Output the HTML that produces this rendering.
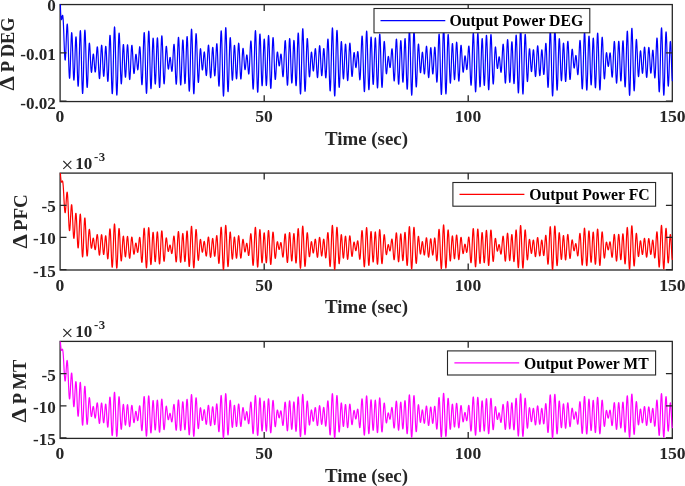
<!DOCTYPE html>
<html><head><meta charset="utf-8"><title>Output Power</title>
<style>
html,body{margin:0;padding:0;background:#fff;}
svg{display:block;}
text{font-family:"Liberation Serif","Times New Roman",serif;font-weight:bold;fill:#262626;}
.tk{font-size:17.1px;}
.lb{font-size:18.9px;}
.lg{font-size:15.75px;fill:#000;}
.ax{fill:none;stroke:#262626;stroke-width:1.3;}
</style></head><body>
<svg width="685" height="486" viewBox="0 0 685 486">
<rect x="0" y="0" width="685" height="486" fill="#ffffff"/>

<g>
<rect class="ax" x="60.1" y="4.55" width="612.2" height="97.00"/>
<path d="M60.40 4.55L60.52 9.71L60.64 12.82L60.77 15.01L60.89 16.68L61.01 17.95L61.13 18.85L61.26 19.42L61.38 19.67L61.50 19.63L61.62 19.34L61.75 18.85L61.87 18.23L61.99 17.52L62.11 16.82L62.24 16.17L62.36 15.67L62.48 15.36L62.60 15.31L62.73 15.58L62.85 16.20L62.97 17.20L63.09 18.61L63.22 20.41L63.34 22.60L63.46 25.15L63.58 28.02L63.71 31.14L63.83 34.45L63.95 37.88L64.07 41.34L64.20 44.74L64.32 47.98L64.44 50.99L64.56 53.68L64.69 55.97L64.81 57.80L64.93 59.10L65.05 59.84L65.18 60.01L65.30 59.58L65.42 58.58L65.54 57.04L65.66 55.00L65.79 52.52L65.91 49.70L66.03 46.61L66.15 43.35L66.28 40.05L66.40 36.80L66.52 33.72L66.64 30.91L66.77 28.48L66.89 26.51L67.01 25.09L67.13 24.27L67.26 24.10L67.38 24.61L67.50 25.79L67.62 27.64L67.75 30.11L67.87 33.15L67.99 36.68L68.11 40.62L68.24 44.85L68.36 49.26L68.48 53.74L68.60 58.16L68.73 62.40L68.85 66.33L68.97 69.84L69.09 72.85L69.22 75.25L69.34 76.99L69.46 78.03L69.58 78.32L69.71 77.87L69.83 76.71L69.95 74.86L70.07 72.39L70.20 69.38L70.32 65.93L70.44 62.15L70.56 58.15L70.68 54.07L70.81 50.04L70.93 46.18L71.05 42.61L71.17 39.45L71.30 36.81L71.42 34.76L71.54 33.37L71.66 32.69L71.79 32.74L71.91 33.52L72.03 35.01L72.15 37.16L72.28 39.91L72.40 43.17L72.52 46.84L72.64 50.81L72.77 54.95L72.89 59.14L73.01 63.24L73.13 67.13L73.26 70.68L73.38 73.79L73.50 76.36L73.62 78.31L73.75 79.58L73.87 80.13L73.99 79.95L74.11 79.05L74.24 77.46L74.36 75.23L74.48 72.44L74.60 69.19L74.73 65.57L74.85 61.71L74.97 57.75L75.09 53.80L75.22 50.01L75.34 46.50L75.46 43.38L75.58 40.78L75.70 38.77L75.83 37.43L75.95 36.81L76.07 36.94L76.19 37.82L76.32 39.42L76.44 41.72L76.56 44.63L76.68 48.07L76.81 51.94L76.93 56.12L77.05 60.48L77.17 64.87L77.30 69.17L77.42 73.23L77.54 76.92L77.66 80.13L77.79 82.73L77.91 84.66L78.03 85.84L78.15 86.22L78.28 85.78L78.40 84.54L78.52 82.51L78.64 79.76L78.77 76.36L78.89 72.42L79.01 68.04L79.13 63.37L79.26 58.53L79.38 53.68L79.50 48.97L79.62 44.54L79.75 40.53L79.87 37.06L79.99 34.26L80.11 32.20L80.24 30.96L80.36 30.59L80.48 31.10L80.60 32.48L80.73 34.70L80.85 37.71L80.97 41.42L81.09 45.72L81.21 50.50L81.34 55.62L81.46 60.92L81.58 66.26L81.70 71.48L81.83 76.43L81.95 80.96L82.07 84.95L82.19 88.26L82.32 90.82L82.44 92.54L82.56 93.38L82.68 93.30L82.81 92.32L82.93 90.45L83.05 87.76L83.17 84.33L83.30 80.25L83.42 75.65L83.54 70.65L83.66 65.40L83.79 60.06L83.91 54.77L84.03 49.69L84.15 44.96L84.28 40.71L84.40 37.07L84.52 34.12L84.64 31.96L84.77 30.62L84.89 30.15L85.01 30.55L85.13 31.80L85.26 33.85L85.38 36.64L85.50 40.07L85.62 44.04L85.75 48.42L85.87 53.10L85.99 57.93L86.11 62.76L86.23 67.47L86.36 71.91L86.48 75.98L86.60 79.54L86.72 82.52L86.85 84.84L86.97 86.45L87.09 87.32L87.21 87.43L87.34 86.80L87.46 85.47L87.58 83.50L87.70 80.96L87.83 77.93L87.95 74.53L88.07 70.87L88.19 67.05L88.32 63.20L88.44 59.44L88.56 55.87L88.68 52.60L88.81 49.72L88.93 47.30L89.05 45.40L89.17 44.06L89.30 43.31L89.42 43.15L89.54 43.55L89.66 44.49L89.79 45.92L89.91 47.77L90.03 49.97L90.15 52.42L90.28 55.04L90.40 57.74L90.52 60.41L90.64 62.98L90.77 65.36L90.89 67.46L91.01 69.24L91.13 70.64L91.25 71.62L91.38 72.18L91.50 72.29L91.62 71.99L91.74 71.29L91.87 70.23L91.99 68.88L92.11 67.29L92.23 65.53L92.36 63.68L92.48 61.82L92.60 60.02L92.72 58.36L92.85 56.90L92.97 55.69L93.09 54.79L93.21 54.22L93.34 54.02L93.46 54.18L93.58 54.70L93.70 55.55L93.83 56.71L93.95 58.13L94.07 59.74L94.19 61.49L94.32 63.31L94.44 65.11L94.56 66.84L94.68 68.41L94.81 69.77L94.93 70.85L95.05 71.61L95.17 72.00L95.30 72.01L95.42 71.62L95.54 70.83L95.66 69.68L95.79 68.18L95.91 66.38L96.03 64.34L96.15 62.12L96.27 59.81L96.40 57.47L96.52 55.18L96.64 53.04L96.76 51.11L96.89 49.46L97.01 48.16L97.13 47.26L97.25 46.79L97.38 46.78L97.50 47.25L97.62 48.18L97.74 49.55L97.87 51.33L97.99 53.46L98.11 55.88L98.23 58.53L98.36 61.31L98.48 64.14L98.60 66.94L98.72 69.60L98.85 72.05L98.97 74.21L99.09 76.00L99.21 77.37L99.34 78.27L99.46 78.66L99.58 78.54L99.70 77.90L99.83 76.76L99.95 75.15L100.07 73.13L100.19 70.75L100.32 68.09L100.44 65.24L100.56 62.28L100.68 59.31L100.81 56.43L100.93 53.71L101.05 51.26L101.17 49.15L101.29 47.45L101.42 46.21L101.54 45.47L101.66 45.25L101.78 45.56L101.91 46.38L102.03 47.70L102.15 49.45L102.27 51.59L102.40 54.04L102.52 56.72L102.64 59.54L102.76 62.39L102.89 65.20L103.01 67.85L103.13 70.27L103.25 72.37L103.38 74.07L103.50 75.33L103.62 76.09L103.74 76.34L103.87 76.06L103.99 75.26L104.11 73.98L104.23 72.24L104.36 70.13L104.48 67.70L104.60 65.04L104.72 62.24L104.85 59.41L104.97 56.64L105.09 54.04L105.21 51.69L105.34 49.68L105.46 48.09L105.58 46.98L105.70 46.40L105.83 46.37L105.95 46.90L106.07 47.99L106.19 49.60L106.31 51.69L106.44 54.19L106.56 57.03L106.68 60.11L106.80 63.33L106.93 66.57L107.05 69.74L107.17 72.72L107.29 75.40L107.42 77.69L107.54 79.50L107.66 80.75L107.78 81.39L107.91 81.39L108.03 80.72L108.15 79.40L108.27 77.45L108.40 74.92L108.52 71.88L108.64 68.41L108.76 64.62L108.89 60.61L109.01 56.52L109.13 52.47L109.25 48.59L109.38 45.00L109.50 41.83L109.62 39.18L109.74 37.15L109.87 35.82L109.99 35.24L110.11 35.44L110.23 36.44L110.36 38.22L110.48 40.74L110.60 43.95L110.72 47.75L110.85 52.04L110.97 56.72L111.09 61.63L111.21 66.64L111.34 71.61L111.46 76.38L111.58 80.80L111.70 84.76L111.82 88.11L111.95 90.75L112.07 92.60L112.19 93.60L112.31 93.69L112.44 92.87L112.56 91.16L112.68 88.58L112.80 85.21L112.93 81.14L113.05 76.48L113.17 71.35L113.29 65.90L113.42 60.28L113.54 54.66L113.66 49.19L113.78 44.04L113.91 39.34L114.03 35.25L114.15 31.87L114.27 29.31L114.40 27.64L114.52 26.92L114.64 27.16L114.76 28.36L114.89 30.48L115.01 33.48L115.13 37.26L115.25 41.71L115.38 46.70L115.50 52.11L115.62 57.76L115.74 63.50L115.87 69.16L115.99 74.59L116.11 79.63L116.23 84.13L116.36 87.98L116.48 91.07L116.60 93.32L116.72 94.65L116.84 95.06L116.97 94.52L117.09 93.07L117.21 90.76L117.33 87.65L117.46 83.85L117.58 79.47L117.70 74.65L117.82 69.52L117.95 64.25L118.07 58.99L118.19 53.88L118.31 49.08L118.44 44.72L118.56 40.92L118.68 37.78L118.80 35.39L118.93 33.80L119.05 33.05L119.17 33.14L119.29 34.06L119.42 35.77L119.54 38.20L119.66 41.26L119.78 44.85L119.91 48.85L120.03 53.14L120.15 57.58L120.27 62.02L120.40 66.35L120.52 70.41L120.64 74.11L120.76 77.32L120.89 79.97L121.01 81.98L121.13 83.30L121.25 83.90L121.38 83.79L121.50 82.98L121.62 81.52L121.74 79.46L121.86 76.89L121.99 73.89L122.11 70.58L122.23 67.07L122.35 63.47L122.48 59.91L122.60 56.51L122.72 53.37L122.84 50.59L122.97 48.25L123.09 46.44L123.21 45.19L123.33 44.54L123.46 44.50L123.58 45.06L123.70 46.20L123.82 47.86L123.95 49.98L124.07 52.48L124.19 55.27L124.31 58.25L124.44 61.31L124.56 64.36L124.68 67.27L124.80 69.96L124.93 72.32L125.05 74.29L125.17 75.79L125.29 76.78L125.42 77.23L125.54 77.12L125.66 76.45L125.78 75.25L125.91 73.57L126.03 71.46L126.15 69.00L126.27 66.27L126.40 63.36L126.52 60.37L126.64 57.40L126.76 54.56L126.88 51.93L127.01 49.62L127.13 47.69L127.25 46.21L127.37 45.23L127.50 44.79L127.62 44.90L127.74 45.56L127.86 46.74L127.99 48.42L128.11 50.54L128.23 53.03L128.35 55.80L128.48 58.78L128.60 61.87L128.72 64.96L128.84 67.97L128.97 70.79L129.09 73.33L129.21 75.51L129.33 77.27L129.46 78.56L129.58 79.32L129.70 79.55L129.82 79.23L129.95 78.37L130.07 77.02L130.19 75.20L130.31 72.98L130.44 70.44L130.56 67.65L130.68 64.70L130.80 61.69L130.93 58.71L131.05 55.84L131.17 53.19L131.29 50.82L131.42 48.82L131.54 47.23L131.66 46.10L131.78 45.45L131.90 45.31L132.03 45.66L132.15 46.48L132.27 47.75L132.39 49.41L132.52 51.40L132.64 53.65L132.76 56.08L132.88 58.62L133.01 61.17L133.13 63.65L133.25 65.99L133.37 68.10L133.50 69.94L133.62 71.43L133.74 72.55L133.86 73.27L133.99 73.57L134.11 73.45L134.23 72.94L134.35 72.06L134.48 70.85L134.60 69.38L134.72 67.69L134.84 65.87L134.97 63.97L135.09 62.09L135.21 60.28L135.33 58.61L135.46 57.15L135.58 55.95L135.70 55.05L135.82 54.49L135.95 54.27L136.07 54.40L136.19 54.88L136.31 55.67L136.44 56.74L136.56 58.04L136.68 59.52L136.80 61.11L136.93 62.74L137.05 64.35L137.17 65.85L137.29 67.19L137.41 68.30L137.54 69.13L137.66 69.63L137.78 69.78L137.90 69.54L138.03 68.93L138.15 67.95L138.27 66.63L138.39 65.00L138.52 63.12L138.64 61.05L138.76 58.86L138.88 56.64L139.01 54.46L139.13 52.40L139.25 50.56L139.37 49.01L139.50 47.81L139.62 47.03L139.74 46.71L139.86 46.89L139.99 47.58L140.11 48.77L140.23 50.46L140.35 52.60L140.48 55.15L140.60 58.03L140.72 61.16L140.84 64.45L140.97 67.81L141.09 71.12L141.21 74.28L141.33 77.18L141.46 79.73L141.58 81.83L141.70 83.41L141.82 84.38L141.95 84.72L142.07 84.38L142.19 83.37L142.31 81.68L142.43 79.35L142.56 76.44L142.68 73.01L142.80 69.16L142.92 64.99L143.05 60.62L143.17 56.17L143.29 51.77L143.41 47.55L143.54 43.65L143.66 40.17L143.78 37.23L143.90 34.93L144.03 33.35L144.15 32.53L144.27 32.52L144.39 33.34L144.52 34.96L144.64 37.36L144.76 40.47L144.88 44.22L145.01 48.50L145.13 53.19L145.25 58.18L145.37 63.30L145.50 68.42L145.62 73.40L145.74 78.08L145.86 82.33L145.99 86.03L146.11 89.06L146.23 91.34L146.35 92.79L146.48 93.38L146.60 93.07L146.72 91.88L146.84 89.84L146.97 87.00L147.09 83.45L147.21 79.29L147.33 74.63L147.45 69.61L147.58 64.38L147.70 59.09L147.82 53.89L147.94 48.93L148.07 44.35L148.19 40.29L148.31 36.87L148.43 34.18L148.56 32.29L148.68 31.26L148.80 31.11L148.92 31.85L149.05 33.44L149.17 35.84L149.29 38.96L149.41 42.71L149.54 46.98L149.66 51.63L149.78 56.52L149.90 61.51L150.03 66.44L150.15 71.16L150.27 75.55L150.39 79.46L150.52 82.78L150.64 85.42L150.76 87.31L150.88 88.39L151.01 88.64L151.13 88.06L151.25 86.68L151.37 84.55L151.50 81.75L151.62 78.35L151.74 74.49L151.86 70.28L151.99 65.86L152.11 61.36L152.23 56.94L152.35 52.73L152.47 48.86L152.60 45.45L152.72 42.60L152.84 40.41L152.96 38.93L153.09 38.20L153.21 38.25L153.33 39.06L153.45 40.61L153.58 42.83L153.70 45.65L153.82 48.98L153.94 52.70L154.07 56.70L154.19 60.83L154.31 64.97L154.43 68.98L154.56 72.73L154.68 76.09L154.80 78.97L154.92 81.26L155.05 82.89L155.17 83.82L155.29 84.01L155.41 83.45L155.54 82.16L155.66 80.19L155.78 77.60L155.90 74.47L156.03 70.90L156.15 67.01L156.27 62.92L156.39 58.77L156.52 54.68L156.64 50.79L156.76 47.23L156.88 44.10L157.01 41.52L157.13 39.56L157.25 38.30L157.37 37.76L157.49 37.98L157.62 38.95L157.74 40.64L157.86 43.00L157.98 45.97L158.11 49.44L158.23 53.32L158.35 57.49L158.47 61.81L158.60 66.17L158.72 70.41L158.84 74.42L158.96 78.06L159.09 81.23L159.21 83.83L159.33 85.78L159.45 87.02L159.58 87.51L159.70 87.24L159.82 86.20L159.94 84.44L160.07 82.01L160.19 78.97L160.31 75.42L160.43 71.47L160.56 67.24L160.68 62.84L160.80 58.42L160.92 54.09L161.05 49.99L161.17 46.24L161.29 42.95L161.41 40.20L161.54 38.08L161.66 36.65L161.78 35.93L161.90 35.95L162.03 36.70L162.15 38.15L162.27 40.24L162.39 42.92L162.51 46.10L162.64 49.67L162.76 53.54L162.88 57.58L163.00 61.67L163.13 65.70L163.25 69.54L163.37 73.10L163.49 76.26L163.62 78.95L163.74 81.10L163.86 82.65L163.98 83.58L164.11 83.87L164.23 83.52L164.35 82.56L164.47 81.04L164.60 79.02L164.72 76.56L164.84 73.75L164.96 70.70L165.09 67.48L165.21 64.22L165.33 60.99L165.45 57.91L165.58 55.06L165.70 52.52L165.82 50.36L165.94 48.62L166.07 47.35L166.19 46.56L166.31 46.26L166.43 46.44L166.56 47.08L166.68 48.12L166.80 49.52L166.92 51.22L167.05 53.15L167.17 55.22L167.29 57.36L167.41 59.49L167.53 61.54L167.66 63.44L167.78 65.13L167.90 66.56L168.02 67.69L168.15 68.48L168.27 68.94L168.39 69.06L168.51 68.85L168.64 68.34L168.76 67.56L168.88 66.57L169.00 65.42L169.13 64.16L169.25 62.86L169.37 61.59L169.49 60.40L169.62 59.35L169.74 58.49L169.86 57.86L169.98 57.49L170.11 57.41L170.23 57.62L170.35 58.11L170.47 58.88L170.60 59.88L170.72 61.08L170.84 62.43L170.96 63.87L171.09 65.34L171.21 66.78L171.33 68.12L171.45 69.30L171.58 70.25L171.70 70.92L171.82 71.28L171.94 71.29L172.07 70.93L172.19 70.18L172.31 69.07L172.43 67.61L172.56 65.83L172.68 63.79L172.80 61.54L172.92 59.15L173.04 56.70L173.17 54.27L173.29 51.94L173.41 49.79L173.53 47.91L173.66 46.37L173.78 45.22L173.90 44.54L174.02 44.34L174.15 44.66L174.27 45.52L174.39 46.88L174.51 48.74L174.64 51.05L174.76 53.75L174.88 56.77L175.00 60.03L175.13 63.43L175.25 66.87L175.37 70.26L175.49 73.47L175.62 76.43L175.74 79.02L175.86 81.16L175.98 82.78L176.11 83.83L176.23 84.25L176.35 84.03L176.47 83.16L176.60 81.65L176.72 79.55L176.84 76.91L176.96 73.79L177.09 70.28L177.21 66.49L177.33 62.51L177.45 58.48L177.58 54.51L177.70 50.71L177.82 47.20L177.94 44.09L178.06 41.47L178.19 39.43L178.31 38.02L178.43 37.30L178.55 37.28L178.68 37.98L178.80 39.37L178.92 41.41L179.04 44.05L179.17 47.20L179.29 50.77L179.41 54.66L179.53 58.75L179.66 62.91L179.78 67.02L179.90 70.95L180.02 74.58L180.15 77.81L180.27 80.53L180.39 82.66L180.51 84.14L180.64 84.92L180.76 84.99L180.88 84.33L181.00 82.97L181.13 80.97L181.25 78.37L181.37 75.27L181.49 71.76L181.62 67.96L181.74 63.98L181.86 59.96L181.98 56.02L182.11 52.28L182.23 48.87L182.35 45.90L182.47 43.45L182.60 41.61L182.72 40.43L182.84 39.96L182.96 40.20L183.08 41.15L183.21 42.77L183.33 45.02L183.45 47.82L183.57 51.08L183.70 54.69L183.82 58.53L183.94 62.49L184.06 66.42L184.19 70.20L184.31 73.71L184.43 76.82L184.55 79.44L184.68 81.47L184.80 82.85L184.92 83.52L185.04 83.46L185.17 82.66L185.29 81.15L185.41 78.96L185.53 76.17L185.66 72.87L185.78 69.14L185.90 65.12L186.02 60.93L186.15 56.70L186.27 52.57L186.39 48.68L186.51 45.16L186.64 42.11L186.76 39.65L186.88 37.86L187.00 36.81L187.13 36.54L187.25 37.07L187.37 38.39L187.49 40.46L187.62 43.25L187.74 46.65L187.86 50.59L187.98 54.93L188.10 59.56L188.23 64.32L188.35 69.08L188.47 73.69L188.59 78.00L188.72 81.88L188.84 85.21L188.96 87.88L189.08 89.79L189.21 90.89L189.33 91.13L189.45 90.49L189.57 88.99L189.70 86.66L189.82 83.57L189.94 79.79L190.06 75.44L190.19 70.64L190.31 65.53L190.43 60.25L190.55 54.97L190.68 49.83L190.80 44.99L190.92 40.59L191.04 36.76L191.17 33.62L191.29 31.26L191.41 29.75L191.53 29.14L191.66 29.45L191.78 30.68L191.90 32.78L192.02 35.70L192.15 39.36L192.27 43.65L192.39 48.45L192.51 53.62L192.64 59.01L192.76 64.47L192.88 69.84L193.00 74.97L193.12 79.71L193.25 83.93L193.37 87.51L193.49 90.36L193.61 92.39L193.74 93.55L193.86 93.82L193.98 93.19L194.10 91.69L194.23 89.38L194.35 86.31L194.47 82.60L194.59 78.34L194.72 73.67L194.84 68.73L194.96 63.66L195.08 58.60L195.21 53.70L195.33 49.10L195.45 44.93L195.57 41.29L195.70 38.29L195.82 35.99L195.94 34.45L196.06 33.71L196.19 33.76L196.31 34.59L196.43 36.17L196.55 38.42L196.68 41.27L196.80 44.63L196.92 48.37L197.04 52.40L197.17 56.57L197.29 60.76L197.41 64.86L197.53 68.73L197.66 72.27L197.78 75.39L197.90 78.01L198.02 80.05L198.15 81.48L198.27 82.28L198.39 82.43L198.51 81.95L198.63 80.89L198.76 79.29L198.88 77.22L199.00 74.76L199.12 72.01L199.25 69.05L199.37 66.01L199.49 62.97L199.61 60.03L199.74 57.29L199.86 54.83L199.98 52.72L200.10 51.02L200.23 49.77L200.35 49.00L200.47 48.70L200.59 48.88L200.72 49.52L200.84 50.55L200.96 51.95L201.08 53.64L201.21 55.54L201.33 57.59L201.45 59.69L201.57 61.76L201.70 63.74L201.82 65.53L201.94 67.08L202.06 68.33L202.19 69.25L202.31 69.79L202.43 69.94L202.55 69.71L202.68 69.11L202.80 68.17L202.92 66.93L203.04 65.44L203.17 63.76L203.29 61.97L203.41 60.14L203.53 58.34L203.65 56.65L203.78 55.13L203.90 53.85L204.02 52.86L204.14 52.21L204.27 51.93L204.39 52.04L204.51 52.54L204.63 53.42L204.76 54.66L204.88 56.21L205.00 58.03L205.12 60.05L205.25 62.21L205.37 64.43L205.49 66.63L205.61 68.74L205.74 70.67L205.86 72.36L205.98 73.74L206.10 74.76L206.23 75.36L206.35 75.54L206.47 75.26L206.59 74.52L206.72 73.36L206.84 71.78L206.96 69.85L207.08 67.61L207.21 65.14L207.33 62.51L207.45 59.80L207.57 57.10L207.70 54.51L207.82 52.09L207.94 49.94L208.06 48.12L208.19 46.69L208.31 45.71L208.43 45.21L208.55 45.22L208.67 45.72L208.80 46.72L208.92 48.18L209.04 50.05L209.16 52.29L209.29 54.82L209.41 57.57L209.53 60.44L209.65 63.34L209.78 66.18L209.90 68.88L210.02 71.35L210.14 73.50L210.27 75.27L210.39 76.60L210.51 77.46L210.63 77.80L210.76 77.64L210.88 76.96L211.00 75.80L211.12 74.19L211.25 72.20L211.37 69.88L211.49 67.32L211.61 64.60L211.74 61.81L211.86 59.05L211.98 56.40L212.10 53.97L212.23 51.82L212.35 50.03L212.47 48.67L212.59 47.77L212.72 47.36L212.84 47.46L212.96 48.06L213.08 49.15L213.21 50.67L213.33 52.59L213.45 54.82L213.57 57.30L213.69 59.93L213.82 62.62L213.94 65.28L214.06 67.80L214.18 70.11L214.31 72.11L214.43 73.73L214.55 74.91L214.67 75.60L214.80 75.77L214.92 75.41L215.04 74.52L215.16 73.13L215.29 71.29L215.41 69.04L215.53 66.46L215.65 63.65L215.78 60.68L215.90 57.67L216.02 54.73L216.14 51.94L216.27 49.43L216.39 47.28L216.51 45.57L216.63 44.37L216.76 43.74L216.88 43.71L217.00 44.31L217.12 45.51L217.25 47.31L217.37 49.66L217.49 52.48L217.61 55.71L217.74 59.23L217.86 62.96L217.98 66.77L218.10 70.53L218.23 74.13L218.35 77.44L218.47 80.36L218.59 82.77L218.71 84.60L218.84 85.76L218.96 86.21L219.08 85.91L219.20 84.86L219.33 83.07L219.45 80.57L219.57 77.44L219.69 73.75L219.82 69.60L219.94 65.11L220.06 60.42L220.18 55.64L220.31 50.94L220.43 46.44L220.55 42.30L220.67 38.63L220.80 35.56L220.92 33.19L221.04 31.60L221.16 30.84L221.29 30.96L221.41 31.97L221.53 33.84L221.65 36.53L221.78 39.98L221.90 44.10L222.02 48.77L222.14 53.86L222.27 59.24L222.39 64.74L222.51 70.22L222.63 75.51L222.76 80.46L222.88 84.93L223.00 88.78L223.12 91.90L223.25 94.19L223.37 95.59L223.49 96.05L223.61 95.55L223.73 94.10L223.86 91.74L223.98 88.53L224.10 84.57L224.22 79.96L224.35 74.84L224.47 69.35L224.59 63.64L224.71 57.88L224.84 52.23L224.96 46.86L225.08 41.91L225.20 37.53L225.33 33.83L225.45 30.92L225.57 28.89L225.69 27.78L225.82 27.62L225.94 28.41L226.06 30.12L226.18 32.70L226.31 36.07L226.43 40.13L226.55 44.74L226.67 49.78L226.80 55.10L226.92 60.54L227.04 65.95L227.16 71.16L227.29 76.03L227.41 80.43L227.53 84.22L227.65 87.32L227.78 89.63L227.90 91.11L228.02 91.71L228.14 91.44L228.27 90.31L228.39 88.38L228.51 85.71L228.63 82.39L228.76 78.54L228.88 74.27L229.00 69.72L229.12 65.03L229.24 60.35L229.37 55.81L229.49 51.55L229.61 47.70L229.73 44.35L229.86 41.61L229.98 39.55L230.10 38.21L230.22 37.62L230.35 37.79L230.47 38.69L230.59 40.29L230.71 42.51L230.84 45.27L230.96 48.48L231.08 52.02L231.20 55.77L231.33 59.61L231.45 63.42L231.57 67.07L231.69 70.45L231.82 73.44L231.94 75.98L232.06 77.96L232.18 79.36L232.31 80.12L232.43 80.23L232.55 79.71L232.67 78.58L232.80 76.88L232.92 74.70L233.04 72.10L233.16 69.18L233.29 66.05L233.41 62.81L233.53 59.58L233.65 56.47L233.78 53.57L233.90 51.00L234.02 48.83L234.14 47.14L234.26 45.97L234.39 45.38L234.51 45.36L234.63 45.92L234.75 47.04L234.88 48.67L235.00 50.77L235.12 53.24L235.24 56.02L235.37 59.00L235.49 62.08L235.61 65.17L235.73 68.14L235.86 70.91L235.98 73.37L236.10 75.46L236.22 77.09L236.35 78.21L236.47 78.78L236.59 78.78L236.71 78.22L236.84 77.11L236.96 75.48L237.08 73.39L237.20 70.90L237.33 68.09L237.45 65.06L237.57 61.90L237.69 58.71L237.82 55.60L237.94 52.66L238.06 49.99L238.18 47.67L238.31 45.78L238.43 44.37L238.55 43.50L238.67 43.18L238.80 43.42L238.92 44.22L239.04 45.55L239.16 47.37L239.28 49.61L239.41 52.21L239.53 55.08L239.65 58.14L239.77 61.28L239.90 64.41L240.02 67.44L240.14 70.26L240.26 72.80L240.39 74.98L240.51 76.74L240.63 78.03L240.75 78.81L240.88 79.07L241.00 78.80L241.12 78.03L241.24 76.79L241.37 75.11L241.49 73.07L241.61 70.73L241.73 68.17L241.86 65.48L241.98 62.74L242.10 60.05L242.22 57.48L242.35 55.11L242.47 53.02L242.59 51.26L242.71 49.89L242.84 48.93L242.96 48.41L243.08 48.33L243.20 48.68L243.33 49.44L243.45 50.56L243.57 52.00L243.69 53.69L243.82 55.58L243.94 57.58L244.06 59.62L244.18 61.62L244.30 63.53L244.43 65.25L244.55 66.75L244.67 67.97L244.79 68.87L244.92 69.42L245.04 69.63L245.16 69.47L245.28 68.99L245.41 68.19L245.53 67.13L245.65 65.85L245.77 64.41L245.90 62.87L246.02 61.31L246.14 59.80L246.26 58.39L246.39 57.15L246.51 56.15L246.63 55.42L246.75 55.00L246.88 54.93L247.00 55.20L247.12 55.82L247.24 56.76L247.37 58.01L247.49 59.51L247.61 61.22L247.73 63.06L247.86 64.97L247.98 66.88L248.10 68.70L248.22 70.36L248.35 71.79L248.47 72.91L248.59 73.68L248.71 74.05L248.84 73.98L248.96 73.45L249.08 72.47L249.20 71.04L249.32 69.19L249.45 66.98L249.57 64.46L249.69 61.70L249.81 58.78L249.94 55.80L250.06 52.86L250.18 50.05L250.30 47.47L250.43 45.21L250.55 43.36L250.67 41.99L250.79 41.17L250.92 40.94L251.04 41.32L251.16 42.33L251.28 43.96L251.41 46.18L251.53 48.93L251.65 52.16L251.77 55.76L251.90 59.66L252.02 63.73L252.14 67.86L252.26 71.93L252.39 75.81L252.51 79.39L252.63 82.55L252.75 85.19L252.88 87.21L253.00 88.55L253.12 89.16L253.24 88.99L253.37 88.04L253.49 86.33L253.61 83.89L253.73 80.78L253.86 77.07L253.98 72.88L254.10 68.31L254.22 63.48L254.34 58.54L254.47 53.63L254.59 48.89L254.71 44.45L254.83 40.46L254.96 37.02L255.08 34.24L255.20 32.21L255.32 30.99L255.45 30.63L255.57 31.13L255.69 32.49L255.81 34.68L255.94 37.63L256.06 41.27L256.18 45.48L256.30 50.16L256.43 55.17L256.55 60.36L256.67 65.59L256.79 70.70L256.92 75.55L257.04 79.99L257.16 83.89L257.28 87.16L257.41 89.68L257.53 91.39L257.65 92.24L257.77 92.21L257.90 91.31L258.02 89.55L258.14 87.01L258.26 83.75L258.39 79.87L258.51 75.50L258.63 70.77L258.75 65.81L258.88 60.78L259.00 55.83L259.12 51.09L259.24 46.73L259.37 42.85L259.49 39.57L259.61 37.00L259.73 35.19L259.85 34.19L259.98 34.04L260.10 34.72L260.22 36.21L260.34 38.46L260.47 41.38L260.59 44.88L260.71 48.86L260.83 53.17L260.96 57.69L261.08 62.27L261.20 66.77L261.32 71.04L261.45 74.97L261.57 78.42L261.69 81.29L261.81 83.50L261.94 84.98L262.06 85.69L262.18 85.62L262.30 84.78L262.43 83.19L262.55 80.91L262.67 78.03L262.79 74.64L262.92 70.85L263.04 66.79L263.16 62.58L263.28 58.38L263.41 54.31L263.53 50.50L263.65 47.08L263.77 44.16L263.90 41.83L264.02 40.17L264.14 39.23L264.26 39.03L264.39 39.59L264.51 40.88L264.63 42.87L264.75 45.48L264.87 48.64L265.00 52.24L265.12 56.16L265.24 60.28L265.36 64.47L265.49 68.59L265.61 72.50L265.73 76.08L265.85 79.22L265.98 81.81L266.10 83.77L266.22 85.03L266.34 85.54L266.47 85.29L266.59 84.29L266.71 82.56L266.83 80.15L266.96 77.13L267.08 73.60L267.20 69.67L267.32 65.45L267.45 61.08L267.57 56.68L267.69 52.41L267.81 48.38L267.94 44.73L268.06 41.56L268.18 38.98L268.30 37.07L268.43 35.89L268.55 35.47L268.67 35.83L268.79 36.97L268.92 38.84L269.04 41.40L269.16 44.56L269.28 48.25L269.41 52.33L269.53 56.70L269.65 61.22L269.77 65.76L269.89 70.19L270.02 74.37L270.14 78.18L270.26 81.51L270.38 84.26L270.51 86.36L270.63 87.74L270.75 88.38L270.87 88.25L271.00 87.36L271.12 85.75L271.24 83.46L271.36 80.58L271.49 77.18L271.61 73.37L271.73 69.26L271.85 64.99L271.98 60.66L272.10 56.42L272.22 52.38L272.34 48.65L272.47 45.34L272.59 42.54L272.71 40.32L272.83 38.74L272.96 37.83L273.08 37.60L273.20 38.05L273.32 39.16L273.45 40.87L273.57 43.12L273.69 45.84L273.81 48.93L273.94 52.30L274.06 55.84L274.18 59.44L274.30 62.99L274.43 66.40L274.55 69.55L274.67 72.38L274.79 74.79L274.91 76.74L275.04 78.18L275.16 79.09L275.28 79.45L275.40 79.28L275.53 78.59L275.65 77.44L275.77 75.88L275.89 73.97L276.02 71.78L276.14 69.41L276.26 66.93L276.38 64.43L276.51 62.00L276.63 59.70L276.75 57.61L276.87 55.80L277.00 54.30L277.12 53.16L277.24 52.40L277.36 52.02L277.49 52.01L277.61 52.36L277.73 53.04L277.85 53.99L277.98 55.17L278.10 56.51L278.22 57.96L278.34 59.44L278.47 60.89L278.59 62.24L278.71 63.45L278.83 64.45L278.96 65.22L279.08 65.71L279.20 65.91L279.32 65.83L279.45 65.45L279.57 64.82L279.69 63.95L279.81 62.88L279.93 61.68L280.06 60.39L280.18 59.08L280.30 57.80L280.42 56.63L280.55 55.62L280.67 54.82L280.79 54.29L280.91 54.06L281.04 54.15L281.16 54.58L281.28 55.35L281.40 56.45L281.53 57.85L281.65 59.51L281.77 61.39L281.89 63.42L282.02 65.53L282.14 67.66L282.26 69.72L282.38 71.64L282.51 73.34L282.63 74.76L282.75 75.82L282.87 76.49L283.00 76.72L283.12 76.48L283.24 75.76L283.36 74.57L283.49 72.92L283.61 70.86L283.73 68.43L283.85 65.70L283.98 62.74L284.10 59.64L284.22 56.50L284.34 53.40L284.47 50.45L284.59 47.75L284.71 45.37L284.83 43.40L284.95 41.92L285.08 40.98L285.20 40.62L285.32 40.86L285.44 41.71L285.57 43.16L285.69 45.17L285.81 47.70L285.93 50.67L286.06 54.00L286.18 57.61L286.30 61.38L286.42 65.21L286.55 68.99L286.67 72.59L286.79 75.91L286.91 78.85L287.04 81.32L287.16 83.23L287.28 84.53L287.40 85.18L287.53 85.14L287.65 84.42L287.77 83.03L287.89 81.01L288.02 78.42L288.14 75.33L288.26 71.84L288.38 68.05L288.51 64.06L288.63 60.01L288.75 56.01L288.87 52.19L289.00 48.66L289.12 45.53L289.24 42.89L289.36 40.83L289.49 39.40L289.61 38.66L289.73 38.61L289.85 39.27L289.98 40.62L290.10 42.60L290.22 45.16L290.34 48.21L290.46 51.66L290.59 55.40L290.71 59.31L290.83 63.26L290.95 67.14L291.08 70.82L291.20 74.18L291.32 77.12L291.44 79.53L291.57 81.36L291.69 82.54L291.81 83.03L291.93 82.81L292.06 81.91L292.18 80.34L292.30 78.15L292.42 75.43L292.55 72.25L292.67 68.73L292.79 64.97L292.91 61.11L293.04 57.26L293.16 53.55L293.28 50.12L293.40 47.06L293.53 44.49L293.65 42.49L293.77 41.13L293.89 40.45L294.02 40.49L294.14 41.25L294.26 42.71L294.38 44.82L294.51 47.52L294.63 50.72L294.75 54.33L294.87 58.23L295.00 62.30L295.12 66.39L295.24 70.39L295.36 74.15L295.48 77.55L295.61 80.48L295.73 82.84L295.85 84.54L295.97 85.52L296.10 85.73L296.22 85.17L296.34 83.84L296.46 81.77L296.59 79.02L296.71 75.66L296.83 71.80L296.95 67.55L297.08 63.03L297.20 58.40L297.32 53.78L297.44 49.32L297.57 45.17L297.69 41.45L297.81 38.29L297.93 35.80L298.06 34.05L298.18 33.10L298.30 33.01L298.42 33.78L298.55 35.40L298.67 37.82L298.79 40.99L298.91 44.82L299.04 49.20L299.16 54.00L299.28 59.09L299.40 64.31L299.53 69.52L299.65 74.55L299.77 79.27L299.89 83.52L300.02 87.18L300.14 90.14L300.26 92.31L300.38 93.61L300.50 94.00L300.63 93.48L300.75 92.04L300.87 89.73L300.99 86.62L301.12 82.77L301.24 78.32L301.36 73.38L301.48 68.09L301.61 62.61L301.73 57.10L301.85 51.70L301.97 46.59L302.10 41.89L302.22 37.75L302.34 34.28L302.46 31.59L302.59 29.73L302.71 28.78L302.83 28.74L302.95 29.61L303.08 31.38L303.20 33.97L303.32 37.31L303.44 41.30L303.57 45.83L303.69 50.75L303.81 55.93L303.93 61.22L304.06 66.46L304.18 71.50L304.30 76.21L304.42 80.46L304.55 84.12L304.67 87.11L304.79 89.34L304.91 90.77L305.04 91.36L305.16 91.11L305.28 90.05L305.40 88.21L305.52 85.66L305.65 82.50L305.77 78.82L305.89 74.73L306.01 70.38L306.14 65.88L306.26 61.37L306.38 56.98L306.50 52.85L306.63 49.07L306.75 45.77L306.87 43.01L306.99 40.87L307.12 39.40L307.24 38.62L307.36 38.54L307.48 39.13L307.61 40.36L307.73 42.17L307.85 44.50L307.97 47.25L308.10 50.32L308.22 53.62L308.34 57.02L308.46 60.43L308.59 63.73L308.71 66.82L308.83 69.61L308.95 72.02L309.08 73.99L309.20 75.47L309.32 76.44L309.44 76.86L309.57 76.77L309.69 76.16L309.81 75.09L309.93 73.62L310.06 71.79L310.18 69.71L310.30 67.43L310.42 65.06L310.54 62.69L310.67 60.39L310.79 58.26L310.91 56.36L311.03 54.76L311.16 53.51L311.28 52.65L311.40 52.19L311.52 52.16L311.65 52.53L311.77 53.28L311.89 54.38L312.01 55.78L312.14 57.42L312.26 59.22L312.38 61.11L312.50 63.02L312.63 64.87L312.75 66.58L312.87 68.09L312.99 69.33L313.12 70.26L313.24 70.82L313.36 71.01L313.48 70.80L313.61 70.20L313.73 69.23L313.85 67.92L313.97 66.32L314.10 64.47L314.22 62.45L314.34 60.34L314.46 58.19L314.59 56.10L314.71 54.14L314.83 52.39L314.95 50.91L315.08 49.76L315.20 48.99L315.32 48.63L315.44 48.71L315.56 49.23L315.69 50.18L315.81 51.54L315.93 53.27L316.05 55.31L316.18 57.61L316.30 60.10L316.42 62.68L316.54 65.29L316.67 67.83L316.79 70.22L316.91 72.39L317.03 74.24L317.16 75.74L317.28 76.81L317.40 77.42L317.52 77.55L317.65 77.19L317.77 76.35L317.89 75.05L318.01 73.32L318.14 71.22L318.26 68.82L318.38 66.19L318.50 63.41L318.63 60.57L318.75 57.77L318.87 55.08L318.99 52.60L319.12 50.40L319.24 48.56L319.36 47.13L319.48 46.16L319.61 45.68L319.73 45.71L319.85 46.23L319.97 47.24L320.10 48.69L320.22 50.55L320.34 52.74L320.46 55.19L320.58 57.83L320.71 60.56L320.83 63.29L320.95 65.93L321.07 68.40L321.20 70.61L321.32 72.48L321.44 73.97L321.56 75.02L321.69 75.59L321.81 75.67L321.93 75.27L322.05 74.38L322.18 73.06L322.30 71.35L322.42 69.30L322.54 66.99L322.67 64.51L322.79 61.94L322.91 59.38L323.03 56.91L323.16 54.63L323.28 52.61L323.40 50.94L323.52 49.67L323.65 48.85L323.77 48.52L323.89 48.69L324.01 49.36L324.14 50.51L324.26 52.10L324.38 54.09L324.50 56.40L324.63 58.96L324.75 61.68L324.87 64.46L324.99 67.20L325.12 69.80L325.24 72.17L325.36 74.22L325.48 75.87L325.61 77.04L325.73 77.70L325.85 77.79L325.97 77.30L326.09 76.24L326.22 74.63L326.34 72.50L326.46 69.92L326.58 66.97L326.71 63.72L326.83 60.29L326.95 56.78L327.07 53.31L327.20 49.99L327.32 46.94L327.44 44.27L327.56 42.06L327.69 40.42L327.81 39.40L327.93 39.05L328.05 39.40L328.18 40.47L328.30 42.23L328.42 44.64L328.54 47.66L328.67 51.19L328.79 55.14L328.91 59.41L329.03 63.86L329.16 68.36L329.28 72.78L329.40 76.98L329.52 80.83L329.65 84.20L329.77 86.99L329.89 89.09L330.01 90.44L330.14 90.98L330.26 90.67L330.38 89.52L330.50 87.53L330.63 84.76L330.75 81.28L330.87 77.17L330.99 72.55L331.11 67.55L331.24 62.30L331.36 56.95L331.48 51.66L331.60 46.59L331.73 41.88L331.85 37.67L331.97 34.09L332.09 31.24L332.22 29.22L332.34 28.10L332.46 27.90L332.58 28.65L332.71 30.33L332.83 32.89L332.95 36.28L333.07 40.38L333.20 45.10L333.32 50.30L333.44 55.84L333.56 61.55L333.69 67.27L333.81 72.85L333.93 78.12L334.05 82.93L334.18 87.15L334.30 90.66L334.42 93.35L334.54 95.15L334.67 96.01L334.79 95.91L334.91 94.86L335.03 92.89L335.16 90.05L335.28 86.44L335.40 82.16L335.52 77.34L335.65 72.11L335.77 66.64L335.89 61.07L336.01 55.58L336.13 50.31L336.26 45.41L336.38 41.03L336.50 37.29L336.62 34.28L336.75 32.08L336.87 30.76L336.99 30.33L337.11 30.81L337.24 32.15L337.36 34.33L337.48 37.25L337.60 40.82L337.73 44.93L337.85 49.45L337.97 54.24L338.09 59.16L338.22 64.05L338.34 68.77L338.46 73.18L338.58 77.16L338.71 80.59L338.83 83.39L338.95 85.47L339.07 86.79L339.20 87.32L339.32 87.06L339.44 86.03L339.56 84.28L339.69 81.88L339.81 78.92L339.93 75.49L340.05 71.72L340.18 67.72L340.30 63.63L340.42 59.59L340.54 55.71L340.67 52.11L340.79 48.92L340.91 46.22L341.03 44.08L341.15 42.57L341.28 41.73L341.40 41.57L341.52 42.08L341.64 43.23L341.77 44.98L341.89 47.25L342.01 49.97L342.13 53.03L342.26 56.33L342.38 59.75L342.50 63.18L342.62 66.49L342.75 69.59L342.87 72.36L342.99 74.73L343.11 76.60L343.24 77.93L343.36 78.67L343.48 78.81L343.60 78.34L343.73 77.28L343.85 75.67L343.97 73.58L344.09 71.08L344.22 68.25L344.34 65.18L344.46 62.00L344.58 58.79L344.71 55.68L344.83 52.77L344.95 50.15L345.07 47.92L345.20 46.14L345.32 44.88L345.44 44.18L345.56 44.06L345.69 44.54L345.81 45.58L345.93 47.17L346.05 49.24L346.17 51.74L346.30 54.58L346.42 57.66L346.54 60.90L346.66 64.18L346.79 67.40L346.91 70.45L347.03 73.25L347.15 75.69L347.28 77.71L347.40 79.23L347.52 80.20L347.64 80.61L347.77 80.43L347.89 79.68L348.01 78.37L348.13 76.55L348.26 74.27L348.38 71.61L348.50 68.66L348.62 65.50L348.75 62.23L348.87 58.96L348.99 55.78L349.11 52.79L349.24 50.09L349.36 47.75L349.48 45.84L349.60 44.41L349.73 43.52L349.85 43.16L349.97 43.36L350.09 44.10L350.22 45.34L350.34 47.05L350.46 49.16L350.58 51.60L350.71 54.29L350.83 57.15L350.95 60.08L351.07 62.99L351.19 65.79L351.32 68.40L351.44 70.73L351.56 72.73L351.68 74.34L351.81 75.51L351.93 76.23L352.05 76.47L352.17 76.26L352.30 75.59L352.42 74.52L352.54 73.09L352.66 71.36L352.79 69.39L352.91 67.25L353.03 65.04L353.15 62.81L353.28 60.66L353.40 58.65L353.52 56.85L353.64 55.31L353.77 54.08L353.89 53.20L354.01 52.68L354.13 52.53L354.26 52.74L354.38 53.29L354.50 54.15L354.62 55.27L354.75 56.60L354.87 58.07L354.99 59.63L355.11 61.20L355.24 62.72L355.36 64.11L355.48 65.33L355.60 66.32L355.73 67.03L355.85 67.44L355.97 67.53L356.09 67.28L356.22 66.72L356.34 65.85L356.46 64.72L356.58 63.36L356.70 61.84L356.83 60.21L356.95 58.55L357.07 56.92L357.19 55.40L357.32 54.06L357.44 52.95L357.56 52.15L357.68 51.68L357.81 51.60L357.93 51.92L358.05 52.65L358.17 53.79L358.30 55.30L358.42 57.15L358.54 59.30L358.66 61.67L358.79 64.20L358.91 66.79L359.03 69.38L359.15 71.85L359.28 74.13L359.40 76.12L359.52 77.76L359.64 78.96L359.77 79.67L359.89 79.84L360.01 79.46L360.13 78.50L360.26 76.98L360.38 74.93L360.50 72.38L360.62 69.41L360.75 66.09L360.87 62.50L360.99 58.76L361.11 54.98L361.24 51.26L361.36 47.72L361.48 44.48L361.60 41.64L361.72 39.29L361.85 37.53L361.97 36.41L362.09 35.99L362.21 36.29L362.34 37.33L362.46 39.08L362.58 41.52L362.70 44.59L362.83 48.20L362.95 52.26L363.07 56.66L363.19 61.28L363.32 65.99L363.44 70.65L363.56 75.13L363.68 79.29L363.81 83.01L363.93 86.18L364.05 88.69L364.17 90.47L364.30 91.46L364.42 91.63L364.54 90.95L364.66 89.44L364.79 87.14L364.91 84.10L365.03 80.42L365.15 76.19L365.28 71.53L365.40 66.58L365.52 61.47L365.64 56.35L365.77 51.37L365.89 46.68L366.01 42.40L366.13 38.67L366.26 35.60L366.38 33.26L366.50 31.74L366.62 31.07L366.74 31.28L366.87 32.35L366.99 34.26L367.11 36.94L367.23 40.31L367.36 44.29L367.48 48.73L367.60 53.52L367.72 58.51L367.85 63.56L367.97 68.50L368.09 73.21L368.21 77.53L368.34 81.35L368.46 84.55L368.58 87.04L368.70 88.75L368.83 89.63L368.95 89.68L369.07 88.88L369.19 87.27L369.32 84.92L369.44 81.88L369.56 78.27L369.68 74.20L369.81 69.80L369.93 65.20L370.05 60.55L370.17 56.00L370.30 51.68L370.42 47.72L370.54 44.25L370.66 41.37L370.79 39.17L370.91 37.70L371.03 37.01L371.15 37.12L371.28 38.01L371.40 39.65L371.52 41.98L371.64 44.92L371.76 48.37L371.89 52.23L372.01 56.35L372.13 60.62L372.25 64.88L372.38 69.01L372.50 72.86L372.62 76.32L372.74 79.28L372.87 81.64L372.99 83.32L373.11 84.28L373.23 84.48L373.36 83.92L373.48 82.62L373.60 80.62L373.72 77.99L373.85 74.81L373.97 71.18L374.09 67.24L374.21 63.09L374.34 58.88L374.46 54.74L374.58 50.81L374.70 47.21L374.83 44.06L374.95 41.47L375.07 39.52L375.19 38.28L375.32 37.78L375.44 38.05L375.56 39.09L375.68 40.85L375.81 43.30L375.93 46.36L376.05 49.93L376.17 53.90L376.30 58.15L376.42 62.55L376.54 66.97L376.66 71.26L376.78 75.29L376.91 78.93L377.03 82.08L377.15 84.62L377.27 86.48L377.40 87.61L377.52 87.95L377.64 87.50L377.76 86.27L377.89 84.29L378.01 81.62L378.13 78.33L378.25 74.54L378.38 70.34L378.50 65.86L378.62 61.24L378.74 56.62L378.87 52.12L378.99 47.89L379.11 44.05L379.23 40.72L379.36 37.99L379.48 35.93L379.60 34.62L379.72 34.09L379.85 34.34L379.97 35.38L380.09 37.16L380.21 39.64L380.34 42.73L380.46 46.34L380.58 50.37L380.70 54.69L380.83 59.17L380.95 63.70L381.07 68.12L381.19 72.33L381.32 76.19L381.44 79.60L381.56 82.47L381.68 84.72L381.81 86.29L381.93 87.15L382.05 87.28L382.17 86.70L382.29 85.42L382.42 83.50L382.54 81.00L382.66 78.02L382.78 74.63L382.91 70.96L383.03 67.10L383.15 63.19L383.27 59.33L383.40 55.63L383.52 52.20L383.64 49.13L383.76 46.51L383.89 44.39L384.01 42.83L384.13 41.86L384.25 41.48L384.38 41.69L384.50 42.47L384.62 43.76L384.74 45.52L384.87 47.68L384.99 50.15L385.11 52.84L385.23 55.67L385.36 58.54L385.48 61.36L385.60 64.05L385.72 66.51L385.85 68.69L385.97 70.53L386.09 71.98L386.21 73.01L386.34 73.61L386.46 73.79L386.58 73.55L386.70 72.92L386.83 71.96L386.95 70.71L387.07 69.23L387.19 67.59L387.31 65.86L387.44 64.12L387.56 62.43L387.68 60.86L387.80 59.46L387.93 58.29L388.05 57.38L388.17 56.77L388.29 56.46L388.42 56.46L388.54 56.76L388.66 57.33L388.78 58.15L388.91 59.15L389.03 60.30L389.15 61.54L389.27 62.79L389.40 64.01L389.52 65.13L389.64 66.09L389.76 66.85L389.89 67.35L390.01 67.56L390.13 67.47L390.25 67.07L390.38 66.35L390.50 65.34L390.62 64.06L390.74 62.56L390.87 60.89L390.99 59.10L391.11 57.26L391.23 55.44L391.36 53.72L391.48 52.16L391.60 50.83L391.72 49.80L391.85 49.11L391.97 48.81L392.09 48.92L392.21 49.46L392.33 50.44L392.46 51.83L392.58 53.61L392.70 55.74L392.82 58.16L392.95 60.80L393.07 63.58L393.19 66.41L393.31 69.22L393.44 71.91L393.56 74.38L393.68 76.56L393.80 78.36L393.93 79.73L394.05 80.59L394.17 80.92L394.29 80.69L394.42 79.89L394.54 78.54L394.66 76.65L394.78 74.28L394.91 71.49L395.03 68.36L395.15 64.97L395.27 61.42L395.40 57.81L395.52 54.26L395.64 50.86L395.76 47.73L395.89 44.97L396.01 42.65L396.13 40.86L396.25 39.65L396.38 39.07L396.50 39.15L396.62 39.88L396.74 41.24L396.87 43.22L396.99 45.74L397.11 48.73L397.23 52.12L397.35 55.80L397.48 59.66L397.60 63.58L397.72 67.45L397.84 71.15L397.97 74.57L398.09 77.60L398.21 80.15L398.33 82.14L398.46 83.51L398.58 84.22L398.70 84.25L398.82 83.59L398.95 82.27L399.07 80.32L399.19 77.81L399.31 74.82L399.44 71.44L399.56 67.78L399.68 63.95L399.80 60.07L399.93 56.26L400.05 52.65L400.17 49.34L400.29 46.45L400.42 44.06L400.54 42.25L400.66 41.07L400.78 40.56L400.91 40.74L401.03 41.60L401.15 43.11L401.27 45.22L401.40 47.87L401.52 50.95L401.64 54.38L401.76 58.05L401.89 61.82L402.01 65.58L402.13 69.21L402.25 72.58L402.37 75.58L402.50 78.12L402.62 80.10L402.74 81.45L402.86 82.14L402.99 82.14L403.11 81.43L403.23 80.05L403.35 78.03L403.48 75.43L403.60 72.34L403.72 68.85L403.84 65.09L403.97 61.16L404.09 57.20L404.21 53.34L404.33 49.71L404.46 46.42L404.58 43.60L404.70 41.33L404.82 39.71L404.95 38.79L405.07 38.61L405.19 39.18L405.31 40.50L405.44 42.54L405.56 45.23L405.68 48.51L405.80 52.27L405.93 56.41L406.05 60.79L406.17 65.28L406.29 69.74L406.42 74.03L406.54 78.01L406.66 81.55L406.78 84.54L406.91 86.87L407.03 88.46L407.15 89.26L407.27 89.23L407.39 88.35L407.52 86.64L407.64 84.15L407.76 80.94L407.88 77.10L408.01 72.73L408.13 67.97L408.25 62.95L408.37 57.81L408.50 52.72L408.62 47.81L408.74 43.26L408.86 39.18L408.99 35.70L409.11 32.94L409.23 30.99L409.35 29.89L409.48 29.71L409.60 30.44L409.72 32.07L409.84 34.56L409.97 37.85L410.09 41.84L410.21 46.42L410.33 51.46L410.46 56.81L410.58 62.33L410.70 67.86L410.82 73.23L410.95 78.29L411.07 82.89L411.19 86.91L411.31 90.23L411.44 92.74L411.56 94.39L411.68 95.12L411.80 94.92L411.93 93.79L412.05 91.77L412.17 88.91L412.29 85.31L412.41 81.06L412.54 76.30L412.66 71.15L412.78 65.78L412.90 60.33L413.03 54.95L413.15 49.81L413.27 45.04L413.39 40.78L413.52 37.14L413.64 34.22L413.76 32.10L413.88 30.82L414.01 30.42L414.13 30.89L414.25 32.21L414.37 34.33L414.50 37.17L414.62 40.65L414.74 44.65L414.86 49.05L414.99 53.72L415.11 58.52L415.23 63.31L415.35 67.95L415.48 72.30L415.60 76.26L415.72 79.70L415.84 82.55L415.97 84.73L416.09 86.19L416.21 86.91L416.33 86.89L416.46 86.14L416.58 84.70L416.70 82.64L416.82 80.04L416.95 76.98L417.07 73.57L417.19 69.93L417.31 66.17L417.44 62.41L417.56 58.77L417.68 55.35L417.80 52.26L417.92 49.58L418.05 47.37L418.17 45.70L418.29 44.60L418.41 44.08L418.54 44.14L418.66 44.76L418.78 45.90L418.90 47.50L419.03 49.49L419.15 51.80L419.27 54.33L419.39 56.99L419.52 59.68L419.64 62.31L419.76 64.79L419.88 67.04L420.01 68.98L420.13 70.56L420.25 71.73L420.37 72.46L420.50 72.74L420.62 72.56L420.74 71.96L420.86 70.97L420.99 69.62L421.11 67.99L421.23 66.14L421.35 64.15L421.48 62.10L421.60 60.06L421.72 58.13L421.84 56.37L421.97 54.86L422.09 53.64L422.21 52.78L422.33 52.29L422.46 52.21L422.58 52.53L422.70 53.24L422.82 54.32L422.94 55.72L423.07 57.41L423.19 59.30L423.31 61.35L423.43 63.45L423.56 65.55L423.68 67.56L423.80 69.40L423.92 71.01L424.05 72.32L424.17 73.27L424.29 73.83L424.41 73.97L424.54 73.68L424.66 72.95L424.78 71.81L424.90 70.29L425.03 68.44L425.15 66.31L425.27 63.97L425.39 61.50L425.52 58.97L425.64 56.48L425.76 54.10L425.88 51.92L426.01 50.01L426.13 48.44L426.25 47.26L426.37 46.52L426.50 46.24L426.62 46.45L426.74 47.13L426.86 48.27L426.99 49.84L427.11 51.79L427.23 54.06L427.35 56.58L427.48 59.27L427.60 62.05L427.72 64.82L427.84 67.50L427.96 70.01L428.09 72.25L428.21 74.17L428.33 75.70L428.45 76.78L428.58 77.40L428.70 77.52L428.82 77.14L428.94 76.29L429.07 74.98L429.19 73.26L429.31 71.19L429.43 68.84L429.56 66.28L429.68 63.60L429.80 60.90L429.92 58.25L430.05 55.74L430.17 53.46L430.29 51.48L430.41 49.87L430.54 48.67L430.66 47.93L430.78 47.66L430.90 47.87L431.03 48.56L431.15 49.68L431.27 51.20L431.39 53.07L431.52 55.22L431.64 57.57L431.76 60.03L431.88 62.52L432.01 64.95L432.13 67.24L432.25 69.29L432.37 71.04L432.50 72.42L432.62 73.39L432.74 73.90L432.86 73.94L432.98 73.50L433.11 72.60L433.23 71.26L433.35 69.53L433.47 67.48L433.60 65.17L433.72 62.69L433.84 60.13L433.96 57.57L434.09 55.12L434.21 52.86L434.33 50.89L434.45 49.28L434.58 48.09L434.70 47.38L434.82 47.19L434.94 47.54L435.07 48.42L435.19 49.81L435.31 51.69L435.43 54.01L435.56 56.68L435.68 59.62L435.80 62.75L435.92 65.96L436.05 69.14L436.17 72.19L436.29 74.99L436.41 77.44L436.54 79.46L436.66 80.95L436.78 81.87L436.90 82.16L437.03 81.79L437.15 80.75L437.27 79.07L437.39 76.78L437.52 73.92L437.64 70.59L437.76 66.87L437.88 62.86L438.00 58.70L438.13 54.49L438.25 50.38L438.37 46.49L438.49 42.94L438.62 39.86L438.74 37.35L438.86 35.49L438.98 34.37L439.11 34.02L439.23 34.48L439.35 35.75L439.47 37.80L439.60 40.59L439.72 44.06L439.84 48.11L439.96 52.63L440.09 57.50L440.21 62.57L440.33 67.71L440.45 72.77L440.58 77.59L440.70 82.03L440.82 85.96L440.94 89.26L441.07 91.82L441.19 93.55L441.31 94.41L441.43 94.36L441.56 93.39L441.68 91.51L441.80 88.77L441.92 85.26L442.05 81.05L442.17 76.26L442.29 71.03L442.41 65.51L442.54 59.85L442.66 54.21L442.78 48.76L442.90 43.64L443.02 39.01L443.15 34.99L443.27 31.71L443.39 29.27L443.51 27.72L443.64 27.11L443.76 27.47L443.88 28.78L444.00 31.00L444.13 34.07L444.25 37.90L444.37 42.37L444.49 47.37L444.62 52.73L444.74 58.32L444.86 63.96L444.98 69.50L445.11 74.78L445.23 79.65L445.35 83.97L445.47 87.62L445.60 90.50L445.72 92.54L445.84 93.68L445.96 93.90L446.09 93.21L446.21 91.63L446.33 89.21L446.45 86.04L446.58 82.22L446.70 77.87L446.82 73.12L446.94 68.11L447.07 63.00L447.19 57.94L447.31 53.07L447.43 48.55L447.56 44.48L447.68 41.00L447.80 38.19L447.92 36.13L448.05 34.87L448.17 34.43L448.29 34.81L448.41 35.99L448.53 37.91L448.66 40.51L448.78 43.69L448.90 47.34L449.02 51.35L449.15 55.58L449.27 59.90L449.39 64.18L449.51 68.27L449.64 72.05L449.76 75.42L449.88 78.27L450.00 80.52L450.13 82.11L450.25 83.01L450.37 83.19L450.49 82.67L450.62 81.46L450.74 79.64L450.86 77.26L450.98 74.40L451.11 71.19L451.23 67.71L451.35 64.10L451.47 60.48L451.60 56.96L451.72 53.66L451.84 50.69L451.96 48.14L452.09 46.10L452.21 44.62L452.33 43.75L452.45 43.52L452.58 43.91L452.70 44.93L452.82 46.51L452.94 48.62L453.07 51.17L453.19 54.07L453.31 57.22L453.43 60.52L453.55 63.85L453.68 67.10L453.80 70.16L453.92 72.93L454.04 75.32L454.17 77.24L454.29 78.63L454.41 79.45L454.53 79.67L454.66 79.29L454.78 78.30L454.90 76.75L455.02 74.69L455.15 72.19L455.27 69.31L455.39 66.17L455.51 62.86L455.64 59.49L455.76 56.16L455.88 52.99L456.00 50.08L456.13 47.52L456.25 45.39L456.37 43.76L456.49 42.69L456.62 42.20L456.74 42.32L456.86 43.04L456.98 44.34L457.11 46.17L457.23 48.48L457.35 51.20L457.47 54.24L457.60 57.50L457.72 60.89L457.84 64.29L457.96 67.62L458.09 70.75L458.21 73.60L458.33 76.09L458.45 78.13L458.57 79.67L458.70 80.67L458.82 81.09L458.94 80.94L459.06 80.22L459.19 78.96L459.31 77.21L459.43 75.02L459.55 72.47L459.68 69.63L459.80 66.61L459.92 63.49L460.04 60.37L460.17 57.35L460.29 54.51L460.41 51.94L460.53 49.72L460.66 47.90L460.78 46.54L460.90 45.66L461.02 45.27L461.15 45.39L461.27 45.99L461.39 47.04L461.51 48.50L461.64 50.30L461.76 52.38L461.88 54.67L462.00 57.08L462.13 59.54L462.25 61.95L462.37 64.25L462.49 66.36L462.62 68.21L462.74 69.75L462.86 70.95L462.98 71.77L463.11 72.20L463.23 72.24L463.35 71.90L463.47 71.21L463.59 70.21L463.72 68.95L463.84 67.50L463.96 65.90L464.08 64.24L464.21 62.57L464.33 60.98L464.45 59.52L464.57 58.24L464.70 57.21L464.82 56.45L464.94 56.00L465.06 55.87L465.19 56.05L465.31 56.55L465.43 57.33L465.55 58.36L465.68 59.58L465.80 60.96L465.92 62.42L466.04 63.89L466.17 65.32L466.29 66.63L466.41 67.75L466.53 68.65L466.66 69.25L466.78 69.53L466.90 69.46L467.02 69.02L467.15 68.22L467.27 67.07L467.39 65.59L467.51 63.84L467.64 61.87L467.76 59.73L467.88 57.50L468.00 55.27L468.13 53.11L468.25 51.11L468.37 49.35L468.49 47.89L468.61 46.82L468.74 46.17L468.86 46.01L468.98 46.34L469.10 47.19L469.23 48.55L469.35 50.39L469.47 52.68L469.59 55.36L469.72 58.37L469.84 61.60L469.96 64.98L470.08 68.40L470.21 71.76L470.33 74.95L470.45 77.86L470.57 80.39L470.70 82.47L470.82 84.00L470.94 84.92L471.06 85.20L471.19 84.80L471.31 83.71L471.43 81.96L471.55 79.57L471.68 76.61L471.80 73.14L471.92 69.26L472.04 65.08L472.17 60.70L472.29 56.26L472.41 51.88L472.53 47.70L472.66 43.83L472.78 40.40L472.90 37.51L473.02 35.26L473.15 33.72L473.27 32.95L473.39 32.97L473.51 33.80L473.64 35.43L473.76 37.80L473.88 40.88L474.00 44.56L474.12 48.76L474.25 53.35L474.37 58.21L474.49 63.20L474.61 68.17L474.74 72.97L474.86 77.48L474.98 81.56L475.10 85.09L475.23 87.96L475.35 90.09L475.47 91.42L475.59 91.90L475.72 91.52L475.84 90.29L475.96 88.25L476.08 85.45L476.21 81.98L476.33 77.94L476.45 73.45L476.57 68.64L476.70 63.65L476.82 58.63L476.94 53.72L477.06 49.08L477.19 44.83L477.31 41.11L477.43 38.01L477.55 35.63L477.68 34.04L477.80 33.27L477.92 33.35L478.04 34.26L478.17 35.98L478.29 38.45L478.41 41.59L478.53 45.29L478.66 49.45L478.78 53.92L478.90 58.58L479.02 63.28L479.14 67.87L479.27 72.21L479.39 76.18L479.51 79.65L479.63 82.51L479.76 84.70L479.88 86.13L480.00 86.78L480.12 86.63L480.25 85.69L480.37 83.99L480.49 81.60L480.61 78.60L480.74 75.09L480.86 71.17L480.98 66.99L481.10 62.67L481.23 58.36L481.35 54.19L481.47 50.30L481.59 46.80L481.72 43.82L481.84 41.44L481.96 39.75L482.08 38.78L482.21 38.58L482.33 39.15L482.45 40.46L482.57 42.47L482.70 45.12L482.82 48.31L482.94 51.95L483.06 55.92L483.19 60.09L483.31 64.32L483.43 68.47L483.55 72.41L483.68 76.01L483.80 79.16L483.92 81.75L484.04 83.69L484.16 84.92L484.29 85.40L484.41 85.11L484.53 84.05L484.65 82.25L484.78 79.78L484.90 76.70L485.02 73.10L485.14 69.11L485.27 64.84L485.39 60.42L485.51 56.00L485.63 51.72L485.76 47.70L485.88 44.08L486.00 40.97L486.12 38.47L486.25 36.67L486.37 35.61L486.49 35.35L486.61 35.88L486.74 37.21L486.86 39.28L486.98 42.05L487.10 45.43L487.23 49.32L487.35 53.61L487.47 58.17L487.59 62.86L487.72 67.54L487.84 72.07L487.96 76.32L488.08 80.16L488.21 83.47L488.33 86.16L488.45 88.14L488.57 89.36L488.70 89.78L488.82 89.39L488.94 88.20L489.06 86.24L489.18 83.59L489.31 80.30L489.43 76.50L489.55 72.27L489.67 67.76L489.80 63.09L489.92 58.40L490.04 53.83L490.16 49.50L490.29 45.55L490.41 42.07L490.53 39.18L490.65 36.94L490.78 35.41L490.90 34.64L491.02 34.63L491.14 35.37L491.27 36.85L491.39 38.99L491.51 41.73L491.63 44.99L491.76 48.66L491.88 52.63L492.00 56.78L492.12 60.99L492.25 65.13L492.37 69.09L492.49 72.75L492.61 76.02L492.74 78.80L492.86 81.04L492.98 82.67L493.10 83.67L493.23 84.02L493.35 83.72L493.47 82.82L493.59 81.34L493.72 79.35L493.84 76.93L493.96 74.15L494.08 71.12L494.20 67.94L494.33 64.70L494.45 61.51L494.57 58.45L494.69 55.63L494.82 53.11L494.94 50.97L495.06 49.25L495.18 47.99L495.31 47.22L495.43 46.93L495.55 47.11L495.67 47.73L495.80 48.75L495.92 50.13L496.04 51.78L496.16 53.65L496.29 55.66L496.41 57.73L496.53 59.77L496.65 61.73L496.78 63.53L496.90 65.11L497.02 66.42L497.14 67.44L497.27 68.12L497.39 68.46L497.51 68.47L497.63 68.16L497.76 67.56L497.88 66.70L498.00 65.65L498.12 64.44L498.25 63.15L498.37 61.84L498.49 60.57L498.61 59.39L498.74 58.38L498.86 57.58L498.98 57.02L499.10 56.74L499.22 56.76L499.35 57.08L499.47 57.70L499.59 58.59L499.71 59.73L499.84 61.06L499.96 62.55L500.08 64.13L500.20 65.73L500.33 67.29L500.45 68.75L500.57 70.03L500.69 71.07L500.82 71.83L500.94 72.25L501.06 72.31L501.18 71.98L501.31 71.26L501.43 70.15L501.55 68.68L501.67 66.88L501.80 64.80L501.92 62.49L502.04 60.04L502.16 57.51L502.29 54.99L502.41 52.56L502.53 50.30L502.65 48.30L502.78 46.63L502.90 45.36L503.02 44.54L503.14 44.21L503.27 44.39L503.39 45.10L503.51 46.33L503.63 48.05L503.76 50.23L503.88 52.81L504.00 55.71L504.12 58.87L504.25 62.17L504.37 65.54L504.49 68.86L504.61 72.04L504.73 74.98L504.86 77.57L504.98 79.74L505.10 81.42L505.22 82.54L505.35 83.07L505.47 82.98L505.59 82.27L505.71 80.95L505.84 79.05L505.96 76.62L506.08 73.74L506.20 70.48L506.33 66.94L506.45 63.23L506.57 59.45L506.69 55.73L506.82 52.16L506.94 48.87L507.06 45.95L507.18 43.49L507.31 41.57L507.43 40.25L507.55 39.57L507.67 39.55L507.80 40.20L507.92 41.49L508.04 43.39L508.16 45.83L508.29 48.75L508.41 52.05L508.53 55.62L508.65 59.37L508.78 63.16L508.90 66.89L509.02 70.43L509.14 73.67L509.27 76.52L509.39 78.88L509.51 80.67L509.63 81.85L509.75 82.38L509.88 82.24L510.00 81.43L510.12 79.99L510.24 77.96L510.37 75.40L510.49 72.41L510.61 69.08L510.73 65.51L510.86 61.83L510.98 58.16L511.10 54.61L511.22 51.30L511.35 48.35L511.47 45.85L511.59 43.89L511.71 42.52L511.84 41.81L511.96 41.76L512.08 42.40L512.20 43.70L512.33 45.62L512.45 48.11L512.57 51.07L512.69 54.42L512.82 58.04L512.94 61.83L513.06 65.65L513.18 69.37L513.31 72.88L513.43 76.05L513.55 78.78L513.67 80.96L513.80 82.53L513.92 83.41L514.04 83.58L514.16 83.02L514.29 81.73L514.41 79.76L514.53 77.14L514.65 73.97L514.77 70.33L514.90 66.34L515.02 62.11L515.14 57.79L515.26 53.50L515.39 49.39L515.51 45.59L515.63 42.23L515.75 39.41L515.88 37.23L516.00 35.78L516.12 35.11L516.24 35.25L516.37 36.21L516.49 37.97L516.61 40.49L516.73 43.71L516.86 47.53L516.98 51.85L517.10 56.54L517.22 61.46L517.35 66.47L517.47 71.42L517.59 76.15L517.71 80.53L517.84 84.42L517.96 87.69L518.08 90.24L518.20 91.99L518.33 92.87L518.45 92.86L518.57 91.94L518.69 90.13L518.82 87.48L518.94 84.06L519.06 79.96L519.18 75.30L519.31 70.20L519.43 64.82L519.55 59.31L519.67 53.83L519.79 48.53L519.92 43.57L520.04 39.10L520.16 35.24L520.28 32.10L520.41 29.79L520.53 28.37L520.65 27.87L520.77 28.33L520.90 29.71L521.02 31.98L521.14 35.09L521.26 38.93L521.39 43.40L521.51 48.36L521.63 53.68L521.75 59.21L521.88 64.78L522.00 70.24L522.12 75.43L522.24 80.20L522.37 84.43L522.49 87.99L522.61 90.80L522.73 92.77L522.86 93.86L522.98 94.05L523.10 93.33L523.22 91.74L523.35 89.34L523.47 86.19L523.59 82.41L523.71 78.10L523.84 73.40L523.96 68.45L524.08 63.38L524.20 58.36L524.33 53.51L524.45 48.99L524.57 44.90L524.69 41.37L524.81 38.49L524.94 36.32L525.06 34.91L525.18 34.30L525.30 34.47L525.43 35.42L525.55 37.09L525.67 39.41L525.79 42.32L525.92 45.69L526.04 49.43L526.16 53.42L526.28 57.52L526.41 61.61L526.53 65.57L526.65 69.29L526.77 72.65L526.90 75.57L527.02 77.96L527.14 79.78L527.26 80.98L527.39 81.54L527.51 81.47L527.63 80.79L527.75 79.53L527.88 77.77L528.00 75.57L528.12 73.02L528.24 70.21L528.37 67.24L528.49 64.22L528.61 61.25L528.73 58.42L528.86 55.83L528.98 53.56L529.10 51.67L529.22 50.22L529.35 49.24L529.47 48.76L529.59 48.76L529.71 49.25L529.83 50.18L529.96 51.50L530.08 53.17L530.20 55.10L530.32 57.23L530.45 59.45L530.57 61.70L530.69 63.88L530.81 65.91L530.94 67.71L531.06 69.23L531.18 70.40L531.30 71.18L531.43 71.56L531.55 71.51L531.67 71.05L531.79 70.18L531.92 68.95L532.04 67.41L532.16 65.61L532.28 63.62L532.41 61.52L532.53 59.39L532.65 57.31L532.77 55.35L532.90 53.59L533.02 52.11L533.14 50.96L533.26 50.18L533.39 49.80L533.51 49.86L533.63 50.35L533.75 51.27L533.88 52.57L534.00 54.24L534.12 56.20L534.24 58.41L534.37 60.77L534.49 63.23L534.61 65.69L534.73 68.06L534.86 70.28L534.98 72.25L535.10 73.92L535.22 75.22L535.34 76.10L535.47 76.53L535.59 76.49L535.71 75.97L535.83 75.00L535.96 73.59L536.08 71.79L536.20 69.65L536.32 67.24L536.45 64.64L536.57 61.92L536.69 59.18L536.81 56.50L536.94 53.97L537.06 51.67L537.18 49.67L537.30 48.04L537.43 46.83L537.55 46.08L537.67 45.81L537.79 46.04L537.92 46.74L538.04 47.91L538.16 49.49L538.28 51.45L538.41 53.71L538.53 56.19L538.65 58.83L538.77 61.52L538.90 64.19L539.02 66.74L539.14 69.10L539.26 71.18L539.39 72.93L539.51 74.28L539.63 75.19L539.75 75.64L539.88 75.62L540.00 75.14L540.12 74.20L540.24 72.86L540.36 71.15L540.49 69.15L540.61 66.92L540.73 64.54L540.85 62.11L540.98 59.69L541.10 57.39L541.22 55.28L541.34 53.44L541.47 51.92L541.59 50.79L541.71 50.09L541.83 49.83L541.96 50.03L542.08 50.69L542.20 51.76L542.32 53.23L542.45 55.03L542.57 57.10L542.69 59.36L542.81 61.73L542.94 64.12L543.06 66.44L543.18 68.61L543.30 70.54L543.43 72.15L543.55 73.38L543.67 74.18L543.79 74.50L543.92 74.33L544.04 73.66L544.16 72.50L544.28 70.89L544.41 68.86L544.53 66.49L544.65 63.85L544.77 61.03L544.90 58.12L545.02 55.22L545.14 52.43L545.26 49.86L545.38 47.61L545.51 45.75L545.63 44.36L545.75 43.51L545.87 43.25L546.00 43.59L546.12 44.55L546.24 46.11L546.36 48.24L546.49 50.89L546.61 53.99L546.73 57.44L546.85 61.16L546.98 65.02L547.10 68.91L547.22 72.70L547.34 76.28L547.47 79.52L547.59 82.32L547.71 84.57L547.83 86.20L547.96 87.13L548.08 87.32L548.20 86.75L548.32 85.41L548.45 83.34L548.57 80.56L548.69 77.16L548.81 73.23L548.94 68.86L549.06 64.17L549.18 59.32L549.30 54.42L549.43 49.64L549.55 45.10L549.67 40.95L549.79 37.32L549.92 34.32L550.04 32.05L550.16 30.58L550.28 29.97L550.40 30.25L550.53 31.43L550.65 33.47L550.77 36.33L550.89 39.95L551.02 44.21L551.14 49.01L551.26 54.21L551.38 59.66L551.51 65.22L551.63 70.72L551.75 76.01L551.87 80.94L552.00 85.35L552.12 89.12L552.24 92.15L552.36 94.34L552.49 95.62L552.61 95.96L552.73 95.35L552.85 93.79L552.98 91.34L553.10 88.06L553.22 84.05L553.34 79.42L553.47 74.29L553.59 68.83L553.71 63.18L553.83 57.51L553.96 51.98L554.08 46.74L554.20 41.95L554.32 37.74L554.45 34.23L554.57 31.51L554.69 29.66L554.81 28.72L554.94 28.72L555.06 29.65L555.18 31.47L555.30 34.13L555.42 37.54L555.55 41.59L555.67 46.17L555.79 51.12L555.91 56.31L556.04 61.58L556.16 66.78L556.28 71.75L556.40 76.35L556.53 80.45L556.65 83.94L556.77 86.72L556.89 88.72L557.02 89.89L557.14 90.21L557.26 89.68L557.38 88.33L557.51 86.21L557.63 83.41L557.75 80.01L557.87 76.13L558.00 71.89L558.12 67.43L558.24 62.90L558.36 58.42L558.49 54.14L558.61 50.19L558.73 46.68L558.85 43.72L558.98 41.38L559.10 39.73L559.22 38.81L559.34 38.64L559.47 39.21L559.59 40.48L559.71 42.41L559.83 44.92L559.96 47.92L560.08 51.30L560.20 54.96L560.32 58.76L560.44 62.59L560.57 66.30L560.69 69.80L560.81 72.95L560.93 75.67L561.06 77.87L561.18 79.48L561.30 80.46L561.42 80.78L561.55 80.44L561.67 79.45L561.79 77.86L561.91 75.73L562.04 73.13L562.16 70.15L562.28 66.89L562.40 63.48L562.53 60.01L562.65 56.62L562.77 53.41L562.89 50.49L563.02 47.95L563.14 45.89L563.26 44.37L563.38 43.43L563.51 43.11L563.63 43.43L563.75 44.35L563.87 45.87L564.00 47.92L564.12 50.45L564.24 53.36L564.36 56.56L564.49 59.94L564.61 63.41L564.73 66.83L564.85 70.12L564.98 73.14L565.10 75.82L565.22 78.05L565.34 79.78L565.47 80.94L565.59 81.50L565.71 81.43L565.83 80.74L565.95 79.45L566.08 77.61L566.20 75.26L566.32 72.48L566.44 69.37L566.57 66.00L566.69 62.50L566.81 58.97L566.93 55.52L567.06 52.25L567.18 49.26L567.30 46.65L567.42 44.49L567.55 42.85L567.67 41.78L567.79 41.29L567.91 41.41L568.04 42.13L568.16 43.42L568.28 45.23L568.40 47.51L568.53 50.18L568.65 53.16L568.77 56.35L568.89 59.66L569.02 62.98L569.14 66.21L569.26 69.26L569.38 72.04L569.51 74.46L569.63 76.47L569.75 78.00L569.87 79.02L570.00 79.51L570.12 79.46L570.24 78.90L570.36 77.84L570.49 76.33L570.61 74.43L570.73 72.21L570.85 69.75L570.97 67.13L571.10 64.43L571.22 61.75L571.34 59.17L571.46 56.76L571.59 54.60L571.71 52.75L571.83 51.27L571.95 50.17L572.08 49.50L572.20 49.25L572.32 49.41L572.44 49.96L572.57 50.88L572.69 52.10L572.81 53.58L572.93 55.26L573.06 57.05L573.18 58.89L573.30 60.72L573.42 62.45L573.55 64.03L573.67 65.40L573.79 66.51L573.91 67.34L574.04 67.84L574.16 68.03L574.28 67.89L574.40 67.44L574.53 66.71L574.65 65.74L574.77 64.59L574.89 63.29L575.02 61.93L575.14 60.55L575.26 59.23L575.38 58.03L575.51 57.01L575.63 56.21L575.75 55.69L575.87 55.48L575.99 55.59L576.12 56.04L576.24 56.81L576.36 57.88L576.48 59.23L576.61 60.81L576.73 62.57L576.85 64.43L576.97 66.34L577.10 68.20L577.22 69.96L577.34 71.54L577.46 72.85L577.59 73.85L577.71 74.48L577.83 74.69L577.95 74.46L578.08 73.76L578.20 72.62L578.32 71.03L578.44 69.03L578.57 66.68L578.69 64.03L578.81 61.17L578.93 58.16L579.06 55.12L579.18 52.13L579.30 49.29L579.42 46.70L579.55 44.46L579.67 42.63L579.79 41.31L579.91 40.54L580.04 40.37L580.16 40.82L580.28 41.91L580.40 43.61L580.53 45.89L580.65 48.70L580.77 51.98L580.89 55.63L581.01 59.56L581.14 63.65L581.26 67.79L581.38 71.86L581.50 75.73L581.63 79.29L581.75 82.42L581.87 85.03L581.99 87.02L582.12 88.33L582.24 88.91L582.36 88.73L582.48 87.78L582.61 86.07L582.73 83.66L582.85 80.58L582.97 76.94L583.10 72.82L583.22 68.34L583.34 63.62L583.46 58.80L583.59 54.02L583.71 49.42L583.83 45.12L583.95 41.27L584.08 37.97L584.20 35.31L584.32 33.39L584.44 32.27L584.57 31.96L584.69 32.50L584.81 33.87L584.93 36.03L585.06 38.92L585.18 42.45L585.30 46.53L585.42 51.03L585.55 55.83L585.67 60.78L585.79 65.75L585.91 70.57L586.03 75.13L586.16 79.26L586.28 82.87L586.40 85.84L586.52 88.09L586.65 89.56L586.77 90.19L586.89 89.99L587.01 88.95L587.14 87.12L587.26 84.55L587.38 81.32L587.50 77.54L587.63 73.32L587.75 68.79L587.87 64.10L587.99 59.37L588.12 54.77L588.24 50.43L588.36 46.48L588.48 43.03L588.61 40.19L588.73 38.05L588.85 36.66L588.97 36.07L589.10 36.28L589.22 37.28L589.34 39.03L589.46 41.48L589.59 44.54L589.71 48.11L589.83 52.07L589.95 56.30L590.08 60.66L590.20 65.01L590.32 69.22L590.44 73.14L590.57 76.65L590.69 79.65L590.81 82.04L590.93 83.74L591.05 84.70L591.18 84.90L591.30 84.33L591.42 83.01L591.54 80.98L591.67 78.32L591.79 75.11L591.91 71.46L592.03 67.48L592.16 63.30L592.28 59.07L592.40 54.91L592.52 50.96L592.65 47.36L592.77 44.22L592.89 41.64L593.01 39.71L593.14 38.49L593.26 38.03L593.38 38.33L593.50 39.41L593.63 41.22L593.75 43.71L593.87 46.81L593.99 50.42L594.12 54.42L594.24 58.69L594.36 63.10L594.48 67.51L594.61 71.77L594.73 75.76L594.85 79.34L594.97 82.41L595.10 84.85L595.22 86.60L595.34 87.58L595.46 87.78L595.59 87.16L595.71 85.76L595.83 83.60L595.95 80.75L596.08 77.29L596.20 73.32L596.32 68.97L596.44 64.36L596.56 59.63L596.69 54.92L596.81 50.38L596.93 46.14L597.05 42.32L597.18 39.06L597.30 36.44L597.42 34.54L597.54 33.43L597.67 33.14L597.79 33.67L597.91 35.02L598.03 37.14L598.16 39.97L598.28 43.42L598.40 47.41L598.52 51.80L598.65 56.48L598.77 61.29L598.89 66.11L599.01 70.80L599.14 75.20L599.26 79.22L599.38 82.71L599.50 85.60L599.63 87.79L599.75 89.24L599.87 89.90L599.99 89.76L600.12 88.84L600.24 87.16L600.36 84.78L600.48 81.79L600.61 78.26L600.73 74.31L600.85 70.07L600.97 65.65L601.10 61.18L601.22 56.79L601.34 52.61L601.46 48.76L601.58 45.34L601.71 42.44L601.83 40.13L601.95 38.47L602.07 37.50L602.20 37.22L602.32 37.63L602.44 38.71L602.56 40.40L602.69 42.64L602.81 45.35L602.93 48.44L603.05 51.81L603.18 55.34L603.30 58.94L603.42 62.50L603.54 65.89L603.67 69.05L603.79 71.86L603.91 74.27L604.03 76.21L604.16 77.65L604.28 78.55L604.40 78.91L604.52 78.74L604.65 78.07L604.77 76.94L604.89 75.40L605.01 73.53L605.14 71.39L605.26 69.07L605.38 66.66L605.50 64.24L605.63 61.89L605.75 59.69L605.87 57.70L605.99 55.99L606.12 54.61L606.24 53.58L606.36 52.92L606.48 52.64L606.60 52.73L606.73 53.17L606.85 53.92L606.97 54.93L607.09 56.16L607.22 57.53L607.34 58.98L607.46 60.46L607.58 61.88L607.71 63.19L607.83 64.32L607.95 65.25L608.07 65.91L608.20 66.29L608.32 66.37L608.44 66.14L608.56 65.63L608.69 64.84L608.81 63.83L608.93 62.61L609.05 61.27L609.18 59.84L609.30 58.40L609.42 57.01L609.54 55.73L609.67 54.63L609.79 53.76L609.91 53.18L610.03 52.91L610.16 52.98L610.28 53.42L610.40 54.21L610.52 55.34L610.65 56.80L610.77 58.53L610.89 60.50L611.01 62.62L611.14 64.85L611.26 67.10L611.38 69.29L611.50 71.34L611.62 73.19L611.75 74.75L611.87 75.96L611.99 76.77L612.11 77.14L612.24 77.04L612.36 76.46L612.48 75.39L612.60 73.87L612.73 71.91L612.85 69.57L612.97 66.92L613.09 64.03L613.22 60.98L613.34 57.87L613.46 54.78L613.58 51.82L613.71 49.09L613.83 46.66L613.95 44.62L614.07 43.04L614.20 41.98L614.32 41.48L614.44 41.56L614.56 42.24L614.69 43.49L614.81 45.29L614.93 47.60L615.05 50.34L615.18 53.45L615.30 56.82L615.42 60.37L615.54 63.98L615.67 67.55L615.79 70.97L615.91 74.13L616.03 76.94L616.16 79.30L616.28 81.15L616.40 82.43L616.52 83.08L616.64 83.10L616.77 82.48L616.89 81.23L617.01 79.40L617.13 77.03L617.26 74.20L617.38 71.00L617.50 67.52L617.62 63.88L617.75 60.18L617.87 56.55L617.99 53.08L618.11 49.90L618.24 47.11L618.36 44.78L618.48 43.00L618.60 41.81L618.73 41.26L618.85 41.36L618.97 42.11L619.09 43.48L619.22 45.42L619.34 47.88L619.46 50.77L619.58 54.01L619.71 57.47L619.83 61.05L619.95 64.64L620.07 68.11L620.20 71.35L620.32 74.26L620.44 76.74L620.56 78.70L620.69 80.08L620.81 80.83L620.93 80.93L621.05 80.37L621.18 79.16L621.30 77.35L621.42 75.00L621.54 72.17L621.66 68.96L621.79 65.48L621.91 61.84L622.03 58.17L622.15 54.57L622.28 51.19L622.40 48.12L622.52 45.48L622.64 43.36L622.77 41.84L622.89 40.98L623.01 40.80L623.13 41.33L623.26 42.56L623.38 44.45L623.50 46.96L623.62 50.00L623.75 53.49L623.87 57.32L623.99 61.38L624.11 65.52L624.24 69.62L624.36 73.54L624.48 77.16L624.60 80.36L624.73 83.01L624.85 85.04L624.97 86.37L625.09 86.93L625.22 86.71L625.34 85.70L625.46 83.91L625.58 81.39L625.71 78.20L625.83 74.44L625.95 70.21L626.07 65.63L626.20 60.85L626.32 55.99L626.44 51.22L626.56 46.68L626.69 42.50L626.81 38.82L626.93 35.76L627.05 33.42L627.17 31.88L627.30 31.19L627.42 31.39L627.54 32.48L627.66 34.43L627.79 37.21L627.91 40.73L628.03 44.89L628.15 49.60L628.28 54.70L628.40 60.06L628.52 65.52L628.64 70.92L628.77 76.10L628.89 80.92L629.01 85.23L629.13 88.90L629.26 91.82L629.38 93.90L629.50 95.09L629.62 95.34L629.75 94.65L629.87 93.02L629.99 90.51L630.11 87.18L630.24 83.14L630.36 78.48L630.48 73.35L630.60 67.90L630.73 62.27L630.85 56.63L630.97 51.15L631.09 45.96L631.22 41.23L631.34 37.09L631.46 33.64L631.58 30.99L631.71 29.20L631.83 28.33L631.95 28.38L632.07 29.36L632.19 31.23L632.32 33.92L632.44 37.35L632.56 41.43L632.68 46.02L632.81 50.99L632.93 56.19L633.05 61.48L633.17 66.70L633.30 71.70L633.42 76.35L633.54 80.51L633.66 84.07L633.79 86.95L633.91 89.06L634.03 90.36L634.15 90.83L634.28 90.47L634.40 89.30L634.52 87.37L634.64 84.76L634.77 81.55L634.89 77.85L635.01 73.78L635.13 69.46L635.26 65.04L635.38 60.63L635.50 56.38L635.62 52.41L635.75 48.82L635.87 45.71L635.99 43.17L636.11 41.26L636.24 40.01L636.36 39.45L636.48 39.58L636.60 40.37L636.73 41.77L636.85 43.73L636.97 46.17L637.09 48.99L637.21 52.10L637.34 55.39L637.46 58.74L637.58 62.05L637.70 65.21L637.83 68.13L637.95 70.71L638.07 72.88L638.19 74.59L638.32 75.78L638.44 76.44L638.56 76.57L638.68 76.16L638.81 75.26L638.93 73.91L639.05 72.17L639.17 70.12L639.30 67.84L639.42 65.41L639.54 62.92L639.66 60.48L639.79 58.16L639.91 56.06L640.03 54.23L640.15 52.76L640.28 51.67L640.40 51.02L640.52 50.81L640.64 51.04L640.77 51.71L640.89 52.78L641.01 54.21L641.13 55.94L641.26 57.90L641.38 60.02L641.50 62.21L641.62 64.40L641.75 66.50L641.87 68.42L641.99 70.10L642.11 71.48L642.23 72.49L642.36 73.11L642.48 73.29L642.60 73.04L642.72 72.35L642.85 71.25L642.97 69.78L643.09 67.97L643.21 65.89L643.34 63.62L643.46 61.22L643.58 58.78L643.70 56.39L643.83 54.13L643.95 52.07L644.07 50.30L644.19 48.87L644.32 47.84L644.44 47.24L644.56 47.11L644.68 47.45L644.81 48.25L644.93 49.49L645.05 51.14L645.17 53.15L645.30 55.45L645.42 57.97L645.54 60.63L645.66 63.35L645.79 66.03L645.91 68.59L646.03 70.95L646.15 73.04L646.28 74.78L646.40 76.11L646.52 77.00L646.64 77.41L646.77 77.34L646.89 76.78L647.01 75.76L647.13 74.30L647.25 72.46L647.38 70.29L647.50 67.87L647.62 65.27L647.74 62.58L647.87 59.89L647.99 57.28L648.11 54.84L648.23 52.65L648.36 50.77L648.48 49.26L648.60 48.17L648.72 47.54L648.85 47.37L648.97 47.67L649.09 48.42L649.21 49.60L649.34 51.15L649.46 53.03L649.58 55.15L649.70 57.46L649.83 59.86L649.95 62.28L650.07 64.62L650.19 66.80L650.32 68.76L650.44 70.42L650.56 71.73L650.68 72.64L650.81 73.12L650.93 73.16L651.05 72.76L651.17 71.94L651.30 70.73L651.42 69.17L651.54 67.33L651.66 65.27L651.79 63.07L651.91 60.82L652.03 58.60L652.15 56.49L652.27 54.57L652.40 52.93L652.52 51.63L652.64 50.71L652.76 50.23L652.89 50.20L653.01 50.64L653.13 51.53L653.25 52.86L653.38 54.58L653.50 56.64L653.62 58.98L653.74 61.50L653.87 64.12L653.99 66.75L654.11 69.30L654.23 71.66L654.36 73.75L654.48 75.49L654.60 76.79L654.72 77.61L654.85 77.90L654.97 77.62L655.09 76.78L655.21 75.38L655.34 73.45L655.46 71.05L655.58 68.22L655.70 65.06L655.83 61.66L655.95 58.13L656.07 54.57L656.19 51.10L656.32 47.83L656.44 44.88L656.56 42.35L656.68 40.34L656.81 38.91L656.93 38.14L657.05 38.07L657.17 38.71L657.29 40.07L657.42 42.12L657.54 44.83L657.66 48.11L657.78 51.89L657.91 56.06L658.03 60.51L658.15 65.11L658.27 69.72L658.40 74.21L658.52 78.44L658.64 82.28L658.76 85.60L658.89 88.31L659.01 90.30L659.13 91.51L659.25 91.88L659.38 91.40L659.50 90.06L659.62 87.89L659.74 84.94L659.87 81.29L659.99 77.03L660.11 72.27L660.23 67.15L660.36 61.81L660.48 56.40L660.60 51.08L660.72 46.01L660.85 41.32L660.97 37.16L661.09 33.64L661.21 30.89L661.34 28.97L661.46 27.96L661.58 27.88L661.70 28.74L661.83 30.52L661.95 33.17L662.07 36.63L662.19 40.79L662.32 45.54L662.44 50.75L662.56 56.26L662.68 61.92L662.80 67.57L662.93 73.04L663.05 78.19L663.17 82.86L663.29 86.92L663.42 90.26L663.54 92.78L663.66 94.42L663.78 95.13L663.91 94.89L664.03 93.72L664.15 91.66L664.27 88.77L664.40 85.14L664.52 80.87L664.64 76.10L664.76 70.98L664.89 65.64L665.01 60.25L665.13 54.96L665.25 49.93L665.38 45.30L665.50 41.20L665.62 37.75L665.74 35.04L665.87 33.13L665.99 32.09L666.11 31.92L666.23 32.62L666.36 34.16L666.48 36.47L666.60 39.49L666.72 43.11L666.85 47.21L666.97 51.67L667.09 56.33L667.21 61.07L667.34 65.72L667.46 70.16L667.58 74.25L667.70 77.87L667.82 80.92L667.95 83.31L668.07 84.98L668.19 85.89L668.31 86.02L668.44 85.39L668.56 84.02L668.68 81.97L668.80 79.32L668.93 76.16L669.05 72.60L669.17 68.75L669.29 64.76L669.42 60.74L669.54 56.83L669.66 53.16L669.78 49.83L669.91 46.96L670.03 44.62L670.15 42.90L670.27 41.83L670.40 41.45L670.52 41.75L670.64 42.73L670.76 44.33L670.89 46.51L671.01 49.18L671.13 52.25L671.25 55.61L671.38 59.16L671.50 62.76L671.62 66.30L671.74 69.66L671.87 72.72L671.99 75.40L672.11 77.60L672.23 79.25L672.30 80.29L672.30 80.69L672.30 80.45" fill="none" stroke="#0000ff" stroke-width="1.2" stroke-linejoin="round"/>
<path class="ax" d="M264.2 101.55v-6.4M264.2 4.55v6.4M468.2 101.55v-6.4M468.2 4.55v6.4M60.1 52.9h6.4M672.3 52.9h-6.4M60.1 101.2h6.4M672.3 101.2h-6.4"/>
<text class="tk" style="font-size:17.6px" x="59.9" y="122.2" text-anchor="middle">0</text>
<text class="tk" style="font-size:17.6px" x="264.0" y="122.2" text-anchor="middle">50</text>
<text class="tk" style="font-size:17.6px" x="468.0" y="122.2" text-anchor="middle">100</text>
<text class="tk" style="font-size:17.6px" x="672.4" y="122.2" text-anchor="middle">150</text>
<text class="tk" x="55.8" y="11.2" text-anchor="end">0</text>
<text class="tk" x="55.8" y="59.6" text-anchor="end">-0.01</text>
<text class="tk" x="55.8" y="108.9" text-anchor="end">-0.02</text>
<text class="lb" x="366.5" y="144.7" text-anchor="middle">Time (sec)</text>
<g transform="translate(13.7 0) rotate(-90)"><text transform="translate(-90.6 0) scale(1.13 1)" font-weight="normal" font-size="20.5" x="0" y="0">Δ</text><text font-size="18.4" x="-72.2" y="0">P DEG</text></g>
<rect x="374.0" y="8.5" width="215.8" height="24.3" fill="#fff" stroke="#262626" stroke-width="1.1"/>
<path d="M380.5 20.6H445.3" stroke="#0000ff" stroke-width="1.2" fill="none"/>
<text class="lg" x="449.6" y="26.3">Output Power DEG</text>
</g>
<g>
<rect class="ax" x="60.1" y="173.1" width="612.2" height="96.90"/>
<path d="M60.40 173.15L60.52 175.07L60.64 176.77L60.77 178.24L60.89 179.46L61.01 180.44L61.13 181.18L61.26 181.69L61.38 181.99L61.50 182.10L61.62 182.06L61.75 181.90L61.87 181.67L61.99 181.42L62.11 181.18L62.24 181.00L62.36 180.93L62.48 181.00L62.60 181.26L62.73 181.73L62.85 182.44L62.97 183.39L63.09 184.60L63.22 186.06L63.34 187.75L63.46 189.65L63.58 191.72L63.71 193.94L63.83 196.25L63.95 198.60L64.07 200.93L64.20 203.19L64.32 205.32L64.44 207.26L64.56 208.97L64.69 210.40L64.81 211.51L64.93 212.27L65.05 212.67L65.18 212.69L65.30 212.35L65.42 211.64L65.54 210.60L65.66 209.27L65.79 207.70L65.91 205.93L66.03 204.02L66.15 202.06L66.28 200.10L66.40 198.23L66.52 196.49L66.64 194.98L66.77 193.74L66.89 192.83L67.01 192.29L67.13 192.16L67.26 192.46L67.38 193.19L67.50 194.36L67.62 195.94L67.75 197.91L67.87 200.22L67.99 202.81L68.11 205.63L68.24 208.61L68.36 211.66L68.48 214.72L68.60 217.69L68.73 220.51L68.85 223.09L68.97 225.38L69.09 227.31L69.22 228.83L69.34 229.91L69.46 230.52L69.58 230.66L69.71 230.33L69.83 229.55L69.95 228.35L70.07 226.78L70.20 224.89L70.32 222.76L70.44 220.45L70.56 218.04L70.68 215.63L70.81 213.28L70.93 211.08L71.05 209.11L71.17 207.44L71.30 206.12L71.42 205.21L71.54 204.73L71.66 204.72L71.79 205.17L71.91 206.09L72.03 207.45L72.15 209.21L72.28 211.33L72.40 213.74L72.52 216.38L72.64 219.17L72.77 222.02L72.89 224.87L73.01 227.62L73.13 230.19L73.26 232.50L73.38 234.50L73.50 236.13L73.62 237.33L73.75 238.09L73.87 238.37L73.99 238.19L74.11 237.56L74.24 236.49L74.36 235.04L74.48 233.25L74.60 231.20L74.73 228.95L74.85 226.59L74.97 224.20L75.09 221.86L75.22 219.67L75.34 217.69L75.46 216.00L75.58 214.67L75.70 213.75L75.83 213.27L75.95 213.27L76.07 213.75L76.19 214.71L76.32 216.12L76.44 217.96L76.56 220.17L76.68 222.70L76.81 225.46L76.93 228.37L77.05 231.36L77.17 234.34L77.30 237.20L77.42 239.87L77.54 242.27L77.66 244.32L77.79 245.95L77.91 247.12L78.03 247.79L78.15 247.93L78.28 247.55L78.40 246.65L78.52 245.26L78.64 243.42L78.77 241.18L78.89 238.62L79.01 235.82L79.13 232.87L79.26 229.85L79.38 226.86L79.50 224.00L79.62 221.36L79.75 219.02L79.87 217.07L79.99 215.57L80.11 214.57L80.24 214.12L80.36 214.23L80.48 214.90L80.60 216.14L80.73 217.90L80.85 220.15L80.97 222.82L81.09 225.85L81.21 229.15L81.34 232.63L81.46 236.19L81.58 239.74L81.70 243.17L81.83 246.38L81.95 249.30L82.07 251.83L82.19 253.90L82.32 255.47L82.44 256.48L82.56 256.91L82.68 256.76L82.81 256.02L82.93 254.73L83.05 252.93L83.17 250.67L83.30 248.01L83.42 245.05L83.54 241.87L83.66 238.56L83.79 235.22L83.91 231.95L84.03 228.84L84.15 225.99L84.28 223.48L84.40 221.37L84.52 219.73L84.64 218.60L84.77 218.00L84.89 217.97L85.01 218.48L85.13 219.53L85.26 221.08L85.38 223.08L85.50 225.47L85.62 228.18L85.75 231.13L85.87 234.23L85.99 237.40L86.11 240.55L86.23 243.58L86.36 246.43L86.48 249.01L86.60 251.25L86.72 253.11L86.85 254.53L86.97 255.50L87.09 255.99L87.21 256.00L87.34 255.55L87.46 254.67L87.58 253.39L87.70 251.77L87.83 249.86L87.95 247.73L88.07 245.46L88.19 243.11L88.32 240.77L88.44 238.49L88.56 236.36L88.68 234.43L88.81 232.76L88.93 231.39L89.05 230.36L89.17 229.68L89.30 229.37L89.42 229.42L89.54 229.82L89.66 230.54L89.79 231.56L89.91 232.82L90.03 234.28L90.15 235.89L90.28 237.58L90.40 239.31L90.52 241.00L90.64 242.60L90.77 244.08L90.89 245.37L91.01 246.45L91.13 247.29L91.25 247.87L91.38 248.19L91.50 248.23L91.62 248.03L91.74 247.59L91.87 246.94L91.99 246.13L92.11 245.18L92.23 244.15L92.36 243.09L92.48 242.03L92.60 241.03L92.72 240.13L92.85 239.36L92.97 238.76L93.09 238.36L93.21 238.17L93.34 238.20L93.46 238.45L93.58 238.91L93.70 239.57L93.83 240.40L93.95 241.37L94.07 242.44L94.19 243.58L94.32 244.72L94.44 245.84L94.56 246.89L94.68 247.82L94.81 248.59L94.93 249.18L95.05 249.56L95.17 249.70L95.30 249.60L95.42 249.25L95.54 248.67L95.66 247.86L95.79 246.85L95.91 245.68L96.03 244.38L96.15 243.00L96.27 241.58L96.40 240.17L96.52 238.83L96.64 237.60L96.76 236.53L96.89 235.65L97.01 235.01L97.13 234.64L97.25 234.54L97.38 234.74L97.50 235.22L97.62 236.00L97.74 237.03L97.87 238.31L97.99 239.78L98.11 241.41L98.23 243.16L98.36 244.96L98.48 246.76L98.60 248.50L98.72 250.13L98.85 251.61L98.97 252.87L99.09 253.88L99.21 254.61L99.34 255.03L99.46 255.13L99.58 254.90L99.70 254.36L99.83 253.51L99.95 252.38L100.07 251.02L100.19 249.46L100.32 247.74L100.44 245.94L100.56 244.10L100.68 242.29L100.81 240.57L100.93 238.98L101.05 237.58L101.17 236.43L101.29 235.54L101.42 234.96L101.54 234.71L101.66 234.78L101.78 235.19L101.91 235.91L102.03 236.92L102.15 238.18L102.27 239.66L102.40 241.31L102.52 243.07L102.64 244.87L102.76 246.67L102.89 248.40L103.01 250.00L103.13 251.43L103.25 252.62L103.38 253.54L103.50 254.16L103.62 254.46L103.74 254.43L103.87 254.06L103.99 253.38L104.11 252.41L104.23 251.17L104.36 249.72L104.48 248.10L104.60 246.38L104.72 244.60L104.85 242.84L104.97 241.16L105.09 239.62L105.21 238.28L105.34 237.18L105.46 236.38L105.58 235.90L105.70 235.77L105.83 236.00L105.95 236.59L106.07 237.53L106.19 238.78L106.31 240.31L106.44 242.08L106.56 244.03L106.68 246.10L106.80 248.21L106.93 250.31L107.05 252.30L107.17 254.14L107.29 255.74L107.42 257.06L107.54 258.04L107.66 258.64L107.78 258.83L107.91 258.59L108.03 257.93L108.15 256.85L108.27 255.37L108.40 253.55L108.52 251.42L108.64 249.05L108.76 246.51L108.89 243.87L109.01 241.22L109.13 238.64L109.25 236.22L109.38 234.02L109.50 232.14L109.62 230.62L109.74 229.54L109.87 228.93L109.99 228.81L110.11 229.21L110.23 230.13L110.36 231.54L110.48 233.42L110.60 235.72L110.72 238.37L110.85 241.31L110.97 244.45L111.09 247.70L111.21 250.98L111.34 254.17L111.46 257.20L111.58 259.96L111.70 262.38L111.82 264.37L111.95 265.88L112.07 266.85L112.19 267.25L112.31 267.06L112.44 266.29L112.56 264.94L112.68 263.05L112.80 260.66L112.93 257.86L113.05 254.70L113.17 251.28L113.29 247.69L113.42 244.05L113.54 240.44L113.66 236.97L113.78 233.75L113.91 230.87L114.03 228.40L114.15 226.43L114.27 225.01L114.40 224.17L114.52 223.96L114.64 224.37L114.76 225.39L114.89 227.00L115.01 229.15L115.13 231.77L115.25 234.80L115.38 238.15L115.50 241.71L115.62 245.40L115.74 249.11L115.87 252.72L115.99 256.14L116.11 259.28L116.23 262.04L116.36 264.36L116.48 266.16L116.60 267.40L116.72 268.04L116.84 268.09L116.97 267.54L117.09 266.41L117.21 264.73L117.33 262.58L117.46 260.00L117.58 257.09L117.70 253.92L117.82 250.60L117.95 247.22L118.07 243.87L118.19 240.67L118.31 237.69L118.44 235.02L118.56 232.74L118.68 230.90L118.80 229.55L118.93 228.73L119.05 228.44L119.17 228.69L119.29 229.46L119.42 230.72L119.54 232.42L119.66 234.50L119.78 236.89L119.91 239.52L120.03 242.29L120.15 245.13L120.27 247.95L120.40 250.66L120.52 253.17L120.64 255.43L120.76 257.36L120.89 258.91L121.01 260.04L121.13 260.73L121.25 260.96L121.38 260.74L121.50 260.09L121.62 259.03L121.74 257.62L121.86 255.89L121.99 253.93L122.11 251.79L122.23 249.54L122.35 247.28L122.48 245.06L122.60 242.97L122.72 241.06L122.84 239.41L122.97 238.05L123.09 237.04L123.21 236.39L123.33 236.12L123.46 236.24L123.58 236.73L123.70 237.57L123.82 238.73L123.95 240.16L124.07 241.81L124.19 243.62L124.31 245.53L124.44 247.46L124.56 249.36L124.68 251.15L124.80 252.77L124.93 254.17L125.05 255.31L125.17 256.14L125.29 256.64L125.42 256.79L125.54 256.59L125.66 256.05L125.78 255.18L125.91 254.02L126.03 252.61L126.15 250.99L126.27 249.22L126.40 247.37L126.52 245.49L126.64 243.65L126.76 241.91L126.88 240.33L127.01 238.97L127.13 237.86L127.25 237.05L127.37 236.56L127.50 236.41L127.62 236.62L127.74 237.16L127.86 238.02L127.99 239.18L128.11 240.61L128.23 242.24L128.35 244.04L128.48 245.94L128.60 247.89L128.72 249.82L128.84 251.67L128.97 253.38L129.09 254.90L129.21 256.18L129.33 257.18L129.46 257.87L129.58 258.24L129.70 258.26L129.82 257.94L129.95 257.30L130.07 256.35L130.19 255.13L130.31 253.68L130.44 252.04L130.56 250.27L130.68 248.42L130.80 246.55L130.93 244.72L131.05 242.99L131.17 241.41L131.29 240.02L131.42 238.86L131.54 237.98L131.66 237.38L131.78 237.09L131.90 237.11L132.03 237.43L132.15 238.04L132.27 238.90L132.39 240.00L132.52 241.28L132.64 242.70L132.76 244.21L132.88 245.77L133.01 247.31L133.13 248.79L133.25 250.16L133.37 251.39L133.50 252.42L133.62 253.24L133.74 253.82L133.86 254.16L133.99 254.24L134.11 254.07L134.23 253.67L134.35 253.05L134.48 252.26L134.60 251.32L134.72 250.28L134.84 249.17L134.97 248.04L135.09 246.95L135.21 245.92L135.33 245.00L135.46 244.22L135.58 243.62L135.70 243.21L135.82 243.01L135.95 243.02L136.07 243.24L136.19 243.66L136.31 244.26L136.44 245.01L136.56 245.88L136.68 246.83L136.80 247.82L136.93 248.80L137.05 249.73L137.17 250.58L137.29 251.29L137.41 251.83L137.54 252.18L137.66 252.30L137.78 252.20L137.90 251.86L138.03 251.28L138.15 250.48L138.27 249.48L138.39 248.32L138.52 247.02L138.64 245.63L138.76 244.21L138.88 242.79L139.01 241.45L139.13 240.22L139.25 239.16L139.37 238.32L139.50 237.74L139.62 237.44L139.74 237.46L139.86 237.80L139.99 238.47L140.11 239.46L140.23 240.76L140.35 242.33L140.48 244.13L140.60 246.12L140.72 248.24L140.84 250.42L140.97 252.60L141.09 254.71L141.21 256.68L141.33 258.45L141.46 259.95L141.58 261.13L141.70 261.94L141.82 262.34L141.95 262.32L142.07 261.85L142.19 260.95L142.31 259.62L142.43 257.89L142.56 255.81L142.68 253.42L142.80 250.80L142.92 248.00L143.05 245.12L143.17 242.23L143.29 239.42L143.41 236.76L143.54 234.35L143.66 232.26L143.78 230.55L143.90 229.28L144.03 228.49L144.15 228.22L144.27 228.47L144.39 229.26L144.52 230.56L144.64 232.34L144.76 234.56L144.88 237.16L145.01 240.08L145.13 243.22L145.25 246.50L145.37 249.84L145.50 253.12L145.62 256.27L145.74 259.19L145.86 261.79L145.99 263.99L146.11 265.74L146.23 266.98L146.35 267.67L146.48 267.79L146.60 267.34L146.72 266.33L146.84 264.78L146.97 262.73L147.09 260.26L147.21 257.42L147.33 254.31L147.45 251.00L147.58 247.60L147.70 244.20L147.82 240.91L147.94 237.81L148.07 235.00L148.19 232.55L148.31 230.54L148.43 229.03L148.56 228.05L148.68 227.63L148.80 227.78L148.92 228.49L149.05 229.74L149.17 231.48L149.29 233.67L149.41 236.23L149.54 239.09L149.66 242.15L149.78 245.33L149.90 248.52L150.03 251.64L150.15 254.59L150.27 257.28L150.39 259.64L150.52 261.59L150.64 263.08L150.76 264.07L150.88 264.54L151.01 264.48L151.13 263.89L151.25 262.80L151.37 261.24L151.50 259.28L151.62 256.97L151.74 254.39L151.86 251.63L151.99 248.77L152.11 245.90L152.23 243.12L152.35 240.51L152.47 238.15L152.60 236.11L152.72 234.46L152.84 233.25L152.96 232.51L153.09 232.26L153.21 232.50L153.33 233.22L153.45 234.40L153.58 236.00L153.70 237.95L153.82 240.20L153.94 242.67L154.07 245.28L154.19 247.94L154.31 250.57L154.43 253.07L154.56 255.38L154.68 257.41L154.80 259.10L154.92 260.40L155.05 261.26L155.17 261.65L155.29 261.57L155.41 261.01L155.54 260.00L155.66 258.56L155.78 256.75L155.90 254.62L156.03 252.23L156.15 249.67L156.27 247.02L156.39 244.36L156.52 241.78L156.64 239.36L156.76 237.17L156.88 235.30L157.01 233.80L157.13 232.71L157.25 232.08L157.37 231.92L157.49 232.25L157.62 233.06L157.74 234.31L157.86 235.98L157.98 238.02L158.11 240.36L158.23 242.93L158.35 245.65L158.47 248.44L158.60 251.22L158.72 253.90L158.84 256.39L158.96 258.63L159.09 260.54L159.21 262.06L159.33 263.15L159.45 263.78L159.58 263.93L159.70 263.58L159.82 262.76L159.94 261.48L160.07 259.79L160.19 257.73L160.31 255.37L160.43 252.77L160.56 250.03L160.68 247.20L160.80 244.39L160.92 241.67L161.05 239.11L161.17 236.81L161.29 234.81L161.41 233.18L161.54 231.96L161.66 231.18L161.78 230.87L161.90 231.02L162.03 231.63L162.15 232.67L162.27 234.12L162.39 235.92L162.51 238.01L162.64 240.33L162.76 242.82L162.88 245.39L163.00 247.98L163.13 250.50L163.25 252.88L163.37 255.07L163.49 256.99L163.62 258.60L163.74 259.86L163.86 260.73L163.98 261.21L164.11 261.29L164.23 260.98L164.35 260.29L164.47 259.26L164.60 257.92L164.72 256.33L164.84 254.54L164.96 252.60L165.09 250.59L165.21 248.56L165.33 246.58L165.45 244.70L165.58 242.98L165.70 241.45L165.82 240.17L165.94 239.17L166.07 238.45L166.19 238.03L166.31 237.91L166.43 238.08L166.56 238.52L166.68 239.20L166.80 240.10L166.92 241.15L167.05 242.33L167.17 243.59L167.29 244.87L167.41 246.14L167.53 247.34L167.66 248.44L167.78 249.40L167.90 250.20L168.02 250.81L168.15 251.22L168.27 251.43L168.39 251.43L168.51 251.25L168.64 250.90L168.76 250.41L168.88 249.80L169.00 249.11L169.13 248.38L169.25 247.65L169.37 246.95L169.49 246.31L169.62 245.78L169.74 245.38L169.86 245.13L169.98 245.05L170.11 245.14L170.23 245.40L170.35 245.82L170.47 246.40L170.60 247.10L170.72 247.90L170.84 248.77L170.96 249.67L171.09 250.56L171.21 251.40L171.33 252.14L171.45 252.76L171.58 253.22L171.70 253.48L171.82 253.53L171.94 253.35L172.07 252.93L172.19 252.28L172.31 251.40L172.43 250.31L172.56 249.05L172.68 247.65L172.80 246.14L172.92 244.58L173.04 243.01L173.17 241.49L173.29 240.07L173.41 238.80L173.53 237.73L173.66 236.90L173.78 236.35L173.90 236.11L174.02 236.19L174.15 236.62L174.27 237.37L174.39 238.45L174.51 239.82L174.64 241.47L174.76 243.34L174.88 245.38L175.00 247.54L175.13 249.75L175.25 251.96L175.37 254.08L175.49 256.06L175.62 257.84L175.74 259.35L175.86 260.55L175.98 261.39L176.11 261.84L176.23 261.89L176.35 261.52L176.47 260.74L176.60 259.56L176.72 258.01L176.84 256.14L176.96 254.00L177.09 251.64L177.21 249.14L177.33 246.56L177.45 243.98L177.58 241.48L177.70 239.13L177.82 237.00L177.94 235.16L178.06 233.67L178.19 232.56L178.31 231.88L178.43 231.65L178.55 231.88L178.68 232.55L178.80 233.66L178.92 235.17L179.04 237.03L179.17 239.20L179.29 241.60L179.41 244.16L179.53 246.81L179.66 249.47L179.78 252.05L179.90 254.48L180.02 256.68L180.15 258.58L180.27 260.14L180.39 261.29L180.51 262.01L180.64 262.28L180.76 262.08L180.88 261.43L181.00 260.34L181.13 258.86L181.25 257.03L181.37 254.90L181.49 252.55L181.62 250.05L181.74 247.49L181.86 244.93L181.98 242.47L182.11 240.18L182.23 238.13L182.35 236.39L182.47 235.02L182.60 234.06L182.72 233.54L182.84 233.48L182.96 233.87L183.08 234.71L183.21 235.96L183.33 237.60L183.45 239.55L183.57 241.77L183.70 244.18L183.82 246.70L183.94 249.24L184.06 251.73L184.19 254.08L184.31 256.21L184.43 258.06L184.55 259.56L184.68 260.65L184.80 261.31L184.92 261.50L185.04 261.21L185.17 260.46L185.29 259.26L185.41 257.65L185.53 255.67L185.66 253.39L185.78 250.87L185.90 248.21L186.02 245.47L186.15 242.76L186.27 240.15L186.39 237.74L186.51 235.60L186.64 233.80L186.76 232.41L186.88 231.47L187.00 231.03L187.13 231.10L187.25 231.68L187.37 232.77L187.49 234.33L187.62 236.33L187.74 238.71L187.86 241.39L187.98 244.30L188.10 247.35L188.23 250.45L188.35 253.51L188.47 256.42L188.59 259.11L188.72 261.48L188.84 263.46L188.96 264.99L189.08 266.01L189.21 266.49L189.33 266.41L189.45 265.76L189.57 264.56L189.70 262.85L189.82 260.65L189.94 258.05L190.06 255.10L190.19 251.90L190.31 248.54L190.43 245.11L190.55 241.71L190.68 238.45L190.80 235.42L190.92 232.70L191.04 230.39L191.17 228.54L191.29 227.22L191.41 226.46L191.53 226.29L191.66 226.70L191.78 227.70L191.90 229.26L192.02 231.32L192.15 233.84L192.27 236.73L192.39 239.92L192.51 243.32L192.64 246.82L192.76 250.32L192.88 253.74L193.00 256.97L193.12 259.91L193.25 262.50L193.37 264.65L193.49 266.30L193.61 267.43L193.74 267.98L193.86 267.97L193.98 267.38L194.10 266.24L194.23 264.60L194.35 262.49L194.47 259.99L194.59 257.18L194.72 254.12L194.84 250.93L194.96 247.67L195.08 244.46L195.21 241.38L195.33 238.52L195.45 235.95L195.57 233.75L195.70 231.96L195.82 230.64L195.94 229.80L196.06 229.48L196.19 229.66L196.31 230.33L196.43 231.46L196.55 233.00L196.68 234.91L196.80 237.11L196.92 239.54L197.04 242.12L197.17 244.78L197.29 247.42L197.41 249.97L197.53 252.37L197.66 254.54L197.78 256.42L197.90 257.98L198.02 259.16L198.15 259.96L198.27 260.35L198.39 260.34L198.51 259.95L198.63 259.19L198.76 258.11L198.88 256.75L199.00 255.16L199.12 253.41L199.25 251.55L199.37 249.65L199.49 247.77L199.61 245.98L199.74 244.33L199.86 242.86L199.98 241.62L200.10 240.64L200.23 239.95L200.35 239.56L200.47 239.46L200.59 239.65L200.72 240.10L200.84 240.81L200.96 241.71L201.08 242.78L201.21 243.97L201.33 245.23L201.45 246.50L201.57 247.74L201.70 248.90L201.82 249.94L201.94 250.81L202.06 251.49L202.19 251.95L202.31 252.18L202.43 252.18L202.55 251.94L202.68 251.49L202.80 250.83L202.92 250.01L203.04 249.05L203.17 248.00L203.29 246.90L203.41 245.80L203.53 244.73L203.65 243.76L203.78 242.91L203.90 242.22L204.02 241.73L204.14 241.46L204.27 241.42L204.39 241.62L204.51 242.06L204.63 242.73L204.76 243.60L204.88 244.65L205.00 245.85L205.12 247.16L205.25 248.52L205.37 249.89L205.49 251.23L205.61 252.48L205.74 253.60L205.86 254.55L205.98 255.29L206.10 255.78L206.23 256.01L206.35 255.96L206.47 255.63L206.59 255.02L206.72 254.15L206.84 253.04L206.96 251.72L207.08 250.24L207.21 248.63L207.33 246.96L207.45 245.26L207.57 243.60L207.70 242.03L207.82 240.61L207.94 239.37L208.06 238.36L208.19 237.61L208.31 237.16L208.43 237.02L208.55 237.19L208.67 237.67L208.80 238.45L208.92 239.50L209.04 240.80L209.16 242.30L209.29 243.96L209.41 245.72L209.53 247.53L209.65 249.33L209.78 251.07L209.90 252.68L210.02 254.11L210.14 255.33L210.27 256.29L210.39 256.96L210.51 257.32L210.63 257.36L210.76 257.08L210.88 256.48L211.00 255.60L211.12 254.46L211.25 253.09L211.37 251.55L211.49 249.89L211.61 248.16L211.74 246.43L211.86 244.74L211.98 243.16L212.10 241.74L212.23 240.53L212.35 239.57L212.47 238.89L212.59 238.52L212.72 238.46L212.84 238.72L212.96 239.29L213.08 240.15L213.21 241.27L213.33 242.60L213.45 244.11L213.57 245.74L213.69 247.42L213.82 249.11L213.94 250.74L214.06 252.25L214.18 253.59L214.31 254.70L214.43 255.55L214.55 256.09L214.67 256.32L214.80 256.20L214.92 255.75L215.04 254.97L215.16 253.88L215.29 252.53L215.41 250.94L215.53 249.18L215.65 247.31L215.78 245.38L215.90 243.46L216.02 241.62L216.14 239.93L216.27 238.44L216.39 237.22L216.51 236.32L216.63 235.77L216.76 235.60L216.88 235.83L217.00 236.45L217.12 237.47L217.25 238.85L217.37 240.56L217.49 242.56L217.61 244.78L217.74 247.16L217.86 249.62L217.98 252.10L218.10 254.50L218.23 256.75L218.35 258.78L218.47 260.51L218.59 261.88L218.71 262.85L218.84 263.36L218.96 263.40L219.08 262.95L219.20 262.01L219.33 260.60L219.45 258.76L219.57 256.53L219.69 253.96L219.82 251.14L219.94 248.14L220.06 245.04L220.18 241.94L220.31 238.92L220.43 236.09L220.55 233.53L220.67 231.31L220.80 229.52L220.92 228.20L221.04 227.41L221.16 227.18L221.29 227.52L221.41 228.43L221.53 229.89L221.65 231.87L221.78 234.31L221.90 237.15L222.02 240.32L222.14 243.72L222.27 247.26L222.39 250.84L222.51 254.36L222.63 257.71L222.76 260.81L222.88 263.55L223.00 265.85L223.12 267.66L223.25 268.91L223.37 269.57L223.49 269.62L223.61 269.04L223.73 267.86L223.86 266.11L223.98 263.83L224.10 261.09L224.22 257.97L224.35 254.55L224.47 250.93L224.59 247.22L224.71 243.51L224.84 239.92L224.96 236.55L225.08 233.48L225.20 230.82L225.33 228.62L225.45 226.95L225.57 225.86L225.69 225.38L225.82 225.51L225.94 226.24L226.06 227.56L226.18 229.41L226.31 231.75L226.43 234.50L226.55 237.58L226.67 240.89L226.80 244.35L226.92 247.85L227.04 251.28L227.16 254.56L227.29 257.58L227.41 260.27L227.53 262.55L227.65 264.36L227.78 265.65L227.90 266.40L228.02 266.59L228.14 266.22L228.27 265.31L228.39 263.90L228.51 262.04L228.63 259.80L228.76 257.23L228.88 254.43L229.00 251.49L229.12 248.49L229.24 245.53L229.37 242.69L229.49 240.06L229.61 237.71L229.73 235.71L229.86 234.11L229.98 232.95L230.10 232.27L230.22 232.06L230.35 232.34L230.47 233.07L230.59 234.22L230.71 235.76L230.84 237.62L230.96 239.73L231.08 242.03L231.20 244.44L231.33 246.87L231.45 249.26L231.57 251.51L231.69 253.57L231.82 255.37L231.94 256.85L232.06 257.98L232.18 258.72L232.31 259.05L232.43 258.98L232.55 258.51L232.67 257.66L232.80 256.47L232.92 254.99L233.04 253.27L233.16 251.37L233.29 249.36L233.41 247.31L233.53 245.30L233.65 243.38L233.78 241.62L233.90 240.09L234.02 238.83L234.14 237.88L234.26 237.28L234.39 237.04L234.51 237.17L234.63 237.66L234.75 238.49L234.88 239.63L235.00 241.05L235.12 242.69L235.24 244.49L235.37 246.40L235.49 248.35L235.61 250.28L235.73 252.11L235.86 253.79L235.98 255.26L236.10 256.47L236.22 257.38L236.35 257.96L236.47 258.19L236.59 258.06L236.71 257.58L236.84 256.75L236.96 255.62L237.08 254.20L237.20 252.56L237.33 250.73L237.45 248.79L237.57 246.79L237.69 244.79L237.82 242.87L237.94 241.07L238.06 239.47L238.18 238.10L238.31 237.02L238.43 236.25L238.55 235.82L238.67 235.74L238.80 236.02L238.92 236.63L239.04 237.57L239.16 238.81L239.28 240.29L239.41 241.98L239.53 243.82L239.65 245.75L239.77 247.71L239.90 249.65L240.02 251.50L240.14 253.20L240.26 254.72L240.39 255.99L240.51 256.99L240.63 257.68L240.75 258.06L240.88 258.12L241.00 257.85L241.12 257.27L241.24 256.41L241.37 255.30L241.49 253.98L241.61 252.49L241.73 250.89L241.86 249.22L241.98 247.55L242.10 245.92L242.22 244.39L242.35 243.00L242.47 241.79L242.59 240.80L242.71 240.05L242.84 239.56L242.96 239.34L243.08 239.38L243.20 239.69L243.33 240.22L243.45 240.97L243.57 241.90L243.69 242.96L243.82 244.12L243.94 245.32L244.06 246.53L244.18 247.70L244.30 248.79L244.43 249.75L244.55 250.56L244.67 251.18L244.79 251.61L244.92 251.82L245.04 251.82L245.16 251.62L245.28 251.22L245.41 250.65L245.53 249.93L245.65 249.11L245.77 248.21L245.90 247.29L246.02 246.37L246.14 245.52L246.26 244.75L246.39 244.12L246.51 243.65L246.63 243.36L246.75 243.28L246.88 243.42L247.00 243.77L247.12 244.32L247.24 245.07L247.37 245.99L247.49 247.04L247.61 248.19L247.73 249.39L247.86 250.61L247.98 251.78L248.10 252.86L248.22 253.81L248.35 254.57L248.47 255.12L248.59 255.42L248.71 255.45L248.84 255.19L248.96 254.63L249.08 253.78L249.20 252.66L249.32 251.29L249.45 249.71L249.57 247.96L249.69 246.09L249.81 244.16L249.94 242.23L250.06 240.36L250.18 238.62L250.30 237.06L250.43 235.75L250.55 234.73L250.67 234.05L250.79 233.74L250.92 233.83L251.04 234.32L251.16 235.21L251.28 236.50L251.41 238.15L251.53 240.12L251.65 242.37L251.77 244.83L251.90 247.44L252.02 250.13L252.14 252.81L252.26 255.40L252.39 257.83L252.51 260.03L252.63 261.92L252.75 263.43L252.88 264.53L253.00 265.16L253.12 265.30L253.24 264.93L253.37 264.07L253.49 262.72L253.61 260.91L253.73 258.69L253.86 256.12L253.98 253.27L254.10 250.22L254.22 247.04L254.34 243.83L254.47 240.69L254.59 237.70L254.71 234.95L254.83 232.52L254.96 230.48L255.08 228.90L255.20 227.83L255.32 227.29L255.45 227.31L255.57 227.89L255.69 229.02L255.81 230.66L255.94 232.78L256.06 235.30L256.18 238.17L256.30 241.30L256.43 244.60L256.55 247.97L256.67 251.32L256.79 254.55L256.92 257.57L257.04 260.29L257.16 262.64L257.28 264.53L257.41 265.94L257.53 266.80L257.65 267.10L257.77 266.83L257.90 266.01L258.02 264.66L258.14 262.81L258.26 260.54L258.39 257.90L258.51 254.98L258.63 251.86L258.75 248.65L258.88 245.43L259.00 242.30L259.12 239.35L259.24 236.67L259.37 234.34L259.49 232.43L259.61 230.98L259.73 230.04L259.85 229.64L259.98 229.77L260.10 230.43L260.22 231.60L260.34 233.23L260.47 235.28L260.59 237.66L260.71 240.31L260.83 243.14L260.96 246.06L261.08 248.98L261.20 251.81L261.32 254.46L261.45 256.85L261.57 258.91L261.69 260.57L261.81 261.79L261.94 262.52L262.06 262.76L262.18 262.50L262.30 261.75L262.43 260.53L262.55 258.90L262.67 256.90L262.79 254.61L262.92 252.10L263.04 249.44L263.16 246.74L263.28 244.07L263.41 241.52L263.53 239.18L263.65 237.12L263.77 235.41L263.90 234.09L264.02 233.22L264.14 232.82L264.26 232.91L264.39 233.47L264.51 234.50L264.63 235.95L264.75 237.78L264.87 239.94L265.00 242.35L265.12 244.93L265.24 247.61L265.36 250.29L265.49 252.89L265.61 255.33L265.73 257.52L265.85 259.40L265.98 260.90L266.10 261.98L266.22 262.60L266.34 262.73L266.47 262.38L266.59 261.54L266.71 260.25L266.83 258.54L266.96 256.47L267.08 254.09L267.20 251.48L267.32 248.72L267.45 245.89L267.57 243.09L267.69 240.39L267.81 237.88L267.94 235.65L268.06 233.74L268.18 232.24L268.30 231.18L268.43 230.60L268.55 230.51L268.67 230.92L268.79 231.82L268.92 233.18L269.04 234.96L269.16 237.11L269.28 239.57L269.41 242.26L269.53 245.10L269.65 248.01L269.77 250.90L269.89 253.69L270.02 256.29L270.14 258.64L270.26 260.65L270.38 262.28L270.51 263.48L270.63 264.22L270.75 264.47L270.87 264.24L271.00 263.52L271.12 262.36L271.24 260.78L271.36 258.84L271.49 256.59L271.61 254.11L271.73 251.46L271.85 248.72L271.98 245.98L272.10 243.32L272.22 240.80L272.34 238.51L272.47 236.50L272.59 234.82L272.71 233.53L272.83 232.64L272.96 232.18L273.08 232.15L273.20 232.54L273.32 233.34L273.45 234.51L273.57 236.00L273.69 237.78L273.81 239.77L273.94 241.92L274.06 244.15L274.18 246.40L274.30 248.61L274.43 250.70L274.55 252.63L274.67 254.33L274.79 255.77L274.91 256.91L275.04 257.73L275.16 258.22L275.28 258.37L275.40 258.19L275.53 257.71L275.65 256.94L275.77 255.93L275.89 254.72L276.02 253.36L276.14 251.90L276.26 250.38L276.38 248.87L276.51 247.41L276.63 246.04L276.75 244.82L276.87 243.77L277.00 242.92L277.12 242.29L277.24 241.89L277.36 241.71L277.49 241.76L277.61 242.02L277.73 242.46L277.85 243.06L277.98 243.77L278.10 244.57L278.22 245.42L278.34 246.26L278.47 247.07L278.59 247.81L278.71 248.45L278.83 248.95L278.96 249.30L279.08 249.49L279.20 249.50L279.32 249.34L279.45 249.02L279.57 248.55L279.69 247.95L279.81 247.26L279.93 246.51L280.06 245.73L280.18 244.97L280.30 244.25L280.42 243.62L280.55 243.12L280.67 242.77L280.79 242.59L280.91 242.62L281.04 242.85L281.16 243.29L281.28 243.94L281.40 244.78L281.53 245.80L281.65 246.96L281.77 248.22L281.89 249.55L282.02 250.90L282.14 252.23L282.26 253.48L282.38 254.61L282.51 255.57L282.63 256.33L282.75 256.84L282.87 257.07L283.00 257.02L283.12 256.66L283.24 256.00L283.36 255.05L283.49 253.82L283.61 252.34L283.73 250.65L283.85 248.80L283.98 246.84L284.10 244.82L284.22 242.81L284.34 240.87L284.47 239.06L284.59 237.44L284.71 236.06L284.83 234.97L284.95 234.22L285.08 233.82L285.20 233.81L285.32 234.19L285.44 234.95L285.57 236.08L285.69 237.56L285.81 239.35L285.93 241.39L286.06 243.64L286.18 246.02L286.30 248.47L286.42 250.91L286.55 253.28L286.67 255.51L286.79 257.51L286.91 259.25L287.04 260.64L287.16 261.67L287.28 262.28L287.40 262.47L287.53 262.21L287.65 261.53L287.77 260.42L287.89 258.94L288.02 257.11L288.14 254.99L288.26 252.64L288.38 250.14L288.51 247.56L288.63 244.98L288.75 242.47L288.87 240.12L289.00 237.98L289.12 236.14L289.24 234.63L289.36 233.52L289.49 232.83L289.61 232.59L289.73 232.80L289.85 233.45L289.98 234.52L290.10 235.98L290.22 237.79L290.34 239.88L290.46 242.19L290.59 244.64L290.71 247.17L290.83 249.68L290.95 252.10L291.08 254.35L291.20 256.37L291.32 258.08L291.44 259.43L291.57 260.38L291.69 260.90L291.81 260.98L291.93 260.61L292.06 259.80L292.18 258.58L292.30 256.99L292.42 255.08L292.55 252.92L292.67 250.57L292.79 248.11L292.91 245.63L293.04 243.20L293.16 240.90L293.28 238.81L293.40 237.01L293.53 235.54L293.65 234.47L293.77 233.82L293.89 233.63L294.02 233.90L294.14 234.63L294.26 235.79L294.38 237.35L294.51 239.27L294.63 241.49L294.75 243.93L294.87 246.51L295.00 249.16L295.12 251.78L295.24 254.30L295.36 256.63L295.48 258.69L295.61 260.41L295.73 261.73L295.85 262.60L295.97 262.99L296.10 262.89L296.22 262.28L296.34 261.18L296.46 259.62L296.59 257.64L296.71 255.30L296.83 252.67L296.95 249.82L297.08 246.84L297.20 243.82L297.32 240.86L297.44 238.05L297.57 235.47L297.69 233.21L297.81 231.35L297.93 229.93L298.06 229.02L298.18 228.65L298.30 228.83L298.42 229.57L298.55 230.85L298.67 232.63L298.79 234.88L298.91 237.52L299.04 240.48L299.16 243.68L299.28 247.03L299.40 250.43L299.53 253.77L299.65 256.96L299.77 259.91L299.89 262.52L300.02 264.72L300.14 266.44L300.26 267.63L300.38 268.24L300.50 268.27L300.63 267.70L300.75 266.56L300.87 264.86L300.99 262.66L301.12 260.03L301.24 257.02L301.36 253.74L301.48 250.27L301.61 246.71L301.73 243.17L301.85 239.74L301.97 236.53L302.10 233.62L302.22 231.09L302.34 229.03L302.46 227.47L302.59 226.48L302.71 226.06L302.83 226.24L302.95 227.00L303.08 228.32L303.20 230.15L303.32 232.44L303.44 235.13L303.57 238.13L303.69 241.35L303.81 244.71L303.93 248.10L304.06 251.42L304.18 254.60L304.30 257.53L304.42 260.13L304.55 262.35L304.67 264.11L304.79 265.38L304.91 266.13L305.04 266.35L305.16 266.03L305.28 265.20L305.40 263.89L305.52 262.14L305.65 260.02L305.77 257.59L305.89 254.94L306.01 252.13L306.14 249.26L306.26 246.42L306.38 243.67L306.50 241.11L306.63 238.80L306.75 236.79L306.87 235.16L306.99 233.92L307.12 233.11L307.24 232.74L307.36 232.80L307.48 233.29L307.61 234.17L307.73 235.40L307.85 236.94L307.97 238.72L308.10 240.70L308.22 242.79L308.34 244.92L308.46 247.04L308.59 249.07L308.71 250.96L308.83 252.64L308.95 254.07L309.08 255.22L309.20 256.05L309.32 256.56L309.44 256.74L309.57 256.59L309.69 256.13L309.81 255.40L309.93 254.43L310.06 253.26L310.18 251.94L310.30 250.52L310.42 249.06L310.54 247.62L310.67 246.24L310.79 244.98L310.91 243.88L311.03 242.98L311.16 242.29L311.28 241.85L311.40 241.67L311.52 241.74L311.65 242.06L311.77 242.60L311.89 243.34L312.01 244.25L312.14 245.29L312.26 246.41L312.38 247.56L312.50 248.71L312.63 249.80L312.75 250.78L312.87 251.62L312.99 252.29L313.12 252.74L313.24 252.97L313.36 252.96L313.48 252.71L313.61 252.22L313.73 251.52L313.85 250.61L313.97 249.55L314.10 248.35L314.22 247.07L314.34 245.75L314.46 244.44L314.59 243.19L314.71 242.04L314.83 241.04L314.95 240.23L315.08 239.64L315.20 239.30L315.32 239.23L315.44 239.42L315.56 239.89L315.69 240.62L315.81 241.59L315.93 242.78L316.05 244.14L316.18 245.64L316.30 247.23L316.42 248.86L316.54 250.47L316.67 252.01L316.79 253.43L316.91 254.68L317.03 255.72L317.16 256.52L317.28 257.04L317.40 257.27L317.52 257.19L317.65 256.81L317.77 256.13L317.89 255.17L318.01 253.97L318.14 252.56L318.26 250.98L318.38 249.29L318.50 247.53L318.63 245.77L318.75 244.05L318.87 242.44L318.99 240.98L319.12 239.73L319.24 238.71L319.36 237.97L319.48 237.53L319.61 237.40L319.73 237.59L319.85 238.08L319.97 238.86L320.10 239.90L320.22 241.18L320.34 242.64L320.46 244.23L320.58 245.91L320.71 247.61L320.83 249.28L320.95 250.86L321.07 252.31L321.20 253.57L321.32 254.59L321.44 255.36L321.56 255.84L321.69 256.01L321.81 255.87L321.93 255.44L322.05 254.71L322.18 253.73L322.30 252.53L322.42 251.14L322.54 249.63L322.67 248.04L322.79 246.42L322.91 244.85L323.03 243.37L323.16 242.05L323.28 240.92L323.40 240.03L323.52 239.42L323.65 239.11L323.77 239.11L323.89 239.43L324.01 240.06L324.14 240.99L324.26 242.17L324.38 243.58L324.50 245.17L324.63 246.88L324.75 248.65L324.87 250.42L324.99 252.12L325.12 253.70L325.24 255.09L325.36 256.25L325.48 257.11L325.61 257.65L325.73 257.84L325.85 257.66L325.97 257.11L326.09 256.20L326.22 254.94L326.34 253.38L326.46 251.55L326.58 249.51L326.71 247.32L326.83 245.05L326.95 242.77L327.07 240.56L327.20 238.50L327.32 236.64L327.44 235.07L327.56 233.83L327.69 232.98L327.81 232.56L327.93 232.58L328.05 233.06L328.18 234.01L328.30 235.39L328.42 237.18L328.54 239.33L328.67 241.78L328.79 244.48L328.91 247.33L329.03 250.26L329.16 253.18L329.28 256.00L329.40 258.64L329.52 261.01L329.65 263.03L329.77 264.64L329.89 265.78L330.01 266.41L330.14 266.50L330.26 266.04L330.38 265.03L330.50 263.50L330.63 261.47L330.75 259.01L330.87 256.18L330.99 253.04L331.11 249.70L331.24 246.25L331.36 242.78L331.48 239.39L331.60 236.18L331.73 233.25L331.85 230.68L331.97 228.56L332.09 226.93L332.22 225.87L332.34 225.39L332.46 225.52L332.58 226.26L332.71 227.59L332.83 229.48L332.95 231.87L333.07 234.71L333.20 237.90L333.32 241.37L333.44 245.01L333.56 248.72L333.69 252.40L333.81 255.94L333.93 259.24L334.05 262.21L334.18 264.76L334.30 266.82L334.42 268.34L334.54 269.27L334.67 269.59L334.79 269.29L334.91 268.38L335.03 266.89L335.16 264.86L335.28 262.36L335.40 259.46L335.52 256.25L335.65 252.82L335.77 249.26L335.89 245.68L336.01 242.19L336.13 238.88L336.26 235.85L336.38 233.18L336.50 230.94L336.62 229.20L336.75 227.99L336.87 227.35L336.99 227.29L337.11 227.80L337.24 228.86L337.36 230.43L337.48 232.46L337.60 234.88L337.73 237.61L337.85 240.58L337.97 243.68L338.09 246.82L338.22 249.92L338.34 252.87L338.46 255.60L338.58 258.02L338.71 260.08L338.83 261.70L338.95 262.86L339.07 263.52L339.20 263.68L339.32 263.34L339.44 262.52L339.56 261.25L339.69 259.59L339.81 257.59L339.93 255.32L340.05 252.87L340.18 250.30L340.30 247.70L340.42 245.16L340.54 242.76L340.67 240.56L340.79 238.64L340.91 237.05L341.03 235.84L341.15 235.04L341.28 234.66L341.40 234.71L341.52 235.18L341.64 236.06L341.77 237.29L341.89 238.84L342.01 240.64L342.13 242.64L342.26 244.76L342.38 246.94L342.50 249.09L342.62 251.14L342.75 253.03L342.87 254.69L342.99 256.07L343.11 257.13L343.24 257.84L343.36 258.16L343.48 258.10L343.60 257.66L343.73 256.86L343.85 255.73L343.97 254.30L344.09 252.63L344.22 250.78L344.34 248.81L344.46 246.78L344.58 244.77L344.71 242.85L344.83 241.07L344.95 239.50L345.07 238.19L345.20 237.19L345.32 236.52L345.44 236.21L345.56 236.28L345.69 236.71L345.81 237.50L345.93 238.62L346.05 240.03L346.17 241.69L346.30 243.55L346.42 245.54L346.54 247.60L346.66 249.66L346.79 251.66L346.91 253.54L347.03 255.23L347.15 256.68L347.28 257.84L347.40 258.68L347.52 259.17L347.64 259.30L347.77 259.07L347.89 258.47L348.01 257.53L348.13 256.29L348.26 254.77L348.38 253.03L348.50 251.13L348.62 249.12L348.75 247.06L348.87 245.03L348.99 243.07L349.11 241.25L349.24 239.63L349.36 238.25L349.48 237.16L349.60 236.37L349.73 235.92L349.85 235.81L349.97 236.04L350.09 236.60L350.22 237.47L350.34 238.61L350.46 239.98L350.58 241.55L350.71 243.25L350.83 245.04L350.95 246.85L351.07 248.63L351.19 250.32L351.32 251.87L351.44 253.25L351.56 254.40L351.68 255.30L351.81 255.93L351.93 256.28L352.05 256.34L352.17 256.12L352.30 255.63L352.42 254.91L352.54 253.98L352.66 252.88L352.79 251.65L352.91 250.35L353.03 249.01L353.15 247.69L353.28 246.43L353.40 245.28L353.52 244.26L353.64 243.42L353.77 242.78L353.89 242.35L354.01 242.13L354.13 242.14L354.26 242.36L354.38 242.78L354.50 243.37L354.62 244.09L354.75 244.92L354.87 245.82L354.99 246.74L355.11 247.64L355.24 248.49L355.36 249.24L355.48 249.86L355.60 250.32L355.73 250.61L355.85 250.70L355.97 250.59L356.09 250.28L356.22 249.78L356.34 249.12L356.46 248.31L356.58 247.39L356.70 246.39L356.83 245.36L356.95 244.34L357.07 243.38L357.19 242.51L357.32 241.79L357.44 241.25L357.56 240.91L357.68 240.82L357.81 240.97L357.93 241.38L358.05 242.05L358.17 242.97L358.30 244.12L358.42 245.46L358.54 246.96L358.66 248.57L358.79 250.24L358.91 251.93L359.03 253.56L359.15 255.09L359.28 256.45L359.40 257.60L359.52 258.48L359.64 259.06L359.77 259.30L359.89 259.19L360.01 258.70L360.13 257.85L360.26 256.65L360.38 255.11L360.50 253.28L360.62 251.20L360.75 248.93L360.87 246.53L360.99 244.07L361.11 241.61L361.24 239.25L361.36 237.04L361.48 235.06L361.60 233.38L361.72 232.05L361.85 231.13L361.97 230.64L362.09 230.61L362.21 231.06L362.34 231.98L362.46 233.35L362.58 235.15L362.70 237.33L362.83 239.83L362.95 242.59L363.07 245.53L363.19 248.57L363.32 251.62L363.44 254.60L363.56 257.42L363.68 259.99L363.81 262.23L363.93 264.09L364.05 265.50L364.17 266.41L364.30 266.80L364.42 266.65L364.54 265.96L364.66 264.74L364.79 263.02L364.91 260.86L365.03 258.30L365.15 255.43L365.28 252.32L365.40 249.06L365.52 245.75L365.64 242.47L365.77 239.33L365.89 236.42L366.01 233.81L366.13 231.58L366.26 229.81L366.38 228.53L366.50 227.80L366.62 227.61L366.74 228.00L366.87 228.93L366.99 230.38L367.11 232.31L367.23 234.66L367.36 237.36L367.48 240.33L367.60 243.48L367.72 246.71L367.85 249.94L367.97 253.06L368.09 255.99L368.21 258.63L368.34 260.91L368.46 262.78L368.58 264.16L368.70 265.03L368.83 265.36L368.95 265.15L369.07 264.41L369.19 263.16L369.32 261.46L369.44 259.34L369.56 256.89L369.68 254.18L369.81 251.29L369.93 248.32L370.05 245.35L370.17 242.49L370.30 239.81L370.42 237.41L370.54 235.34L370.66 233.68L370.79 232.48L370.91 231.75L371.03 231.54L371.15 231.83L371.28 232.61L371.40 233.87L371.52 235.54L371.64 237.58L371.76 239.91L371.89 242.47L372.01 245.16L372.13 247.91L372.25 250.61L372.38 253.19L372.50 255.56L372.62 257.65L372.74 259.38L372.87 260.70L372.99 261.58L373.11 261.98L373.23 261.90L373.36 261.33L373.48 260.29L373.60 258.82L373.72 256.97L373.85 254.80L373.97 252.37L374.09 249.77L374.21 247.07L374.34 244.38L374.46 241.76L374.58 239.32L374.70 237.12L374.83 235.24L374.95 233.74L375.07 232.67L375.19 232.07L375.32 231.95L375.44 232.33L375.56 233.19L375.68 234.52L375.81 236.26L375.93 238.36L376.05 240.77L376.17 243.41L376.30 246.20L376.42 249.05L376.54 251.87L376.66 254.57L376.78 257.08L376.91 259.31L377.03 261.19L377.15 262.66L377.27 263.69L377.40 264.22L377.52 264.25L377.64 263.78L377.76 262.80L377.89 261.36L378.01 259.50L378.13 257.26L378.25 254.73L378.38 251.96L378.50 249.04L378.62 246.06L378.74 243.12L378.87 240.28L378.99 237.65L379.11 235.29L379.23 233.27L379.36 231.66L379.48 230.50L379.60 229.82L379.72 229.65L379.85 229.97L379.97 230.79L380.09 232.08L380.21 233.79L380.34 235.87L380.46 238.27L380.58 240.90L380.70 243.70L380.83 246.58L380.95 249.45L381.07 252.24L381.19 254.86L381.32 257.24L381.44 259.31L381.56 261.03L381.68 262.33L381.81 263.21L381.93 263.62L382.05 263.58L382.17 263.09L382.29 262.16L382.42 260.85L382.54 259.18L382.66 257.22L382.78 255.03L382.91 252.67L383.03 250.23L383.15 247.76L383.27 245.35L383.40 243.07L383.52 240.96L383.64 239.10L383.76 237.53L383.89 236.29L384.01 235.40L384.13 234.88L384.25 234.73L384.38 234.94L384.50 235.50L384.62 236.37L384.74 237.52L384.87 238.90L384.99 240.46L385.11 242.15L385.23 243.90L385.36 245.67L385.48 247.38L385.60 249.00L385.72 250.48L385.85 251.77L385.97 252.84L386.09 253.66L386.21 254.23L386.34 254.54L386.46 254.59L386.58 254.40L386.70 253.98L386.83 253.36L386.95 252.59L387.07 251.69L387.19 250.70L387.31 249.69L387.44 248.67L387.56 247.70L387.68 246.82L387.80 246.05L387.93 245.43L388.05 244.97L388.17 244.69L388.29 244.60L388.42 244.68L388.54 244.94L388.66 245.34L388.78 245.88L388.91 246.51L389.03 247.21L389.15 247.93L389.27 248.65L389.40 249.32L389.52 249.91L389.64 250.38L389.76 250.71L389.89 250.87L390.01 250.84L390.13 250.63L390.25 250.22L390.38 249.64L390.50 248.88L390.62 247.97L390.74 246.95L390.87 245.84L390.99 244.70L391.11 243.55L391.23 242.45L391.36 241.44L391.48 240.56L391.60 239.86L391.72 239.36L391.85 239.09L391.97 239.09L392.09 239.35L392.21 239.89L392.33 240.70L392.46 241.76L392.58 243.05L392.70 244.54L392.82 246.18L392.95 247.93L393.07 249.75L393.19 251.56L393.31 253.31L393.44 254.96L393.56 256.43L393.68 257.69L393.80 258.68L393.93 259.37L394.05 259.72L394.17 259.72L394.29 259.36L394.42 258.64L394.54 257.57L394.66 256.18L394.78 254.50L394.91 252.58L395.03 250.47L395.15 248.23L395.27 245.92L395.40 243.62L395.52 241.39L395.64 239.30L395.76 237.42L395.89 235.80L396.01 234.49L396.13 233.54L396.25 232.98L396.38 232.84L396.50 233.11L396.62 233.79L396.74 234.88L396.87 236.33L396.99 238.11L397.11 240.17L397.23 242.44L397.35 244.86L397.48 247.36L397.60 249.86L397.72 252.28L397.84 254.56L397.97 256.62L398.09 258.40L398.21 259.85L398.33 260.92L398.46 261.57L398.58 261.80L398.70 261.59L398.82 260.94L398.95 259.88L399.07 258.45L399.19 256.68L399.31 254.63L399.44 252.37L399.56 249.97L399.68 247.50L399.80 245.03L399.93 242.66L400.05 240.45L400.17 238.47L400.29 236.79L400.42 235.46L400.54 234.51L400.66 233.99L400.78 233.90L400.91 234.25L401.03 235.02L401.15 236.20L401.27 237.74L401.40 239.59L401.52 241.69L401.64 243.98L401.76 246.37L401.89 248.80L402.01 251.17L402.13 253.41L402.25 255.46L402.37 257.23L402.50 258.67L402.62 259.73L402.74 260.37L402.86 260.57L402.99 260.33L403.11 259.63L403.23 258.52L403.35 257.01L403.48 255.16L403.60 253.02L403.72 250.67L403.84 248.18L403.97 245.62L404.09 243.08L404.21 240.66L404.33 238.42L404.46 236.44L404.58 234.79L404.70 233.54L404.82 232.71L404.95 232.36L405.07 232.49L405.19 233.10L405.31 234.20L405.44 235.73L405.56 237.68L405.68 239.97L405.80 242.53L405.93 245.30L406.05 248.19L406.17 251.11L406.29 253.96L406.42 256.66L406.54 259.12L406.66 261.27L406.78 263.02L406.91 264.32L407.03 265.12L407.15 265.39L407.27 265.12L407.39 264.31L407.52 262.97L407.64 261.15L407.76 258.87L407.88 256.22L408.01 253.26L408.13 250.09L408.25 246.78L408.37 243.45L408.50 240.19L408.62 237.09L408.74 234.25L408.86 231.76L408.99 229.68L409.11 228.10L409.23 227.05L409.35 226.58L409.48 226.70L409.60 227.40L409.72 228.68L409.84 230.50L409.97 232.82L410.09 235.55L410.21 238.64L410.33 241.99L410.46 245.51L410.58 249.09L410.70 252.63L410.82 256.04L410.95 259.21L411.07 262.06L411.19 264.49L411.31 266.45L411.44 267.88L411.56 268.73L411.68 268.99L411.80 268.65L411.93 267.71L412.05 266.22L412.17 264.20L412.29 261.73L412.41 258.88L412.54 255.72L412.66 252.35L412.78 248.87L412.90 245.37L413.03 241.96L413.15 238.73L413.27 235.76L413.39 233.15L413.52 230.96L413.64 229.25L413.76 228.06L413.88 227.42L414.01 227.34L414.13 227.82L414.25 228.83L414.37 230.33L414.50 232.28L414.62 234.61L414.74 237.26L414.86 240.13L414.99 243.14L415.11 246.20L415.23 249.23L415.35 252.14L415.48 254.84L415.60 257.27L415.72 259.35L415.84 261.04L415.97 262.29L416.09 263.09L416.21 263.41L416.33 263.26L416.46 262.66L416.58 261.63L416.70 260.23L416.82 258.50L416.95 256.50L417.07 254.30L417.19 251.98L417.31 249.61L417.44 247.26L417.56 245.00L417.68 242.91L417.80 241.03L417.92 239.43L418.05 238.13L418.17 237.18L418.29 236.59L418.41 236.37L418.54 236.51L418.66 236.98L418.78 237.78L418.90 238.84L419.03 240.14L419.15 241.61L419.27 243.21L419.39 244.86L419.52 246.52L419.64 248.12L419.76 249.61L419.88 250.94L420.01 252.07L420.13 252.96L420.25 253.59L420.37 253.95L420.50 254.03L420.62 253.83L420.74 253.38L420.86 252.69L420.99 251.81L421.11 250.76L421.23 249.60L421.35 248.36L421.48 247.11L421.60 245.90L421.72 244.76L421.84 243.75L421.97 242.90L422.09 242.25L422.21 241.83L422.33 241.64L422.46 241.71L422.58 242.02L422.70 242.56L422.82 243.32L422.94 244.27L423.07 245.37L423.19 246.58L423.31 247.86L423.43 249.16L423.56 250.43L423.68 251.62L423.80 252.69L423.92 253.59L424.05 254.28L424.17 254.75L424.29 254.96L424.41 254.91L424.54 254.59L424.66 254.00L424.78 253.17L424.90 252.12L425.03 250.87L425.15 249.48L425.27 247.98L425.39 246.42L425.52 244.85L425.64 243.33L425.76 241.91L425.88 240.63L426.01 239.55L426.13 238.69L426.25 238.09L426.37 237.78L426.50 237.76L426.62 238.04L426.74 238.61L426.86 239.46L426.99 240.56L427.11 241.88L427.23 243.38L427.35 245.00L427.48 246.71L427.60 248.44L427.72 250.14L427.84 251.76L427.96 253.24L428.09 254.54L428.21 255.61L428.33 256.42L428.45 256.95L428.58 257.17L428.70 257.08L428.82 256.69L428.94 256.01L429.07 255.06L429.19 253.88L429.31 252.50L429.43 250.97L429.56 249.34L429.68 247.66L429.80 246.00L429.92 244.40L430.05 242.92L430.17 241.61L430.29 240.51L430.41 239.65L430.54 239.07L430.66 238.78L430.78 238.79L430.90 239.09L431.03 239.68L431.15 240.53L431.27 241.61L431.39 242.88L431.52 244.30L431.64 245.80L431.76 247.35L431.88 248.88L432.01 250.34L432.13 251.67L432.25 252.83L432.37 253.78L432.50 254.47L432.62 254.88L432.74 255.00L432.86 254.82L432.98 254.35L433.11 253.59L433.23 252.58L433.35 251.34L433.47 249.93L433.60 248.38L433.72 246.77L433.84 245.14L433.96 243.55L434.09 242.07L434.21 240.75L434.33 239.64L434.45 238.79L434.58 238.24L434.70 238.00L434.82 238.11L434.94 238.56L435.07 239.35L435.19 240.46L435.31 241.87L435.43 243.52L435.56 245.36L435.68 247.36L435.80 249.43L435.92 251.50L436.05 253.52L436.17 255.41L436.29 257.10L436.41 258.53L436.54 259.65L436.66 260.40L436.78 260.76L436.90 260.70L437.03 260.21L437.15 259.30L437.27 257.97L437.39 256.27L437.52 254.23L437.64 251.91L437.76 249.37L437.88 246.69L438.00 243.95L438.13 241.22L438.25 238.60L438.37 236.17L438.49 234.01L438.62 232.18L438.74 230.75L438.86 229.77L438.98 229.29L439.11 229.32L439.23 229.88L439.35 230.96L439.47 232.53L439.60 234.57L439.72 237.02L439.84 239.81L439.96 242.87L440.09 246.12L440.21 249.45L440.33 252.79L440.45 256.02L440.58 259.06L440.70 261.81L440.82 264.19L440.94 266.12L441.07 267.56L441.19 268.44L441.31 268.74L441.43 268.44L441.56 267.55L441.68 266.09L441.80 264.09L441.92 261.61L442.05 258.71L442.17 255.48L442.29 252.00L442.41 248.37L442.54 244.69L442.66 241.08L442.78 237.62L442.90 234.42L443.02 231.58L443.15 229.17L443.27 227.26L443.39 225.90L443.51 225.14L443.64 225.00L443.76 225.48L443.88 226.56L444.00 228.22L444.13 230.40L444.25 233.04L444.37 236.07L444.49 239.39L444.62 242.92L444.74 246.54L444.86 250.17L444.98 253.68L445.11 256.99L445.23 260.00L445.35 262.62L445.47 264.79L445.60 266.44L445.72 267.54L445.84 268.05L445.96 267.97L446.09 267.31L446.21 266.09L446.33 264.36L446.45 262.16L446.58 259.58L446.70 256.68L446.82 253.57L446.94 250.32L447.07 247.05L447.19 243.85L447.31 240.80L447.43 238.01L447.56 235.54L447.68 233.46L447.80 231.84L447.92 230.70L448.05 230.09L448.17 230.00L448.29 230.43L448.41 231.36L448.53 232.74L448.66 234.54L448.78 236.69L448.90 239.10L449.02 241.72L449.15 244.44L449.27 247.19L449.39 249.87L449.51 252.41L449.64 254.73L449.76 256.76L449.88 258.44L450.00 259.72L450.13 260.57L450.25 260.97L450.37 260.92L450.49 260.43L450.62 259.52L450.74 258.22L450.86 256.59L450.98 254.69L451.11 252.58L451.23 250.34L451.35 248.04L451.47 245.76L451.60 243.57L451.72 241.55L451.84 239.77L451.96 238.27L452.09 237.10L452.21 236.31L452.33 235.91L452.45 235.91L452.58 236.32L452.70 237.10L452.82 238.23L452.94 239.68L453.07 241.38L453.19 243.29L453.31 245.33L453.43 247.43L453.55 249.53L453.68 251.55L453.80 253.43L453.92 255.10L454.04 256.50L454.17 257.60L454.29 258.35L454.41 258.72L454.53 258.72L454.66 258.33L454.78 257.57L454.90 256.47L455.02 255.05L455.15 253.38L455.27 251.49L455.39 249.45L455.51 247.34L455.64 245.21L455.76 243.13L455.88 241.18L456.00 239.41L456.13 237.88L456.25 236.64L456.37 235.73L456.49 235.18L456.62 235.01L456.74 235.22L456.86 235.80L456.98 236.73L457.11 238.00L457.23 239.55L457.35 241.33L457.47 243.30L457.60 245.39L457.72 247.53L457.84 249.66L457.96 251.72L458.09 253.64L458.21 255.36L458.33 256.83L458.45 258.02L458.57 258.88L458.70 259.39L458.82 259.54L458.94 259.34L459.06 258.78L459.19 257.89L459.31 256.71L459.43 255.27L459.55 253.62L459.68 251.82L459.80 249.91L459.92 247.97L460.04 246.04L460.17 244.20L460.29 242.49L460.41 240.96L460.53 239.66L460.66 238.62L460.78 237.86L460.90 237.41L461.02 237.27L461.15 237.43L461.27 237.88L461.39 238.60L461.51 239.55L461.64 240.71L461.76 242.02L461.88 243.44L462.00 244.91L462.13 246.40L462.25 247.84L462.37 249.19L462.49 250.41L462.62 251.46L462.74 252.32L462.86 252.96L462.98 253.36L463.11 253.53L463.23 253.47L463.35 253.19L463.47 252.71L463.59 252.05L463.72 251.26L463.84 250.37L463.96 249.41L464.08 248.43L464.21 247.48L464.33 246.59L464.45 245.80L464.57 245.14L464.70 244.64L464.82 244.31L464.94 244.18L465.06 244.23L465.19 244.48L465.31 244.90L465.43 245.48L465.55 246.19L465.68 247.00L465.80 247.87L465.92 248.76L466.04 249.63L466.17 250.45L466.29 251.15L466.41 251.72L466.53 252.12L466.66 252.33L466.78 252.31L466.90 252.07L467.02 251.60L467.15 250.90L467.27 250.00L467.39 248.91L467.51 247.67L467.64 246.32L467.76 244.90L467.88 243.46L468.00 242.05L468.13 240.73L468.25 239.54L468.37 238.54L468.49 237.77L468.61 237.26L468.74 237.05L468.86 237.16L468.98 237.61L469.10 238.38L469.23 239.47L469.35 240.86L469.47 242.52L469.59 244.40L469.72 246.46L469.84 248.63L469.96 250.86L470.08 253.07L470.21 255.20L470.33 257.17L470.45 258.94L470.57 260.42L470.70 261.57L470.82 262.35L470.94 262.72L471.06 262.66L471.19 262.15L471.31 261.21L471.43 259.84L471.55 258.09L471.68 255.98L471.80 253.57L471.92 250.94L472.04 248.15L472.17 245.27L472.29 242.40L472.41 239.61L472.53 236.98L472.66 234.61L472.78 232.55L472.90 230.88L473.02 229.64L473.15 228.88L473.27 228.63L473.39 228.90L473.51 229.69L473.64 230.98L473.76 232.74L473.88 234.93L474.00 237.48L474.12 240.33L474.25 243.39L474.37 246.58L474.49 249.81L474.61 252.98L474.74 256.01L474.86 258.80L474.98 261.28L475.10 263.37L475.23 265.01L475.35 266.15L475.47 266.76L475.59 266.82L475.72 266.32L475.84 265.29L475.96 263.75L476.08 261.74L476.21 259.34L476.33 256.59L476.45 253.60L476.57 250.44L476.70 247.21L476.82 244.00L476.94 240.91L477.06 238.03L477.19 235.44L477.31 233.22L477.43 231.43L477.55 230.12L477.68 229.33L477.80 229.08L477.92 229.37L478.04 230.19L478.17 231.51L478.29 233.29L478.41 235.48L478.53 237.99L478.66 240.76L478.78 243.69L478.90 246.70L479.02 249.69L479.14 252.57L479.27 255.26L479.39 257.67L479.51 259.73L479.63 261.37L479.76 262.56L479.88 263.26L480.00 263.44L480.12 263.12L480.25 262.29L480.37 261.00L480.49 259.29L480.61 257.21L480.74 254.83L480.86 252.24L480.98 249.51L481.10 246.73L481.23 243.99L481.35 241.39L481.47 239.00L481.59 236.90L481.72 235.15L481.84 233.82L481.96 232.94L482.08 232.54L482.21 232.63L482.33 233.21L482.45 234.26L482.57 235.74L482.70 237.60L482.82 239.79L482.94 242.24L483.06 244.85L483.19 247.56L483.31 250.27L483.43 252.89L483.55 255.34L483.68 257.54L483.80 259.41L483.92 260.90L484.04 261.96L484.16 262.55L484.29 262.64L484.41 262.24L484.53 261.36L484.65 260.01L484.78 258.25L484.90 256.12L485.02 253.69L485.14 251.03L485.27 248.23L485.39 245.38L485.51 242.55L485.63 239.85L485.76 237.36L485.88 235.15L486.00 233.29L486.12 231.85L486.25 230.88L486.37 230.39L486.49 230.42L486.61 230.96L486.74 232.00L486.86 233.51L486.98 235.44L487.10 237.75L487.23 240.36L487.35 243.19L487.47 246.16L487.59 249.19L487.72 252.17L487.84 255.03L487.96 257.68L488.08 260.03L488.21 262.03L488.33 263.60L488.45 264.71L488.57 265.32L488.70 265.41L488.82 264.98L488.94 264.05L489.06 262.65L489.18 260.81L489.31 258.59L489.43 256.06L489.55 253.29L489.67 250.36L489.80 247.36L489.92 244.38L490.04 241.49L490.16 238.80L490.29 236.36L490.41 234.25L490.53 232.52L490.65 231.23L490.78 230.39L490.90 230.04L491.02 230.18L491.14 230.79L491.27 231.85L491.39 233.32L491.51 235.17L491.63 237.31L491.76 239.70L491.88 242.26L492.00 244.90L492.12 247.56L492.25 250.15L492.37 252.61L492.49 254.86L492.61 256.85L492.74 258.52L492.86 259.84L492.98 260.77L493.10 261.29L493.23 261.41L493.35 261.13L493.47 260.48L493.59 259.47L493.72 258.16L493.84 256.59L493.96 254.82L494.08 252.91L494.20 250.91L494.33 248.90L494.45 246.93L494.57 245.07L494.69 243.36L494.82 241.85L494.94 240.59L495.06 239.59L495.18 238.88L495.31 238.47L495.43 238.35L495.55 238.51L495.67 238.95L495.80 239.61L495.92 240.48L496.04 241.51L496.16 242.66L496.29 243.87L496.41 245.11L496.53 246.32L496.65 247.46L496.78 248.50L496.90 249.39L497.02 250.12L497.14 250.65L497.27 250.99L497.39 251.13L497.51 251.07L497.63 250.82L497.76 250.42L497.88 249.87L498.00 249.22L498.12 248.51L498.25 247.75L498.37 247.01L498.49 246.31L498.61 245.69L498.74 245.18L498.86 244.82L498.98 244.61L499.10 244.58L499.22 244.73L499.35 245.06L499.47 245.56L499.59 246.21L499.71 247.00L499.84 247.89L499.96 248.84L500.08 249.83L500.20 250.80L500.33 251.71L500.45 252.53L500.57 253.22L500.69 253.74L500.82 254.05L500.94 254.15L501.06 254.00L501.18 253.61L501.31 252.98L501.43 252.11L501.55 251.03L501.67 249.76L501.80 248.33L501.92 246.79L502.04 245.19L502.16 243.58L502.29 242.00L502.41 240.52L502.53 239.18L502.65 238.03L502.78 237.12L502.90 236.49L503.02 236.15L503.14 236.14L503.27 236.46L503.39 237.12L503.51 238.10L503.63 239.38L503.76 240.93L503.88 242.71L504.00 244.67L504.12 246.75L504.25 248.89L504.37 251.04L504.49 253.12L504.61 255.08L504.73 256.84L504.86 258.35L504.98 259.57L505.10 260.45L505.22 260.96L505.35 261.09L505.47 260.81L505.59 260.14L505.71 259.09L505.84 257.69L505.96 255.98L506.08 254.00L506.20 251.81L506.33 249.48L506.45 247.08L506.57 244.68L506.69 242.35L506.82 240.16L506.94 238.17L507.06 236.46L507.18 235.07L507.31 234.04L507.43 233.41L507.55 233.20L507.67 233.42L507.80 234.05L507.92 235.08L508.04 236.48L508.16 238.21L508.29 240.20L508.41 242.41L508.53 244.75L508.65 247.17L508.78 249.57L508.90 251.89L509.02 254.06L509.14 255.99L509.27 257.65L509.39 258.96L509.51 259.90L509.63 260.43L509.75 260.54L509.88 260.21L510.00 259.48L510.12 258.35L510.24 256.86L510.37 255.07L510.49 253.03L510.61 250.81L510.73 248.49L510.86 246.13L510.98 243.81L511.10 241.62L511.22 239.62L511.35 237.88L511.47 236.46L511.59 235.41L511.71 234.76L511.84 234.54L511.96 234.76L512.08 235.40L512.20 236.46L512.33 237.90L512.45 239.67L512.57 241.72L512.69 243.99L512.82 246.39L512.94 248.85L513.06 251.29L513.18 253.63L513.31 255.78L513.43 257.68L513.55 259.26L513.67 260.47L513.80 261.25L513.92 261.58L514.04 261.44L514.16 260.83L514.29 259.76L514.41 258.27L514.53 256.38L514.65 254.16L514.77 251.67L514.90 249.00L515.02 246.21L515.14 243.41L515.26 240.67L515.39 238.09L515.51 235.75L515.63 233.73L515.75 232.09L515.88 230.90L516.00 230.19L516.12 230.00L516.24 230.34L516.37 231.21L516.49 232.59L516.61 234.44L516.73 236.72L516.86 239.35L516.98 242.28L517.10 245.40L517.22 248.64L517.35 251.89L517.47 255.05L517.59 258.04L517.71 260.75L517.84 263.11L517.96 265.05L518.08 266.49L518.20 267.39L518.33 267.73L518.45 267.48L518.57 266.64L518.69 265.24L518.82 263.32L518.94 260.91L519.06 258.10L519.18 254.96L519.31 251.57L519.43 248.04L519.55 244.47L519.67 240.95L519.79 237.59L519.92 234.50L520.04 231.74L520.16 229.42L520.28 227.59L520.41 226.30L520.53 225.60L520.65 225.51L520.77 226.02L520.90 227.13L521.02 228.79L521.14 230.97L521.26 233.60L521.39 236.61L521.51 239.90L521.63 243.39L521.75 246.97L521.88 250.54L522.00 254.00L522.12 257.26L522.24 260.22L522.37 262.80L522.49 264.94L522.61 266.56L522.73 267.64L522.86 268.15L522.98 268.08L523.10 267.43L523.22 266.24L523.35 264.54L523.47 262.38L523.59 259.85L523.71 257.00L523.84 253.93L523.96 250.73L524.08 247.49L524.20 244.31L524.33 241.27L524.45 238.46L524.57 235.96L524.69 233.83L524.81 232.12L524.94 230.88L525.06 230.14L525.18 229.90L525.30 230.16L525.43 230.90L525.55 232.09L525.67 233.68L525.79 235.61L525.92 237.83L526.04 240.25L526.16 242.80L526.28 245.40L526.41 247.97L526.53 250.43L526.65 252.72L526.77 254.77L526.90 256.51L527.02 257.92L527.14 258.96L527.26 259.60L527.39 259.84L527.51 259.68L527.63 259.15L527.75 258.28L527.88 257.09L528.00 255.65L528.12 254.00L528.24 252.22L528.37 250.36L528.49 248.48L528.61 246.65L528.73 244.93L528.86 243.38L528.98 242.04L529.10 240.95L529.22 240.14L529.35 239.63L529.47 239.42L529.59 239.52L529.71 239.91L529.83 240.56L529.96 241.45L530.08 242.53L530.20 243.76L530.32 245.09L530.45 246.46L530.57 247.83L530.69 249.13L530.81 250.33L530.94 251.37L531.06 252.21L531.18 252.84L531.30 253.22L531.43 253.34L531.55 253.20L531.67 252.81L531.79 252.18L531.92 251.34L532.04 250.32L532.16 249.16L532.28 247.90L532.41 246.60L532.53 245.30L532.65 244.05L532.77 242.90L532.90 241.89L533.02 241.07L533.14 240.47L533.26 240.11L533.39 240.01L533.51 240.18L533.63 240.61L533.75 241.30L533.88 242.22L534.00 243.35L534.12 244.65L534.24 246.07L534.37 247.57L534.49 249.10L534.61 250.61L534.73 252.04L534.86 253.35L534.98 254.48L535.10 255.41L535.22 256.09L535.34 256.50L535.47 256.63L535.59 256.46L535.71 255.99L535.83 255.25L535.96 254.25L536.08 253.03L536.20 251.61L536.32 250.05L536.45 248.39L536.57 246.69L536.69 245.00L536.81 243.37L536.94 241.87L537.06 240.53L537.18 239.39L537.30 238.51L537.43 237.90L537.55 237.58L537.67 237.56L537.79 237.85L537.92 238.44L538.04 239.29L538.16 240.39L538.28 241.70L538.41 243.18L538.53 244.77L538.65 246.42L538.77 248.08L538.90 249.70L539.02 251.22L539.14 252.59L539.26 253.76L539.39 254.71L539.51 255.40L539.63 255.81L539.75 255.93L539.88 255.75L540.00 255.30L540.12 254.57L540.24 253.61L540.36 252.45L540.49 251.13L540.61 249.69L540.73 248.20L540.85 246.70L540.98 245.24L541.10 243.89L541.22 242.68L541.34 241.67L541.47 240.88L541.59 240.35L541.71 240.10L541.83 240.13L541.96 240.45L542.08 241.04L542.20 241.88L542.32 242.94L542.45 244.19L542.57 245.57L542.69 247.05L542.81 248.55L542.94 250.03L543.06 251.44L543.18 252.70L543.30 253.79L543.43 254.64L543.55 255.23L543.67 255.53L543.79 255.52L543.92 255.18L544.04 254.53L544.16 253.59L544.28 252.37L544.41 250.91L544.53 249.26L544.65 247.47L544.77 245.60L544.90 243.72L545.02 241.89L545.14 240.17L545.26 238.63L545.38 237.32L545.51 236.30L545.63 235.62L545.75 235.30L545.87 235.37L546.00 235.83L546.12 236.69L546.24 237.94L546.36 239.53L546.49 241.43L546.61 243.59L546.73 245.95L546.85 248.44L546.98 250.98L547.10 253.49L547.22 255.90L547.34 258.12L547.47 260.09L547.59 261.73L547.71 262.99L547.83 263.82L547.96 264.18L548.08 264.05L548.20 263.42L548.32 262.30L548.45 260.71L548.57 258.69L548.69 256.29L548.81 253.57L548.94 250.62L549.06 247.50L549.18 244.31L549.30 241.14L549.43 238.09L549.55 235.24L549.67 232.69L549.79 230.50L549.92 228.76L550.04 227.52L550.16 226.82L550.28 226.68L550.40 227.13L550.53 228.15L550.65 229.72L550.77 231.80L550.89 234.34L551.02 237.27L551.14 240.51L551.26 243.97L551.38 247.55L551.51 251.15L551.63 254.68L551.75 258.02L551.87 261.08L552.00 263.77L552.12 266.03L552.24 267.77L552.36 268.94L552.49 269.53L552.61 269.49L552.73 268.85L552.85 267.60L552.98 265.79L553.10 263.47L553.22 260.71L553.34 257.58L553.47 254.17L553.59 250.59L553.71 246.92L553.83 243.29L553.96 239.78L554.08 236.51L554.20 233.56L554.32 231.01L554.45 228.94L554.57 227.40L554.69 226.43L554.81 226.06L554.94 226.29L555.06 227.11L555.18 228.50L555.30 230.39L555.42 232.75L555.55 235.49L555.67 238.53L555.79 241.78L555.91 245.14L556.04 248.51L556.16 251.80L556.28 254.91L556.40 257.74L556.53 260.23L556.65 262.30L556.77 263.90L556.89 264.99L557.02 265.53L557.14 265.54L557.26 265.00L557.38 263.95L557.51 262.43L557.63 260.49L557.75 258.20L557.87 255.63L558.00 252.86L558.12 249.99L558.24 247.10L558.36 244.29L558.49 241.63L558.61 239.21L558.73 237.09L558.85 235.35L558.98 234.02L559.10 233.14L559.22 232.73L559.34 232.80L559.47 233.33L559.59 234.30L559.71 235.67L559.83 237.39L559.96 239.39L560.08 241.62L560.20 243.98L560.32 246.41L560.44 248.82L560.57 251.14L560.69 253.28L560.81 255.19L560.93 256.79L561.06 258.05L561.18 258.92L561.30 259.39L561.42 259.43L561.55 259.05L561.67 258.28L561.79 257.13L561.91 255.66L562.04 253.91L562.16 251.94L562.28 249.83L562.40 247.64L562.53 245.46L562.65 243.34L562.77 241.36L562.89 239.60L563.02 238.10L563.14 236.91L563.26 236.09L563.38 235.64L563.51 235.59L563.63 235.94L563.75 236.67L563.87 237.76L564.00 239.18L564.12 240.88L564.24 242.80L564.36 244.88L564.49 247.06L564.61 249.26L564.73 251.40L564.85 253.43L564.98 255.28L565.10 256.88L565.22 258.19L565.34 259.16L565.47 259.76L565.59 259.97L565.71 259.79L565.83 259.22L565.95 258.28L566.08 257.00L566.20 255.41L566.32 253.58L566.44 251.55L566.57 249.38L566.69 247.16L566.81 244.94L566.93 242.79L567.06 240.78L567.18 238.97L567.30 237.41L567.42 236.15L567.55 235.23L567.67 234.67L567.79 234.49L567.91 234.68L568.04 235.25L568.16 236.16L568.28 237.39L568.40 238.90L568.53 240.64L568.65 242.55L568.77 244.58L568.89 246.65L569.02 248.71L569.14 250.70L569.26 252.56L569.38 254.23L569.51 255.66L569.63 256.82L569.75 257.68L569.87 258.22L570.00 258.43L570.12 258.31L570.24 257.87L570.36 257.14L570.49 256.14L570.61 254.91L570.73 253.50L570.85 251.96L570.97 250.33L571.10 248.68L571.22 247.06L571.34 245.51L571.46 244.09L571.59 242.83L571.71 241.77L571.83 240.94L571.95 240.36L572.08 240.03L572.20 239.95L572.32 240.13L572.44 240.53L572.57 241.14L572.69 241.92L572.81 242.84L572.93 243.86L573.06 244.93L573.18 246.01L573.30 247.06L573.42 248.04L573.55 248.91L573.67 249.64L573.79 250.20L573.91 250.59L574.04 250.78L574.16 250.78L574.28 250.59L574.40 250.22L574.53 249.70L574.65 249.06L574.77 248.32L574.89 247.53L575.02 246.72L575.14 245.93L575.26 245.20L575.38 244.58L575.51 244.08L575.63 243.75L575.75 243.59L575.87 243.64L575.99 243.89L576.12 244.34L576.24 244.99L576.36 245.82L576.48 246.79L576.61 247.88L576.73 249.06L576.85 250.26L576.97 251.46L577.10 252.60L577.22 253.64L577.34 254.52L577.46 255.21L577.59 255.68L577.71 255.88L577.83 255.81L577.95 255.44L578.08 254.78L578.20 253.84L578.32 252.62L578.44 251.16L578.57 249.50L578.69 247.68L578.81 245.75L578.93 243.77L579.06 241.81L579.18 239.92L579.30 238.17L579.42 236.61L579.55 235.31L579.67 234.32L579.79 233.67L579.91 233.39L580.04 233.52L580.16 234.05L580.28 234.98L580.40 236.31L580.53 237.99L580.65 240.00L580.77 242.27L580.89 244.75L581.01 247.37L581.14 250.06L581.26 252.73L581.38 255.32L581.50 257.73L581.63 259.91L581.75 261.77L581.87 263.26L581.99 264.34L582.12 264.95L582.24 265.08L582.36 264.71L582.48 263.84L582.61 262.50L582.73 260.72L582.85 258.54L582.97 256.02L583.10 253.23L583.22 250.24L583.34 247.15L583.46 244.03L583.59 240.99L583.71 238.10L583.83 235.45L583.95 233.12L584.08 231.17L584.20 229.68L584.32 228.68L584.44 228.20L584.57 228.25L584.69 228.85L584.81 229.97L584.93 231.59L585.06 233.65L585.18 236.10L585.30 238.86L585.42 241.86L585.55 245.01L585.67 248.21L585.79 251.37L585.91 254.41L586.03 257.23L586.16 259.74L586.28 261.89L586.40 263.59L586.52 264.81L586.65 265.51L586.77 265.68L586.89 265.30L587.01 264.40L587.14 263.01L587.26 261.16L587.38 258.92L587.50 256.36L587.63 253.55L587.75 250.58L587.87 247.55L587.99 244.55L588.12 241.66L588.24 238.98L588.36 236.58L588.48 234.55L588.61 232.92L588.73 231.77L588.85 231.10L588.97 230.96L589.10 231.32L589.22 232.19L589.34 233.52L589.46 235.27L589.59 237.39L589.71 239.80L589.83 242.43L589.95 245.19L590.08 248.00L590.20 250.75L590.32 253.38L590.44 255.78L590.57 257.89L590.69 259.64L590.81 260.97L590.93 261.85L591.05 262.25L591.18 262.15L591.30 261.56L591.42 260.50L591.54 259.01L591.67 257.13L591.79 254.93L591.91 252.48L592.03 249.85L592.16 247.14L592.28 244.43L592.40 241.81L592.52 239.36L592.65 237.16L592.77 235.30L592.89 233.81L593.01 232.77L593.14 232.20L593.26 232.12L593.38 232.53L593.50 233.44L593.63 234.80L593.75 236.58L593.87 238.72L593.99 241.17L594.12 243.83L594.24 246.63L594.36 249.49L594.48 252.30L594.61 254.99L594.73 257.46L594.85 259.64L594.97 261.46L595.10 262.86L595.22 263.79L595.34 264.22L595.46 264.14L595.59 263.54L595.71 262.44L595.83 260.87L595.95 258.87L596.08 256.51L596.20 253.85L596.32 250.97L596.44 247.96L596.56 244.91L596.69 241.90L596.81 239.04L596.93 236.40L597.05 234.07L597.18 232.11L597.30 230.59L597.42 229.55L597.54 229.02L597.67 229.01L597.79 229.54L597.91 230.58L598.03 232.10L598.16 234.07L598.28 236.41L598.40 239.06L598.52 241.95L598.65 244.99L598.77 248.09L598.89 251.16L599.01 254.11L599.14 256.86L599.26 259.33L599.38 261.45L599.50 263.16L599.63 264.42L599.75 265.19L599.87 265.46L599.99 265.21L600.12 264.47L600.24 263.27L600.36 261.63L600.48 259.61L600.61 257.28L600.73 254.71L600.85 251.97L600.97 249.14L601.10 246.31L601.22 243.55L601.34 240.95L601.46 238.57L601.58 236.49L601.71 234.75L601.83 233.39L601.95 232.46L602.07 231.96L602.20 231.90L602.32 232.27L602.44 233.05L602.56 234.20L602.69 235.69L602.81 237.46L602.93 239.45L603.05 241.59L603.18 243.82L603.30 246.07L603.42 248.28L603.54 250.37L603.67 252.29L603.79 253.99L603.91 255.43L604.03 256.57L604.16 257.39L604.28 257.87L604.40 258.02L604.52 257.85L604.65 257.38L604.77 256.62L604.89 255.63L605.01 254.45L605.14 253.12L605.26 251.69L605.38 250.22L605.50 248.75L605.63 247.35L605.75 246.05L605.87 244.89L605.99 243.90L606.12 243.12L606.24 242.56L606.36 242.22L606.48 242.12L606.60 242.23L606.73 242.54L606.85 243.02L606.97 243.66L607.09 244.40L607.22 245.22L607.34 246.07L607.46 246.91L607.58 247.70L607.71 248.41L607.83 249.01L607.95 249.46L608.07 249.75L608.20 249.86L608.32 249.80L608.44 249.55L608.56 249.14L608.69 248.58L608.81 247.89L608.93 247.10L609.05 246.26L609.18 245.40L609.30 244.55L609.42 243.76L609.54 243.06L609.67 242.50L609.79 242.10L609.91 241.88L610.03 241.88L610.16 242.10L610.28 242.54L610.40 243.19L610.52 244.06L610.65 245.10L610.77 246.30L610.89 247.62L611.01 249.01L611.14 250.43L611.26 251.83L611.38 253.17L611.50 254.38L611.62 255.44L611.75 256.29L611.87 256.90L611.99 257.23L612.11 257.28L612.24 257.02L612.36 256.45L612.48 255.59L612.60 254.44L612.73 253.04L612.85 251.42L612.97 249.63L613.09 247.72L613.22 245.74L613.34 243.75L613.46 241.82L613.58 240.01L613.71 238.37L613.83 236.95L613.95 235.82L614.07 234.99L614.20 234.51L614.32 234.40L614.44 234.67L614.56 235.31L614.69 236.31L614.81 237.64L614.93 239.27L615.05 241.15L615.18 243.24L615.30 245.46L615.42 247.75L615.54 250.05L615.67 252.28L615.79 254.38L615.91 256.28L616.03 257.92L616.16 259.26L616.28 260.24L616.40 260.85L616.52 261.05L616.64 260.84L616.77 260.23L616.89 259.23L617.01 257.87L617.13 256.20L617.26 254.27L617.38 252.13L617.50 249.85L617.62 247.50L617.75 245.16L617.87 242.90L617.99 240.78L618.11 238.88L618.24 237.26L618.36 235.96L618.48 235.03L618.60 234.49L618.73 234.37L618.85 234.66L618.97 235.35L619.09 236.43L619.22 237.86L619.34 239.58L619.46 241.55L619.58 243.70L619.71 245.97L619.83 248.26L619.95 250.52L620.07 252.66L620.20 254.62L620.32 256.33L620.44 257.73L620.56 258.78L620.69 259.44L620.81 259.69L620.93 259.51L621.05 258.92L621.18 257.93L621.30 256.56L621.42 254.88L621.54 252.92L621.66 250.75L621.79 248.45L621.91 246.08L622.03 243.74L622.15 241.49L622.28 239.41L622.40 237.58L622.52 236.06L622.64 234.90L622.77 234.14L622.89 233.82L623.01 233.96L623.13 234.54L623.26 235.57L623.38 237.01L623.50 238.83L623.62 240.96L623.75 243.35L623.87 245.92L623.99 248.59L624.11 251.27L624.24 253.88L624.36 256.34L624.48 258.56L624.60 260.47L624.73 261.99L624.85 263.09L624.97 263.71L625.09 263.83L625.22 263.44L625.34 262.53L625.46 261.14L625.58 259.29L625.71 257.03L625.83 254.43L625.95 251.57L626.07 248.52L626.20 245.37L626.32 242.23L626.44 239.18L626.56 236.33L626.69 233.75L626.81 231.53L626.93 229.74L627.05 228.44L627.17 227.67L627.30 227.47L627.42 227.85L627.54 228.80L627.66 230.29L627.79 232.30L627.91 234.77L628.03 237.63L628.15 240.80L628.28 244.19L628.40 247.70L628.52 251.24L628.64 254.70L628.77 257.97L628.89 260.97L629.01 263.61L629.13 265.81L629.26 267.49L629.38 268.62L629.50 269.16L629.62 269.09L629.75 268.41L629.87 267.14L629.99 265.31L630.11 262.98L630.24 260.21L630.36 257.08L630.48 253.68L630.60 250.11L630.73 246.47L630.85 242.85L630.97 239.37L631.09 236.13L631.22 233.20L631.34 230.68L631.46 228.64L631.58 227.12L631.71 226.17L631.83 225.81L631.95 226.05L632.07 226.88L632.19 228.26L632.32 230.16L632.44 232.51L632.56 235.24L632.68 238.28L632.81 241.53L632.93 244.89L633.05 248.27L633.17 251.58L633.30 254.72L633.42 257.60L633.54 260.15L633.66 262.29L633.79 263.98L633.91 265.17L634.03 265.83L634.15 265.96L634.28 265.57L634.40 264.67L634.52 263.30L634.64 261.52L634.77 259.37L634.89 256.94L635.01 254.30L635.13 251.53L635.26 248.71L635.38 245.94L635.50 243.29L635.62 240.84L635.75 238.65L635.87 236.79L635.99 235.29L636.11 234.20L636.24 233.54L636.36 233.32L636.48 233.52L636.60 234.13L636.73 235.12L636.85 236.44L636.97 238.05L637.09 239.88L637.21 241.87L637.34 243.95L637.46 246.05L637.58 248.10L637.70 250.04L637.83 251.80L637.95 253.34L638.07 254.61L638.19 255.58L638.32 256.23L638.44 256.54L638.56 256.51L638.68 256.17L638.81 255.52L638.93 254.60L639.05 253.46L639.17 252.14L639.30 250.70L639.42 249.18L639.54 247.65L639.66 246.17L639.79 244.78L639.91 243.54L640.03 242.49L640.15 241.67L640.28 241.10L640.40 240.80L640.52 240.77L640.64 241.02L640.77 241.54L640.89 242.28L641.01 243.24L641.13 244.37L641.26 245.62L641.38 246.95L641.50 248.30L641.62 249.62L641.75 250.87L641.87 252.00L641.99 252.95L642.11 253.70L642.23 254.22L642.36 254.48L642.48 254.47L642.60 254.19L642.72 253.64L642.85 252.85L642.97 251.84L643.09 250.63L643.21 249.28L643.34 247.83L643.46 246.33L643.58 244.83L643.70 243.37L643.83 242.03L643.95 240.83L644.07 239.82L644.19 239.05L644.32 238.54L644.44 238.30L644.56 238.35L644.68 238.70L644.81 239.33L644.93 240.23L645.05 241.36L645.17 242.70L645.30 244.20L645.42 245.81L645.54 247.48L645.66 249.17L645.79 250.80L645.91 252.34L646.03 253.73L646.15 254.93L646.28 255.89L646.40 256.59L646.52 257.00L646.64 257.12L646.77 256.93L646.89 256.44L647.01 255.68L647.13 254.66L647.25 253.41L647.38 251.99L647.50 250.44L647.62 248.80L647.74 247.14L647.87 245.49L647.99 243.93L648.11 242.50L648.23 241.24L648.36 240.19L648.48 239.40L648.60 238.87L648.72 238.63L648.85 238.67L648.97 239.01L649.09 239.61L649.21 240.46L649.34 241.53L649.46 242.77L649.58 244.14L649.70 245.60L649.83 247.08L649.95 248.54L650.07 249.93L650.19 251.19L650.32 252.29L650.44 253.18L650.56 253.83L650.68 254.23L650.81 254.35L650.93 254.20L651.05 253.78L651.17 253.11L651.30 252.21L651.42 251.12L651.54 249.89L651.66 248.54L651.79 247.15L651.91 245.75L652.03 244.41L652.15 243.18L652.27 242.09L652.40 241.21L652.52 240.57L652.64 240.18L652.76 240.08L652.89 240.28L653.01 240.77L653.13 241.54L653.25 242.57L653.38 243.82L653.50 245.27L653.62 246.85L653.74 248.52L653.87 250.22L653.99 251.88L654.11 253.44L654.23 254.85L654.36 256.05L654.48 256.99L654.60 257.63L654.72 257.94L654.85 257.89L654.97 257.47L655.09 256.70L655.21 255.57L655.34 254.11L655.46 252.37L655.58 250.39L655.70 248.23L655.83 245.96L655.95 243.63L656.07 241.34L656.19 239.14L656.32 237.12L656.44 235.35L656.56 233.88L656.68 232.77L656.81 232.07L656.93 231.82L657.05 232.02L657.17 232.69L657.29 233.83L657.42 235.39L657.54 237.36L657.66 239.68L657.78 242.29L657.91 245.11L658.03 248.07L658.15 251.09L658.27 254.07L658.40 256.92L658.52 259.56L658.64 261.91L658.76 263.89L658.89 265.44L659.01 266.50L659.13 267.03L659.25 267.02L659.38 266.44L659.50 265.32L659.62 263.67L659.74 261.53L659.87 258.96L659.99 256.04L660.11 252.83L660.23 249.42L660.36 245.92L660.48 242.42L660.60 239.03L660.72 235.83L660.85 232.93L660.97 230.40L661.09 228.32L661.21 226.77L661.34 225.77L661.46 225.37L661.58 225.57L661.70 226.38L661.83 227.78L661.95 229.72L662.07 232.15L662.19 235.01L662.32 238.22L662.44 241.67L662.56 245.29L662.68 248.95L662.80 252.57L662.93 256.03L663.05 259.24L663.17 262.11L663.29 264.55L663.42 266.50L663.54 267.90L663.66 268.73L663.78 268.94L663.91 268.55L664.03 267.57L664.15 266.03L664.27 263.97L664.40 261.47L664.52 258.59L664.64 255.43L664.76 252.07L664.89 248.61L665.01 245.16L665.13 241.82L665.25 238.68L665.38 235.83L665.50 233.35L665.62 231.31L665.74 229.76L665.87 228.75L665.99 228.29L666.11 228.40L666.23 229.05L666.36 230.23L666.48 231.89L666.60 233.97L666.72 236.41L666.85 239.13L666.97 242.04L667.09 245.04L667.21 248.06L667.34 250.99L667.46 253.75L667.58 256.26L667.70 258.44L667.82 260.23L667.95 261.58L668.07 262.47L668.19 262.86L668.31 262.76L668.44 262.17L668.56 261.13L668.68 259.68L668.80 257.86L668.93 255.74L669.05 253.40L669.17 250.91L669.29 248.35L669.42 245.81L669.54 243.37L669.66 241.11L669.78 239.10L669.91 237.40L670.03 236.06L670.15 235.12L670.27 234.61L670.40 234.53L670.52 234.89L670.64 235.67L670.76 236.84L670.89 238.35L671.01 240.15L671.13 242.18L671.25 244.37L671.38 246.65L671.50 248.93L671.62 251.14L671.74 253.22L671.87 255.08L671.99 256.67L672.11 257.93L672.23 258.84L672.30 259.35L672.30 259.45L672.30 259.13" fill="none" stroke="#ff0000" stroke-width="1.2" stroke-linejoin="round"/>
<path class="ax" d="M264.2 270.0v-6.4M264.2 173.1v6.4M468.2 270.0v-6.4M468.2 173.1v6.4M60.1 205.3h6.4M672.3 205.3h-6.4M60.1 237.4h6.4M672.3 237.4h-6.4M60.1 269.6h6.4M672.3 269.6h-6.4"/>
<text class="tk" style="font-size:17.6px" x="59.9" y="290.7" text-anchor="middle">0</text>
<text class="tk" style="font-size:17.6px" x="264.0" y="290.7" text-anchor="middle">50</text>
<text class="tk" style="font-size:17.6px" x="468.0" y="290.7" text-anchor="middle">100</text>
<text class="tk" style="font-size:17.6px" x="672.4" y="290.7" text-anchor="middle">150</text>
<text class="tk" x="55.8" y="212.3" text-anchor="end">-5</text>
<text class="tk" x="55.8" y="244.4" text-anchor="end">-10</text>
<text class="tk" x="55.8" y="276.6" text-anchor="end">-15</text>
<text class="lb" x="366.5" y="313.1" text-anchor="middle">Time (sec)</text>
<g transform="translate(26.8 0) rotate(-90)"><text transform="translate(-248.6 0) scale(1.13 1)" font-weight="normal" font-size="20.5" x="0" y="0">Δ</text><text font-size="19.0" x="-231.1" y="0">PFC</text></g>
<text class="tk" y="169.1"><tspan x="61.2" dy="2.4" font-weight="normal" font-size="21.5">×</tspan><tspan x="75.3" dy="-2.4">10</tspan><tspan x="94.0" dy="-8.3" font-size="12.8" letter-spacing="0.5">-3</tspan></text>
<rect x="452.9" y="182.5" width="202.7" height="23.7" fill="#fff" stroke="#262626" stroke-width="1.1"/>
<path d="M459.5 194.3H524.4" stroke="#ff0000" stroke-width="1.2" fill="none"/>
<text class="lg" x="529.2" y="200.0">Output Power FC</text>
</g>
<g>
<rect class="ax" x="60.1" y="341.4" width="612.2" height="97.00"/>
<path d="M60.40 341.45L60.52 343.37L60.64 345.07L60.77 346.54L60.89 347.76L61.01 348.74L61.13 349.48L61.26 349.99L61.38 350.29L61.50 350.40L61.62 350.36L61.75 350.20L61.87 349.97L61.99 349.72L62.11 349.48L62.24 349.30L62.36 349.23L62.48 349.30L62.60 349.56L62.73 350.03L62.85 350.74L62.97 351.69L63.09 352.90L63.22 354.36L63.34 356.05L63.46 357.95L63.58 360.02L63.71 362.24L63.83 364.55L63.95 366.90L64.07 369.23L64.20 371.49L64.32 373.62L64.44 375.56L64.56 377.27L64.69 378.70L64.81 379.81L64.93 380.57L65.05 380.97L65.18 380.99L65.30 380.65L65.42 379.94L65.54 378.90L65.66 377.57L65.79 376.00L65.91 374.23L66.03 372.32L66.15 370.36L66.28 368.40L66.40 366.53L66.52 364.79L66.64 363.28L66.77 362.04L66.89 361.13L67.01 360.59L67.13 360.46L67.26 360.76L67.38 361.49L67.50 362.66L67.62 364.24L67.75 366.21L67.87 368.52L67.99 371.11L68.11 373.93L68.24 376.91L68.36 379.96L68.48 383.02L68.60 385.99L68.73 388.81L68.85 391.39L68.97 393.68L69.09 395.61L69.22 397.13L69.34 398.21L69.46 398.82L69.58 398.96L69.71 398.63L69.83 397.85L69.95 396.65L70.07 395.08L70.20 393.19L70.32 391.06L70.44 388.75L70.56 386.34L70.68 383.93L70.81 381.58L70.93 379.38L71.05 377.41L71.17 375.74L71.30 374.42L71.42 373.51L71.54 373.03L71.66 373.02L71.79 373.47L71.91 374.39L72.03 375.75L72.15 377.51L72.28 379.63L72.40 382.04L72.52 384.68L72.64 387.47L72.77 390.32L72.89 393.17L73.01 395.92L73.13 398.49L73.26 400.80L73.38 402.80L73.50 404.43L73.62 405.63L73.75 406.39L73.87 406.67L73.99 406.49L74.11 405.86L74.24 404.79L74.36 403.34L74.48 401.55L74.60 399.50L74.73 397.25L74.85 394.89L74.97 392.50L75.09 390.16L75.22 387.97L75.34 385.99L75.46 384.30L75.58 382.97L75.70 382.05L75.83 381.57L75.95 381.57L76.07 382.05L76.19 383.01L76.32 384.42L76.44 386.26L76.56 388.47L76.68 391.00L76.81 393.76L76.93 396.67L77.05 399.66L77.17 402.64L77.30 405.50L77.42 408.17L77.54 410.57L77.66 412.62L77.79 414.25L77.91 415.42L78.03 416.09L78.15 416.23L78.28 415.85L78.40 414.95L78.52 413.56L78.64 411.72L78.77 409.48L78.89 406.92L79.01 404.12L79.13 401.17L79.26 398.15L79.38 395.16L79.50 392.30L79.62 389.66L79.75 387.32L79.87 385.37L79.99 383.87L80.11 382.87L80.24 382.42L80.36 382.53L80.48 383.20L80.60 384.44L80.73 386.20L80.85 388.45L80.97 391.12L81.09 394.15L81.21 397.45L81.34 400.93L81.46 404.49L81.58 408.04L81.70 411.47L81.83 414.68L81.95 417.60L82.07 420.13L82.19 422.20L82.32 423.77L82.44 424.78L82.56 425.21L82.68 425.06L82.81 424.32L82.93 423.03L83.05 421.23L83.17 418.97L83.30 416.31L83.42 413.35L83.54 410.17L83.66 406.86L83.79 403.52L83.91 400.25L84.03 397.14L84.15 394.29L84.28 391.78L84.40 389.67L84.52 388.03L84.64 386.90L84.77 386.30L84.89 386.27L85.01 386.78L85.13 387.83L85.26 389.38L85.38 391.38L85.50 393.77L85.62 396.48L85.75 399.43L85.87 402.53L85.99 405.70L86.11 408.85L86.23 411.88L86.36 414.73L86.48 417.31L86.60 419.55L86.72 421.41L86.85 422.83L86.97 423.80L87.09 424.29L87.21 424.30L87.34 423.85L87.46 422.97L87.58 421.69L87.70 420.07L87.83 418.16L87.95 416.03L88.07 413.76L88.19 411.41L88.32 409.07L88.44 406.79L88.56 404.66L88.68 402.73L88.81 401.06L88.93 399.69L89.05 398.66L89.17 397.98L89.30 397.67L89.42 397.72L89.54 398.12L89.66 398.84L89.79 399.86L89.91 401.12L90.03 402.58L90.15 404.19L90.28 405.88L90.40 407.61L90.52 409.30L90.64 410.90L90.77 412.38L90.89 413.67L91.01 414.75L91.13 415.59L91.25 416.17L91.38 416.49L91.50 416.53L91.62 416.33L91.74 415.89L91.87 415.24L91.99 414.43L92.11 413.48L92.23 412.45L92.36 411.39L92.48 410.33L92.60 409.33L92.72 408.43L92.85 407.66L92.97 407.06L93.09 406.66L93.21 406.47L93.34 406.50L93.46 406.75L93.58 407.21L93.70 407.87L93.83 408.70L93.95 409.67L94.07 410.74L94.19 411.88L94.32 413.02L94.44 414.14L94.56 415.19L94.68 416.12L94.81 416.89L94.93 417.48L95.05 417.86L95.17 418.00L95.30 417.90L95.42 417.55L95.54 416.97L95.66 416.16L95.79 415.15L95.91 413.98L96.03 412.68L96.15 411.30L96.27 409.88L96.40 408.47L96.52 407.13L96.64 405.90L96.76 404.83L96.89 403.95L97.01 403.31L97.13 402.94L97.25 402.84L97.38 403.04L97.50 403.52L97.62 404.30L97.74 405.33L97.87 406.61L97.99 408.08L98.11 409.71L98.23 411.46L98.36 413.26L98.48 415.06L98.60 416.80L98.72 418.43L98.85 419.91L98.97 421.17L99.09 422.18L99.21 422.91L99.34 423.33L99.46 423.43L99.58 423.20L99.70 422.66L99.83 421.81L99.95 420.68L100.07 419.32L100.19 417.76L100.32 416.04L100.44 414.24L100.56 412.40L100.68 410.59L100.81 408.87L100.93 407.28L101.05 405.88L101.17 404.73L101.29 403.84L101.42 403.26L101.54 403.01L101.66 403.08L101.78 403.49L101.91 404.21L102.03 405.22L102.15 406.48L102.27 407.96L102.40 409.61L102.52 411.37L102.64 413.17L102.76 414.97L102.89 416.70L103.01 418.30L103.13 419.73L103.25 420.92L103.38 421.84L103.50 422.46L103.62 422.76L103.74 422.73L103.87 422.36L103.99 421.68L104.11 420.71L104.23 419.47L104.36 418.02L104.48 416.40L104.60 414.68L104.72 412.90L104.85 411.14L104.97 409.46L105.09 407.92L105.21 406.58L105.34 405.48L105.46 404.68L105.58 404.20L105.70 404.07L105.83 404.30L105.95 404.89L106.07 405.83L106.19 407.08L106.31 408.61L106.44 410.38L106.56 412.33L106.68 414.40L106.80 416.51L106.93 418.61L107.05 420.60L107.17 422.44L107.29 424.04L107.42 425.36L107.54 426.34L107.66 426.94L107.78 427.13L107.91 426.89L108.03 426.23L108.15 425.15L108.27 423.67L108.40 421.85L108.52 419.72L108.64 417.35L108.76 414.81L108.89 412.17L109.01 409.52L109.13 406.94L109.25 404.52L109.38 402.32L109.50 400.44L109.62 398.92L109.74 397.84L109.87 397.23L109.99 397.11L110.11 397.51L110.23 398.43L110.36 399.84L110.48 401.72L110.60 404.02L110.72 406.67L110.85 409.61L110.97 412.75L111.09 416.00L111.21 419.28L111.34 422.47L111.46 425.50L111.58 428.26L111.70 430.68L111.82 432.67L111.95 434.18L112.07 435.15L112.19 435.55L112.31 435.36L112.44 434.59L112.56 433.24L112.68 431.35L112.80 428.96L112.93 426.16L113.05 423.00L113.17 419.58L113.29 415.99L113.42 412.35L113.54 408.74L113.66 405.27L113.78 402.05L113.91 399.17L114.03 396.70L114.15 394.73L114.27 393.31L114.40 392.47L114.52 392.26L114.64 392.67L114.76 393.69L114.89 395.30L115.01 397.45L115.13 400.07L115.25 403.10L115.38 406.45L115.50 410.01L115.62 413.70L115.74 417.41L115.87 421.02L115.99 424.44L116.11 427.58L116.23 430.34L116.36 432.66L116.48 434.46L116.60 435.70L116.72 436.34L116.84 436.39L116.97 435.84L117.09 434.71L117.21 433.03L117.33 430.88L117.46 428.30L117.58 425.39L117.70 422.22L117.82 418.90L117.95 415.52L118.07 412.17L118.19 408.97L118.31 405.99L118.44 403.32L118.56 401.04L118.68 399.20L118.80 397.85L118.93 397.03L119.05 396.74L119.17 396.99L119.29 397.76L119.42 399.02L119.54 400.72L119.66 402.80L119.78 405.19L119.91 407.82L120.03 410.59L120.15 413.43L120.27 416.25L120.40 418.96L120.52 421.47L120.64 423.73L120.76 425.66L120.89 427.21L121.01 428.34L121.13 429.03L121.25 429.26L121.38 429.04L121.50 428.39L121.62 427.33L121.74 425.92L121.86 424.19L121.99 422.23L122.11 420.09L122.23 417.84L122.35 415.58L122.48 413.36L122.60 411.27L122.72 409.36L122.84 407.71L122.97 406.35L123.09 405.34L123.21 404.69L123.33 404.42L123.46 404.54L123.58 405.03L123.70 405.87L123.82 407.03L123.95 408.46L124.07 410.11L124.19 411.92L124.31 413.83L124.44 415.76L124.56 417.66L124.68 419.45L124.80 421.07L124.93 422.47L125.05 423.61L125.17 424.44L125.29 424.94L125.42 425.09L125.54 424.89L125.66 424.35L125.78 423.48L125.91 422.32L126.03 420.91L126.15 419.29L126.27 417.52L126.40 415.67L126.52 413.79L126.64 411.95L126.76 410.21L126.88 408.63L127.01 407.27L127.13 406.16L127.25 405.35L127.37 404.86L127.50 404.71L127.62 404.92L127.74 405.46L127.86 406.32L127.99 407.48L128.11 408.91L128.23 410.54L128.35 412.34L128.48 414.24L128.60 416.19L128.72 418.12L128.84 419.97L128.97 421.68L129.09 423.20L129.21 424.48L129.33 425.48L129.46 426.17L129.58 426.54L129.70 426.56L129.82 426.24L129.95 425.60L130.07 424.65L130.19 423.43L130.31 421.98L130.44 420.34L130.56 418.57L130.68 416.72L130.80 414.85L130.93 413.02L131.05 411.29L131.17 409.71L131.29 408.32L131.42 407.16L131.54 406.28L131.66 405.68L131.78 405.39L131.90 405.41L132.03 405.73L132.15 406.34L132.27 407.20L132.39 408.30L132.52 409.58L132.64 411.00L132.76 412.51L132.88 414.07L133.01 415.61L133.13 417.09L133.25 418.46L133.37 419.69L133.50 420.72L133.62 421.54L133.74 422.12L133.86 422.46L133.99 422.54L134.11 422.37L134.23 421.97L134.35 421.35L134.48 420.56L134.60 419.62L134.72 418.58L134.84 417.47L134.97 416.34L135.09 415.25L135.21 414.22L135.33 413.30L135.46 412.52L135.58 411.92L135.70 411.51L135.82 411.31L135.95 411.32L136.07 411.54L136.19 411.96L136.31 412.56L136.44 413.31L136.56 414.18L136.68 415.13L136.80 416.12L136.93 417.10L137.05 418.03L137.17 418.88L137.29 419.59L137.41 420.13L137.54 420.48L137.66 420.60L137.78 420.50L137.90 420.16L138.03 419.58L138.15 418.78L138.27 417.78L138.39 416.62L138.52 415.32L138.64 413.93L138.76 412.51L138.88 411.09L139.01 409.75L139.13 408.52L139.25 407.46L139.37 406.62L139.50 406.04L139.62 405.74L139.74 405.76L139.86 406.10L139.99 406.77L140.11 407.76L140.23 409.06L140.35 410.63L140.48 412.43L140.60 414.42L140.72 416.54L140.84 418.72L140.97 420.90L141.09 423.01L141.21 424.98L141.33 426.75L141.46 428.25L141.58 429.43L141.70 430.24L141.82 430.64L141.95 430.62L142.07 430.15L142.19 429.25L142.31 427.92L142.43 426.19L142.56 424.11L142.68 421.72L142.80 419.10L142.92 416.30L143.05 413.42L143.17 410.53L143.29 407.72L143.41 405.06L143.54 402.65L143.66 400.56L143.78 398.85L143.90 397.58L144.03 396.79L144.15 396.52L144.27 396.77L144.39 397.56L144.52 398.86L144.64 400.64L144.76 402.86L144.88 405.46L145.01 408.38L145.13 411.52L145.25 414.80L145.37 418.14L145.50 421.42L145.62 424.57L145.74 427.49L145.86 430.09L145.99 432.29L146.11 434.04L146.23 435.28L146.35 435.97L146.48 436.09L146.60 435.64L146.72 434.63L146.84 433.08L146.97 431.03L147.09 428.56L147.21 425.72L147.33 422.61L147.45 419.30L147.58 415.90L147.70 412.50L147.82 409.21L147.94 406.11L148.07 403.30L148.19 400.85L148.31 398.84L148.43 397.33L148.56 396.35L148.68 395.93L148.80 396.08L148.92 396.79L149.05 398.04L149.17 399.78L149.29 401.97L149.41 404.53L149.54 407.39L149.66 410.45L149.78 413.63L149.90 416.82L150.03 419.94L150.15 422.89L150.27 425.58L150.39 427.94L150.52 429.89L150.64 431.38L150.76 432.37L150.88 432.84L151.01 432.78L151.13 432.19L151.25 431.10L151.37 429.54L151.50 427.58L151.62 425.27L151.74 422.69L151.86 419.93L151.99 417.07L152.11 414.20L152.23 411.42L152.35 408.81L152.47 406.45L152.60 404.41L152.72 402.76L152.84 401.55L152.96 400.81L153.09 400.56L153.21 400.80L153.33 401.52L153.45 402.70L153.58 404.30L153.70 406.25L153.82 408.50L153.94 410.97L154.07 413.58L154.19 416.24L154.31 418.87L154.43 421.37L154.56 423.68L154.68 425.71L154.80 427.40L154.92 428.70L155.05 429.56L155.17 429.95L155.29 429.87L155.41 429.31L155.54 428.30L155.66 426.86L155.78 425.05L155.90 422.92L156.03 420.53L156.15 417.97L156.27 415.32L156.39 412.66L156.52 410.08L156.64 407.66L156.76 405.47L156.88 403.60L157.01 402.10L157.13 401.01L157.25 400.38L157.37 400.22L157.49 400.55L157.62 401.36L157.74 402.61L157.86 404.28L157.98 406.32L158.11 408.66L158.23 411.23L158.35 413.95L158.47 416.74L158.60 419.52L158.72 422.20L158.84 424.69L158.96 426.93L159.09 428.84L159.21 430.36L159.33 431.45L159.45 432.08L159.58 432.23L159.70 431.88L159.82 431.06L159.94 429.78L160.07 428.09L160.19 426.03L160.31 423.67L160.43 421.07L160.56 418.33L160.68 415.50L160.80 412.69L160.92 409.97L161.05 407.41L161.17 405.11L161.29 403.11L161.41 401.48L161.54 400.26L161.66 399.48L161.78 399.17L161.90 399.32L162.03 399.93L162.15 400.97L162.27 402.42L162.39 404.22L162.51 406.31L162.64 408.63L162.76 411.12L162.88 413.69L163.00 416.28L163.13 418.80L163.25 421.18L163.37 423.37L163.49 425.29L163.62 426.90L163.74 428.16L163.86 429.03L163.98 429.51L164.11 429.59L164.23 429.28L164.35 428.59L164.47 427.56L164.60 426.22L164.72 424.63L164.84 422.84L164.96 420.90L165.09 418.89L165.21 416.86L165.33 414.88L165.45 413.00L165.58 411.28L165.70 409.75L165.82 408.47L165.94 407.47L166.07 406.75L166.19 406.33L166.31 406.21L166.43 406.38L166.56 406.82L166.68 407.50L166.80 408.40L166.92 409.45L167.05 410.63L167.17 411.89L167.29 413.17L167.41 414.44L167.53 415.64L167.66 416.74L167.78 417.70L167.90 418.50L168.02 419.11L168.15 419.52L168.27 419.73L168.39 419.73L168.51 419.55L168.64 419.20L168.76 418.71L168.88 418.10L169.00 417.41L169.13 416.68L169.25 415.95L169.37 415.25L169.49 414.61L169.62 414.08L169.74 413.68L169.86 413.43L169.98 413.35L170.11 413.44L170.23 413.70L170.35 414.12L170.47 414.70L170.60 415.40L170.72 416.20L170.84 417.07L170.96 417.97L171.09 418.86L171.21 419.70L171.33 420.44L171.45 421.06L171.58 421.52L171.70 421.78L171.82 421.83L171.94 421.65L172.07 421.23L172.19 420.58L172.31 419.70L172.43 418.61L172.56 417.35L172.68 415.95L172.80 414.44L172.92 412.88L173.04 411.31L173.17 409.79L173.29 408.37L173.41 407.10L173.53 406.03L173.66 405.20L173.78 404.65L173.90 404.41L174.02 404.49L174.15 404.92L174.27 405.67L174.39 406.75L174.51 408.12L174.64 409.77L174.76 411.64L174.88 413.68L175.00 415.84L175.13 418.05L175.25 420.26L175.37 422.38L175.49 424.36L175.62 426.14L175.74 427.65L175.86 428.85L175.98 429.69L176.11 430.14L176.23 430.19L176.35 429.82L176.47 429.04L176.60 427.86L176.72 426.31L176.84 424.44L176.96 422.30L177.09 419.94L177.21 417.44L177.33 414.86L177.45 412.28L177.58 409.78L177.70 407.43L177.82 405.30L177.94 403.46L178.06 401.97L178.19 400.86L178.31 400.18L178.43 399.95L178.55 400.18L178.68 400.85L178.80 401.96L178.92 403.47L179.04 405.33L179.17 407.50L179.29 409.90L179.41 412.46L179.53 415.11L179.66 417.77L179.78 420.35L179.90 422.78L180.02 424.98L180.15 426.88L180.27 428.44L180.39 429.59L180.51 430.31L180.64 430.58L180.76 430.38L180.88 429.73L181.00 428.64L181.13 427.16L181.25 425.33L181.37 423.20L181.49 420.85L181.62 418.35L181.74 415.79L181.86 413.23L181.98 410.77L182.11 408.48L182.23 406.43L182.35 404.69L182.47 403.32L182.60 402.36L182.72 401.84L182.84 401.78L182.96 402.17L183.08 403.01L183.21 404.26L183.33 405.90L183.45 407.85L183.57 410.07L183.70 412.48L183.82 415.00L183.94 417.54L184.06 420.03L184.19 422.38L184.31 424.51L184.43 426.36L184.55 427.86L184.68 428.95L184.80 429.61L184.92 429.80L185.04 429.51L185.17 428.76L185.29 427.56L185.41 425.95L185.53 423.97L185.66 421.69L185.78 419.17L185.90 416.51L186.02 413.77L186.15 411.06L186.27 408.45L186.39 406.04L186.51 403.90L186.64 402.10L186.76 400.71L186.88 399.77L187.00 399.33L187.13 399.40L187.25 399.98L187.37 401.07L187.49 402.63L187.62 404.63L187.74 407.01L187.86 409.69L187.98 412.60L188.10 415.65L188.23 418.75L188.35 421.81L188.47 424.72L188.59 427.41L188.72 429.78L188.84 431.76L188.96 433.29L189.08 434.31L189.21 434.79L189.33 434.71L189.45 434.06L189.57 432.86L189.70 431.15L189.82 428.95L189.94 426.35L190.06 423.40L190.19 420.20L190.31 416.84L190.43 413.41L190.55 410.01L190.68 406.75L190.80 403.72L190.92 401.00L191.04 398.69L191.17 396.84L191.29 395.52L191.41 394.76L191.53 394.59L191.66 395.00L191.78 396.00L191.90 397.56L192.02 399.62L192.15 402.14L192.27 405.03L192.39 408.22L192.51 411.62L192.64 415.12L192.76 418.62L192.88 422.04L193.00 425.27L193.12 428.21L193.25 430.80L193.37 432.95L193.49 434.60L193.61 435.73L193.74 436.28L193.86 436.27L193.98 435.68L194.10 434.54L194.23 432.90L194.35 430.79L194.47 428.29L194.59 425.48L194.72 422.42L194.84 419.23L194.96 415.97L195.08 412.76L195.21 409.68L195.33 406.82L195.45 404.25L195.57 402.05L195.70 400.26L195.82 398.94L195.94 398.10L196.06 397.78L196.19 397.96L196.31 398.63L196.43 399.76L196.55 401.30L196.68 403.21L196.80 405.41L196.92 407.84L197.04 410.42L197.17 413.08L197.29 415.72L197.41 418.27L197.53 420.67L197.66 422.84L197.78 424.72L197.90 426.28L198.02 427.46L198.15 428.26L198.27 428.65L198.39 428.64L198.51 428.25L198.63 427.49L198.76 426.41L198.88 425.05L199.00 423.46L199.12 421.71L199.25 419.85L199.37 417.95L199.49 416.07L199.61 414.28L199.74 412.63L199.86 411.16L199.98 409.92L200.10 408.94L200.23 408.25L200.35 407.86L200.47 407.76L200.59 407.95L200.72 408.40L200.84 409.11L200.96 410.01L201.08 411.08L201.21 412.27L201.33 413.53L201.45 414.80L201.57 416.04L201.70 417.20L201.82 418.24L201.94 419.11L202.06 419.79L202.19 420.25L202.31 420.48L202.43 420.48L202.55 420.24L202.68 419.79L202.80 419.13L202.92 418.31L203.04 417.35L203.17 416.30L203.29 415.20L203.41 414.10L203.53 413.03L203.65 412.06L203.78 411.21L203.90 410.52L204.02 410.03L204.14 409.76L204.27 409.72L204.39 409.92L204.51 410.36L204.63 411.03L204.76 411.90L204.88 412.95L205.00 414.15L205.12 415.46L205.25 416.82L205.37 418.19L205.49 419.53L205.61 420.78L205.74 421.90L205.86 422.85L205.98 423.59L206.10 424.08L206.23 424.31L206.35 424.26L206.47 423.93L206.59 423.32L206.72 422.45L206.84 421.34L206.96 420.02L207.08 418.54L207.21 416.93L207.33 415.26L207.45 413.56L207.57 411.90L207.70 410.33L207.82 408.91L207.94 407.67L208.06 406.66L208.19 405.91L208.31 405.46L208.43 405.32L208.55 405.49L208.67 405.97L208.80 406.75L208.92 407.80L209.04 409.10L209.16 410.60L209.29 412.26L209.41 414.02L209.53 415.83L209.65 417.63L209.78 419.37L209.90 420.98L210.02 422.41L210.14 423.63L210.27 424.59L210.39 425.26L210.51 425.62L210.63 425.66L210.76 425.38L210.88 424.78L211.00 423.90L211.12 422.76L211.25 421.39L211.37 419.85L211.49 418.19L211.61 416.46L211.74 414.73L211.86 413.04L211.98 411.46L212.10 410.04L212.23 408.83L212.35 407.87L212.47 407.19L212.59 406.82L212.72 406.76L212.84 407.02L212.96 407.59L213.08 408.45L213.21 409.57L213.33 410.90L213.45 412.41L213.57 414.04L213.69 415.72L213.82 417.41L213.94 419.04L214.06 420.55L214.18 421.89L214.31 423.00L214.43 423.85L214.55 424.39L214.67 424.62L214.80 424.50L214.92 424.05L215.04 423.27L215.16 422.18L215.29 420.83L215.41 419.24L215.53 417.48L215.65 415.61L215.78 413.68L215.90 411.76L216.02 409.92L216.14 408.23L216.27 406.74L216.39 405.52L216.51 404.62L216.63 404.07L216.76 403.90L216.88 404.13L217.00 404.75L217.12 405.77L217.25 407.15L217.37 408.86L217.49 410.86L217.61 413.08L217.74 415.46L217.86 417.92L217.98 420.40L218.10 422.80L218.23 425.05L218.35 427.08L218.47 428.81L218.59 430.18L218.71 431.15L218.84 431.66L218.96 431.70L219.08 431.25L219.20 430.31L219.33 428.90L219.45 427.06L219.57 424.83L219.69 422.26L219.82 419.44L219.94 416.44L220.06 413.34L220.18 410.24L220.31 407.22L220.43 404.39L220.55 401.83L220.67 399.61L220.80 397.82L220.92 396.50L221.04 395.71L221.16 395.48L221.29 395.82L221.41 396.73L221.53 398.19L221.65 400.17L221.78 402.61L221.90 405.45L222.02 408.62L222.14 412.02L222.27 415.56L222.39 419.14L222.51 422.66L222.63 426.01L222.76 429.11L222.88 431.85L223.00 434.15L223.12 435.96L223.25 437.21L223.37 437.87L223.49 437.92L223.61 437.34L223.73 436.16L223.86 434.41L223.98 432.13L224.10 429.39L224.22 426.27L224.35 422.85L224.47 419.23L224.59 415.52L224.71 411.81L224.84 408.22L224.96 404.85L225.08 401.78L225.20 399.12L225.33 396.92L225.45 395.25L225.57 394.16L225.69 393.68L225.82 393.81L225.94 394.54L226.06 395.86L226.18 397.71L226.31 400.05L226.43 402.80L226.55 405.88L226.67 409.19L226.80 412.65L226.92 416.15L227.04 419.58L227.16 422.86L227.29 425.88L227.41 428.57L227.53 430.85L227.65 432.66L227.78 433.95L227.90 434.70L228.02 434.89L228.14 434.52L228.27 433.61L228.39 432.20L228.51 430.34L228.63 428.10L228.76 425.53L228.88 422.73L229.00 419.79L229.12 416.79L229.24 413.83L229.37 410.99L229.49 408.36L229.61 406.01L229.73 404.01L229.86 402.41L229.98 401.25L230.10 400.57L230.22 400.36L230.35 400.64L230.47 401.37L230.59 402.52L230.71 404.06L230.84 405.92L230.96 408.03L231.08 410.33L231.20 412.74L231.33 415.17L231.45 417.56L231.57 419.81L231.69 421.87L231.82 423.67L231.94 425.15L232.06 426.28L232.18 427.02L232.31 427.35L232.43 427.28L232.55 426.81L232.67 425.96L232.80 424.77L232.92 423.29L233.04 421.57L233.16 419.67L233.29 417.66L233.41 415.61L233.53 413.60L233.65 411.68L233.78 409.92L233.90 408.39L234.02 407.13L234.14 406.18L234.26 405.58L234.39 405.34L234.51 405.47L234.63 405.96L234.75 406.79L234.88 407.93L235.00 409.35L235.12 410.99L235.24 412.79L235.37 414.70L235.49 416.65L235.61 418.58L235.73 420.41L235.86 422.09L235.98 423.56L236.10 424.77L236.22 425.68L236.35 426.26L236.47 426.49L236.59 426.36L236.71 425.88L236.84 425.05L236.96 423.92L237.08 422.50L237.20 420.86L237.33 419.03L237.45 417.09L237.57 415.09L237.69 413.09L237.82 411.17L237.94 409.37L238.06 407.77L238.18 406.40L238.31 405.32L238.43 404.55L238.55 404.12L238.67 404.04L238.80 404.32L238.92 404.93L239.04 405.87L239.16 407.11L239.28 408.59L239.41 410.28L239.53 412.12L239.65 414.05L239.77 416.01L239.90 417.95L240.02 419.80L240.14 421.50L240.26 423.02L240.39 424.29L240.51 425.29L240.63 425.98L240.75 426.36L240.88 426.42L241.00 426.15L241.12 425.57L241.24 424.71L241.37 423.60L241.49 422.28L241.61 420.79L241.73 419.19L241.86 417.52L241.98 415.85L242.10 414.22L242.22 412.69L242.35 411.30L242.47 410.09L242.59 409.10L242.71 408.35L242.84 407.86L242.96 407.64L243.08 407.68L243.20 407.99L243.33 408.52L243.45 409.27L243.57 410.20L243.69 411.26L243.82 412.42L243.94 413.62L244.06 414.83L244.18 416.00L244.30 417.09L244.43 418.05L244.55 418.86L244.67 419.48L244.79 419.91L244.92 420.12L245.04 420.12L245.16 419.92L245.28 419.52L245.41 418.95L245.53 418.23L245.65 417.41L245.77 416.51L245.90 415.59L246.02 414.67L246.14 413.82L246.26 413.05L246.39 412.42L246.51 411.95L246.63 411.66L246.75 411.58L246.88 411.72L247.00 412.07L247.12 412.62L247.24 413.37L247.37 414.29L247.49 415.34L247.61 416.49L247.73 417.69L247.86 418.91L247.98 420.08L248.10 421.16L248.22 422.11L248.35 422.87L248.47 423.42L248.59 423.72L248.71 423.75L248.84 423.49L248.96 422.93L249.08 422.08L249.20 420.96L249.32 419.59L249.45 418.01L249.57 416.26L249.69 414.39L249.81 412.46L249.94 410.53L250.06 408.66L250.18 406.92L250.30 405.36L250.43 404.05L250.55 403.03L250.67 402.35L250.79 402.04L250.92 402.13L251.04 402.62L251.16 403.51L251.28 404.80L251.41 406.45L251.53 408.42L251.65 410.67L251.77 413.13L251.90 415.74L252.02 418.43L252.14 421.11L252.26 423.70L252.39 426.13L252.51 428.33L252.63 430.22L252.75 431.73L252.88 432.83L253.00 433.46L253.12 433.60L253.24 433.23L253.37 432.37L253.49 431.02L253.61 429.21L253.73 426.99L253.86 424.42L253.98 421.57L254.10 418.52L254.22 415.34L254.34 412.13L254.47 408.99L254.59 406.00L254.71 403.25L254.83 400.82L254.96 398.78L255.08 397.20L255.20 396.13L255.32 395.59L255.45 395.61L255.57 396.19L255.69 397.32L255.81 398.96L255.94 401.08L256.06 403.60L256.18 406.47L256.30 409.60L256.43 412.90L256.55 416.27L256.67 419.62L256.79 422.85L256.92 425.87L257.04 428.59L257.16 430.94L257.28 432.83L257.41 434.24L257.53 435.10L257.65 435.40L257.77 435.13L257.90 434.31L258.02 432.96L258.14 431.11L258.26 428.84L258.39 426.20L258.51 423.28L258.63 420.16L258.75 416.95L258.88 413.73L259.00 410.60L259.12 407.65L259.24 404.97L259.37 402.64L259.49 400.73L259.61 399.28L259.73 398.34L259.85 397.94L259.98 398.07L260.10 398.73L260.22 399.90L260.34 401.53L260.47 403.58L260.59 405.96L260.71 408.61L260.83 411.44L260.96 414.36L261.08 417.28L261.20 420.11L261.32 422.76L261.45 425.15L261.57 427.21L261.69 428.87L261.81 430.09L261.94 430.82L262.06 431.06L262.18 430.80L262.30 430.05L262.43 428.83L262.55 427.20L262.67 425.20L262.79 422.91L262.92 420.40L263.04 417.74L263.16 415.04L263.28 412.37L263.41 409.82L263.53 407.48L263.65 405.42L263.77 403.71L263.90 402.39L264.02 401.52L264.14 401.12L264.26 401.21L264.39 401.77L264.51 402.80L264.63 404.25L264.75 406.08L264.87 408.24L265.00 410.65L265.12 413.23L265.24 415.91L265.36 418.59L265.49 421.19L265.61 423.63L265.73 425.82L265.85 427.70L265.98 429.20L266.10 430.28L266.22 430.90L266.34 431.03L266.47 430.68L266.59 429.84L266.71 428.55L266.83 426.84L266.96 424.77L267.08 422.39L267.20 419.78L267.32 417.02L267.45 414.19L267.57 411.39L267.69 408.69L267.81 406.18L267.94 403.95L268.06 402.04L268.18 400.54L268.30 399.48L268.43 398.90L268.55 398.81L268.67 399.22L268.79 400.12L268.92 401.48L269.04 403.26L269.16 405.41L269.28 407.87L269.41 410.56L269.53 413.40L269.65 416.31L269.77 419.20L269.89 421.99L270.02 424.59L270.14 426.94L270.26 428.95L270.38 430.58L270.51 431.78L270.63 432.52L270.75 432.77L270.87 432.54L271.00 431.82L271.12 430.66L271.24 429.08L271.36 427.14L271.49 424.89L271.61 422.41L271.73 419.76L271.85 417.02L271.98 414.28L272.10 411.62L272.22 409.10L272.34 406.81L272.47 404.80L272.59 403.12L272.71 401.83L272.83 400.94L272.96 400.48L273.08 400.45L273.20 400.84L273.32 401.64L273.45 402.81L273.57 404.30L273.69 406.08L273.81 408.07L273.94 410.22L274.06 412.45L274.18 414.70L274.30 416.91L274.43 419.00L274.55 420.93L274.67 422.63L274.79 424.07L274.91 425.21L275.04 426.03L275.16 426.52L275.28 426.67L275.40 426.49L275.53 426.01L275.65 425.24L275.77 424.23L275.89 423.02L276.02 421.66L276.14 420.20L276.26 418.68L276.38 417.17L276.51 415.71L276.63 414.34L276.75 413.12L276.87 412.07L277.00 411.22L277.12 410.59L277.24 410.19L277.36 410.01L277.49 410.06L277.61 410.32L277.73 410.76L277.85 411.36L277.98 412.07L278.10 412.87L278.22 413.72L278.34 414.56L278.47 415.37L278.59 416.11L278.71 416.75L278.83 417.25L278.96 417.60L279.08 417.79L279.20 417.80L279.32 417.64L279.45 417.32L279.57 416.85L279.69 416.25L279.81 415.56L279.93 414.81L280.06 414.03L280.18 413.27L280.30 412.55L280.42 411.92L280.55 411.42L280.67 411.07L280.79 410.89L280.91 410.92L281.04 411.15L281.16 411.59L281.28 412.24L281.40 413.08L281.53 414.10L281.65 415.26L281.77 416.52L281.89 417.85L282.02 419.20L282.14 420.53L282.26 421.78L282.38 422.91L282.51 423.87L282.63 424.63L282.75 425.14L282.87 425.37L283.00 425.32L283.12 424.96L283.24 424.30L283.36 423.35L283.49 422.12L283.61 420.64L283.73 418.95L283.85 417.10L283.98 415.14L284.10 413.12L284.22 411.11L284.34 409.17L284.47 407.36L284.59 405.74L284.71 404.36L284.83 403.27L284.95 402.52L285.08 402.12L285.20 402.11L285.32 402.49L285.44 403.25L285.57 404.38L285.69 405.86L285.81 407.65L285.93 409.69L286.06 411.94L286.18 414.32L286.30 416.77L286.42 419.21L286.55 421.58L286.67 423.81L286.79 425.81L286.91 427.55L287.04 428.94L287.16 429.97L287.28 430.58L287.40 430.77L287.53 430.51L287.65 429.83L287.77 428.72L287.89 427.24L288.02 425.41L288.14 423.29L288.26 420.94L288.38 418.44L288.51 415.86L288.63 413.28L288.75 410.77L288.87 408.42L289.00 406.28L289.12 404.44L289.24 402.93L289.36 401.82L289.49 401.13L289.61 400.89L289.73 401.10L289.85 401.75L289.98 402.82L290.10 404.28L290.22 406.09L290.34 408.18L290.46 410.49L290.59 412.94L290.71 415.47L290.83 417.98L290.95 420.40L291.08 422.65L291.20 424.67L291.32 426.38L291.44 427.73L291.57 428.68L291.69 429.20L291.81 429.28L291.93 428.91L292.06 428.10L292.18 426.88L292.30 425.29L292.42 423.38L292.55 421.22L292.67 418.87L292.79 416.41L292.91 413.93L293.04 411.50L293.16 409.20L293.28 407.11L293.40 405.31L293.53 403.84L293.65 402.77L293.77 402.12L293.89 401.93L294.02 402.20L294.14 402.93L294.26 404.09L294.38 405.65L294.51 407.57L294.63 409.79L294.75 412.23L294.87 414.81L295.00 417.46L295.12 420.08L295.24 422.60L295.36 424.93L295.48 426.99L295.61 428.71L295.73 430.03L295.85 430.90L295.97 431.29L296.10 431.19L296.22 430.58L296.34 429.48L296.46 427.92L296.59 425.94L296.71 423.60L296.83 420.97L296.95 418.12L297.08 415.14L297.20 412.12L297.32 409.16L297.44 406.35L297.57 403.77L297.69 401.51L297.81 399.65L297.93 398.23L298.06 397.32L298.18 396.95L298.30 397.13L298.42 397.87L298.55 399.15L298.67 400.93L298.79 403.18L298.91 405.82L299.04 408.78L299.16 411.98L299.28 415.33L299.40 418.73L299.53 422.07L299.65 425.26L299.77 428.21L299.89 430.82L300.02 433.02L300.14 434.74L300.26 435.93L300.38 436.54L300.50 436.57L300.63 436.00L300.75 434.86L300.87 433.16L300.99 430.96L301.12 428.33L301.24 425.32L301.36 422.04L301.48 418.57L301.61 415.01L301.73 411.47L301.85 408.04L301.97 404.83L302.10 401.92L302.22 399.39L302.34 397.33L302.46 395.77L302.59 394.78L302.71 394.36L302.83 394.54L302.95 395.30L303.08 396.62L303.20 398.45L303.32 400.74L303.44 403.43L303.57 406.43L303.69 409.65L303.81 413.01L303.93 416.40L304.06 419.72L304.18 422.90L304.30 425.83L304.42 428.43L304.55 430.65L304.67 432.41L304.79 433.68L304.91 434.43L305.04 434.65L305.16 434.33L305.28 433.50L305.40 432.19L305.52 430.44L305.65 428.32L305.77 425.89L305.89 423.24L306.01 420.43L306.14 417.56L306.26 414.72L306.38 411.97L306.50 409.41L306.63 407.10L306.75 405.09L306.87 403.46L306.99 402.22L307.12 401.41L307.24 401.04L307.36 401.10L307.48 401.59L307.61 402.47L307.73 403.70L307.85 405.24L307.97 407.02L308.10 409.00L308.22 411.09L308.34 413.22L308.46 415.34L308.59 417.37L308.71 419.26L308.83 420.94L308.95 422.37L309.08 423.52L309.20 424.35L309.32 424.86L309.44 425.04L309.57 424.89L309.69 424.43L309.81 423.70L309.93 422.73L310.06 421.56L310.18 420.24L310.30 418.82L310.42 417.36L310.54 415.92L310.67 414.54L310.79 413.28L310.91 412.18L311.03 411.28L311.16 410.59L311.28 410.15L311.40 409.97L311.52 410.04L311.65 410.36L311.77 410.90L311.89 411.64L312.01 412.55L312.14 413.59L312.26 414.71L312.38 415.86L312.50 417.01L312.63 418.10L312.75 419.08L312.87 419.92L312.99 420.59L313.12 421.04L313.24 421.27L313.36 421.26L313.48 421.01L313.61 420.52L313.73 419.82L313.85 418.91L313.97 417.85L314.10 416.65L314.22 415.37L314.34 414.05L314.46 412.74L314.59 411.49L314.71 410.34L314.83 409.34L314.95 408.53L315.08 407.94L315.20 407.60L315.32 407.53L315.44 407.72L315.56 408.19L315.69 408.92L315.81 409.89L315.93 411.08L316.05 412.44L316.18 413.94L316.30 415.53L316.42 417.16L316.54 418.77L316.67 420.31L316.79 421.73L316.91 422.98L317.03 424.02L317.16 424.82L317.28 425.34L317.40 425.57L317.52 425.49L317.65 425.11L317.77 424.43L317.89 423.47L318.01 422.27L318.14 420.86L318.26 419.28L318.38 417.59L318.50 415.83L318.63 414.07L318.75 412.35L318.87 410.74L318.99 409.28L319.12 408.03L319.24 407.01L319.36 406.27L319.48 405.83L319.61 405.70L319.73 405.89L319.85 406.38L319.97 407.16L320.10 408.20L320.22 409.48L320.34 410.94L320.46 412.53L320.58 414.21L320.71 415.91L320.83 417.58L320.95 419.16L321.07 420.61L321.20 421.87L321.32 422.89L321.44 423.66L321.56 424.14L321.69 424.31L321.81 424.17L321.93 423.74L322.05 423.01L322.18 422.03L322.30 420.83L322.42 419.44L322.54 417.93L322.67 416.34L322.79 414.72L322.91 413.15L323.03 411.67L323.16 410.35L323.28 409.22L323.40 408.33L323.52 407.72L323.65 407.41L323.77 407.41L323.89 407.73L324.01 408.36L324.14 409.29L324.26 410.47L324.38 411.88L324.50 413.47L324.63 415.18L324.75 416.95L324.87 418.72L324.99 420.42L325.12 422.00L325.24 423.39L325.36 424.55L325.48 425.41L325.61 425.95L325.73 426.14L325.85 425.96L325.97 425.41L326.09 424.50L326.22 423.24L326.34 421.68L326.46 419.85L326.58 417.81L326.71 415.62L326.83 413.35L326.95 411.07L327.07 408.86L327.20 406.80L327.32 404.94L327.44 403.37L327.56 402.13L327.69 401.28L327.81 400.86L327.93 400.88L328.05 401.36L328.18 402.31L328.30 403.69L328.42 405.48L328.54 407.63L328.67 410.08L328.79 412.78L328.91 415.63L329.03 418.56L329.16 421.48L329.28 424.30L329.40 426.94L329.52 429.31L329.65 431.33L329.77 432.94L329.89 434.08L330.01 434.71L330.14 434.80L330.26 434.34L330.38 433.33L330.50 431.80L330.63 429.77L330.75 427.31L330.87 424.48L330.99 421.34L331.11 418.00L331.24 414.55L331.36 411.08L331.48 407.69L331.60 404.48L331.73 401.55L331.85 398.98L331.97 396.86L332.09 395.23L332.22 394.17L332.34 393.69L332.46 393.82L332.58 394.56L332.71 395.89L332.83 397.78L332.95 400.17L333.07 403.01L333.20 406.20L333.32 409.67L333.44 413.31L333.56 417.02L333.69 420.70L333.81 424.24L333.93 427.54L334.05 430.51L334.18 433.06L334.30 435.12L334.42 436.64L334.54 437.57L334.67 437.89L334.79 437.59L334.91 436.68L335.03 435.19L335.16 433.16L335.28 430.66L335.40 427.76L335.52 424.55L335.65 421.12L335.77 417.56L335.89 413.98L336.01 410.49L336.13 407.18L336.26 404.15L336.38 401.48L336.50 399.24L336.62 397.50L336.75 396.29L336.87 395.65L336.99 395.59L337.11 396.10L337.24 397.16L337.36 398.73L337.48 400.76L337.60 403.18L337.73 405.91L337.85 408.88L337.97 411.98L338.09 415.12L338.22 418.22L338.34 421.17L338.46 423.90L338.58 426.32L338.71 428.38L338.83 430.00L338.95 431.16L339.07 431.82L339.20 431.98L339.32 431.64L339.44 430.82L339.56 429.55L339.69 427.89L339.81 425.89L339.93 423.62L340.05 421.17L340.18 418.60L340.30 416.00L340.42 413.46L340.54 411.06L340.67 408.86L340.79 406.94L340.91 405.35L341.03 404.14L341.15 403.34L341.28 402.96L341.40 403.01L341.52 403.48L341.64 404.36L341.77 405.59L341.89 407.14L342.01 408.94L342.13 410.94L342.26 413.06L342.38 415.24L342.50 417.39L342.62 419.44L342.75 421.33L342.87 422.99L342.99 424.37L343.11 425.43L343.24 426.14L343.36 426.46L343.48 426.40L343.60 425.96L343.73 425.16L343.85 424.03L343.97 422.60L344.09 420.93L344.22 419.08L344.34 417.11L344.46 415.08L344.58 413.07L344.71 411.15L344.83 409.37L344.95 407.80L345.07 406.49L345.20 405.49L345.32 404.82L345.44 404.51L345.56 404.58L345.69 405.01L345.81 405.80L345.93 406.92L346.05 408.33L346.17 409.99L346.30 411.85L346.42 413.84L346.54 415.90L346.66 417.96L346.79 419.96L346.91 421.84L347.03 423.53L347.15 424.98L347.28 426.14L347.40 426.98L347.52 427.47L347.64 427.60L347.77 427.37L347.89 426.77L348.01 425.83L348.13 424.59L348.26 423.07L348.38 421.33L348.50 419.43L348.62 417.42L348.75 415.36L348.87 413.33L348.99 411.37L349.11 409.55L349.24 407.93L349.36 406.55L349.48 405.46L349.60 404.67L349.73 404.22L349.85 404.11L349.97 404.34L350.09 404.90L350.22 405.77L350.34 406.91L350.46 408.28L350.58 409.85L350.71 411.55L350.83 413.34L350.95 415.15L351.07 416.93L351.19 418.62L351.32 420.17L351.44 421.55L351.56 422.70L351.68 423.60L351.81 424.23L351.93 424.58L352.05 424.64L352.17 424.42L352.30 423.93L352.42 423.21L352.54 422.28L352.66 421.18L352.79 419.95L352.91 418.65L353.03 417.31L353.15 415.99L353.28 414.73L353.40 413.58L353.52 412.56L353.64 411.72L353.77 411.08L353.89 410.65L354.01 410.43L354.13 410.44L354.26 410.66L354.38 411.08L354.50 411.67L354.62 412.39L354.75 413.22L354.87 414.12L354.99 415.04L355.11 415.94L355.24 416.79L355.36 417.54L355.48 418.16L355.60 418.62L355.73 418.91L355.85 419.00L355.97 418.89L356.09 418.58L356.22 418.08L356.34 417.42L356.46 416.61L356.58 415.69L356.70 414.69L356.83 413.66L356.95 412.64L357.07 411.68L357.19 410.81L357.32 410.09L357.44 409.55L357.56 409.21L357.68 409.12L357.81 409.27L357.93 409.68L358.05 410.35L358.17 411.27L358.30 412.42L358.42 413.76L358.54 415.26L358.66 416.87L358.79 418.54L358.91 420.23L359.03 421.86L359.15 423.39L359.28 424.75L359.40 425.90L359.52 426.78L359.64 427.36L359.77 427.60L359.89 427.49L360.01 427.00L360.13 426.15L360.26 424.95L360.38 423.41L360.50 421.58L360.62 419.50L360.75 417.23L360.87 414.83L360.99 412.37L361.11 409.91L361.24 407.55L361.36 405.34L361.48 403.36L361.60 401.68L361.72 400.35L361.85 399.43L361.97 398.94L362.09 398.91L362.21 399.36L362.34 400.28L362.46 401.65L362.58 403.45L362.70 405.63L362.83 408.13L362.95 410.89L363.07 413.83L363.19 416.87L363.32 419.92L363.44 422.90L363.56 425.72L363.68 428.29L363.81 430.53L363.93 432.39L364.05 433.80L364.17 434.71L364.30 435.10L364.42 434.95L364.54 434.26L364.66 433.04L364.79 431.32L364.91 429.16L365.03 426.60L365.15 423.73L365.28 420.62L365.40 417.36L365.52 414.05L365.64 410.77L365.77 407.63L365.89 404.72L366.01 402.11L366.13 399.88L366.26 398.11L366.38 396.83L366.50 396.10L366.62 395.91L366.74 396.30L366.87 397.23L366.99 398.68L367.11 400.61L367.23 402.96L367.36 405.66L367.48 408.63L367.60 411.78L367.72 415.01L367.85 418.24L367.97 421.36L368.09 424.29L368.21 426.93L368.34 429.21L368.46 431.08L368.58 432.46L368.70 433.33L368.83 433.66L368.95 433.45L369.07 432.71L369.19 431.46L369.32 429.76L369.44 427.64L369.56 425.19L369.68 422.48L369.81 419.59L369.93 416.62L370.05 413.65L370.17 410.79L370.30 408.11L370.42 405.71L370.54 403.64L370.66 401.98L370.79 400.78L370.91 400.05L371.03 399.84L371.15 400.13L371.28 400.91L371.40 402.17L371.52 403.84L371.64 405.88L371.76 408.21L371.89 410.77L372.01 413.46L372.13 416.21L372.25 418.91L372.38 421.49L372.50 423.86L372.62 425.95L372.74 427.68L372.87 429.00L372.99 429.88L373.11 430.28L373.23 430.20L373.36 429.63L373.48 428.59L373.60 427.12L373.72 425.27L373.85 423.10L373.97 420.67L374.09 418.07L374.21 415.37L374.34 412.68L374.46 410.06L374.58 407.62L374.70 405.42L374.83 403.54L374.95 402.04L375.07 400.97L375.19 400.37L375.32 400.25L375.44 400.63L375.56 401.49L375.68 402.82L375.81 404.56L375.93 406.66L376.05 409.07L376.17 411.71L376.30 414.50L376.42 417.35L376.54 420.17L376.66 422.87L376.78 425.38L376.91 427.61L377.03 429.49L377.15 430.96L377.27 431.99L377.40 432.52L377.52 432.55L377.64 432.08L377.76 431.10L377.89 429.66L378.01 427.80L378.13 425.56L378.25 423.03L378.38 420.26L378.50 417.34L378.62 414.36L378.74 411.42L378.87 408.58L378.99 405.95L379.11 403.59L379.23 401.57L379.36 399.96L379.48 398.80L379.60 398.12L379.72 397.95L379.85 398.27L379.97 399.09L380.09 400.38L380.21 402.09L380.34 404.17L380.46 406.57L380.58 409.20L380.70 412.00L380.83 414.88L380.95 417.75L381.07 420.54L381.19 423.16L381.32 425.54L381.44 427.61L381.56 429.33L381.68 430.63L381.81 431.51L381.93 431.92L382.05 431.88L382.17 431.39L382.29 430.46L382.42 429.15L382.54 427.48L382.66 425.52L382.78 423.33L382.91 420.97L383.03 418.53L383.15 416.06L383.27 413.65L383.40 411.37L383.52 409.26L383.64 407.40L383.76 405.83L383.89 404.59L384.01 403.70L384.13 403.18L384.25 403.03L384.38 403.24L384.50 403.80L384.62 404.67L384.74 405.82L384.87 407.20L384.99 408.76L385.11 410.45L385.23 412.20L385.36 413.97L385.48 415.68L385.60 417.30L385.72 418.78L385.85 420.07L385.97 421.14L386.09 421.96L386.21 422.53L386.34 422.84L386.46 422.89L386.58 422.70L386.70 422.28L386.83 421.66L386.95 420.89L387.07 419.99L387.19 419.00L387.31 417.99L387.44 416.97L387.56 416.00L387.68 415.12L387.80 414.35L387.93 413.73L388.05 413.27L388.17 412.99L388.29 412.90L388.42 412.98L388.54 413.24L388.66 413.64L388.78 414.18L388.91 414.81L389.03 415.51L389.15 416.23L389.27 416.95L389.40 417.62L389.52 418.21L389.64 418.68L389.76 419.01L389.89 419.17L390.01 419.14L390.13 418.93L390.25 418.52L390.38 417.94L390.50 417.18L390.62 416.27L390.74 415.25L390.87 414.14L390.99 413.00L391.11 411.85L391.23 410.75L391.36 409.74L391.48 408.86L391.60 408.16L391.72 407.66L391.85 407.39L391.97 407.39L392.09 407.65L392.21 408.19L392.33 409.00L392.46 410.06L392.58 411.35L392.70 412.84L392.82 414.48L392.95 416.23L393.07 418.05L393.19 419.86L393.31 421.61L393.44 423.26L393.56 424.73L393.68 425.99L393.80 426.98L393.93 427.67L394.05 428.02L394.17 428.02L394.29 427.66L394.42 426.94L394.54 425.87L394.66 424.48L394.78 422.80L394.91 420.88L395.03 418.77L395.15 416.53L395.27 414.22L395.40 411.92L395.52 409.69L395.64 407.60L395.76 405.72L395.89 404.10L396.01 402.79L396.13 401.84L396.25 401.28L396.38 401.14L396.50 401.41L396.62 402.09L396.74 403.18L396.87 404.63L396.99 406.41L397.11 408.47L397.23 410.74L397.35 413.16L397.48 415.66L397.60 418.16L397.72 420.58L397.84 422.86L397.97 424.92L398.09 426.70L398.21 428.15L398.33 429.22L398.46 429.87L398.58 430.10L398.70 429.89L398.82 429.24L398.95 428.18L399.07 426.75L399.19 424.98L399.31 422.93L399.44 420.67L399.56 418.27L399.68 415.80L399.80 413.33L399.93 410.96L400.05 408.75L400.17 406.77L400.29 405.09L400.42 403.76L400.54 402.81L400.66 402.29L400.78 402.20L400.91 402.55L401.03 403.32L401.15 404.50L401.27 406.04L401.40 407.89L401.52 409.99L401.64 412.28L401.76 414.67L401.89 417.10L402.01 419.47L402.13 421.71L402.25 423.76L402.37 425.53L402.50 426.97L402.62 428.03L402.74 428.67L402.86 428.87L402.99 428.63L403.11 427.93L403.23 426.82L403.35 425.31L403.48 423.46L403.60 421.32L403.72 418.97L403.84 416.48L403.97 413.92L404.09 411.38L404.21 408.96L404.33 406.72L404.46 404.74L404.58 403.09L404.70 401.84L404.82 401.01L404.95 400.66L405.07 400.79L405.19 401.40L405.31 402.50L405.44 404.03L405.56 405.98L405.68 408.27L405.80 410.83L405.93 413.60L406.05 416.49L406.17 419.41L406.29 422.26L406.42 424.96L406.54 427.42L406.66 429.57L406.78 431.32L406.91 432.62L407.03 433.42L407.15 433.69L407.27 433.42L407.39 432.61L407.52 431.27L407.64 429.45L407.76 427.17L407.88 424.52L408.01 421.56L408.13 418.39L408.25 415.08L408.37 411.75L408.50 408.49L408.62 405.39L408.74 402.55L408.86 400.06L408.99 397.98L409.11 396.40L409.23 395.35L409.35 394.88L409.48 395.00L409.60 395.70L409.72 396.98L409.84 398.80L409.97 401.12L410.09 403.85L410.21 406.94L410.33 410.29L410.46 413.81L410.58 417.39L410.70 420.93L410.82 424.34L410.95 427.51L411.07 430.36L411.19 432.79L411.31 434.75L411.44 436.18L411.56 437.03L411.68 437.29L411.80 436.95L411.93 436.01L412.05 434.52L412.17 432.50L412.29 430.03L412.41 427.18L412.54 424.02L412.66 420.65L412.78 417.17L412.90 413.67L413.03 410.26L413.15 407.03L413.27 404.06L413.39 401.45L413.52 399.26L413.64 397.55L413.76 396.36L413.88 395.72L414.01 395.64L414.13 396.12L414.25 397.13L414.37 398.63L414.50 400.58L414.62 402.91L414.74 405.56L414.86 408.43L414.99 411.44L415.11 414.50L415.23 417.53L415.35 420.44L415.48 423.14L415.60 425.57L415.72 427.65L415.84 429.34L415.97 430.59L416.09 431.39L416.21 431.71L416.33 431.56L416.46 430.96L416.58 429.93L416.70 428.53L416.82 426.80L416.95 424.80L417.07 422.60L417.19 420.28L417.31 417.91L417.44 415.56L417.56 413.30L417.68 411.21L417.80 409.33L417.92 407.73L418.05 406.43L418.17 405.48L418.29 404.89L418.41 404.67L418.54 404.81L418.66 405.28L418.78 406.08L418.90 407.14L419.03 408.44L419.15 409.91L419.27 411.51L419.39 413.16L419.52 414.82L419.64 416.42L419.76 417.91L419.88 419.24L420.01 420.37L420.13 421.26L420.25 421.89L420.37 422.25L420.50 422.33L420.62 422.13L420.74 421.68L420.86 420.99L420.99 420.11L421.11 419.06L421.23 417.90L421.35 416.66L421.48 415.41L421.60 414.20L421.72 413.06L421.84 412.05L421.97 411.20L422.09 410.55L422.21 410.13L422.33 409.94L422.46 410.01L422.58 410.32L422.70 410.86L422.82 411.62L422.94 412.57L423.07 413.67L423.19 414.88L423.31 416.16L423.43 417.46L423.56 418.73L423.68 419.92L423.80 420.99L423.92 421.89L424.05 422.58L424.17 423.05L424.29 423.26L424.41 423.21L424.54 422.89L424.66 422.30L424.78 421.47L424.90 420.42L425.03 419.17L425.15 417.78L425.27 416.28L425.39 414.72L425.52 413.15L425.64 411.63L425.76 410.21L425.88 408.93L426.01 407.85L426.13 406.99L426.25 406.39L426.37 406.08L426.50 406.06L426.62 406.34L426.74 406.91L426.86 407.76L426.99 408.86L427.11 410.18L427.23 411.68L427.35 413.30L427.48 415.01L427.60 416.74L427.72 418.44L427.84 420.06L427.96 421.54L428.09 422.84L428.21 423.91L428.33 424.72L428.45 425.25L428.58 425.47L428.70 425.38L428.82 424.99L428.94 424.31L429.07 423.36L429.19 422.18L429.31 420.80L429.43 419.27L429.56 417.64L429.68 415.96L429.80 414.30L429.92 412.70L430.05 411.22L430.17 409.91L430.29 408.81L430.41 407.95L430.54 407.37L430.66 407.08L430.78 407.09L430.90 407.39L431.03 407.98L431.15 408.83L431.27 409.91L431.39 411.18L431.52 412.60L431.64 414.10L431.76 415.65L431.88 417.18L432.01 418.64L432.13 419.97L432.25 421.13L432.37 422.08L432.50 422.77L432.62 423.18L432.74 423.30L432.86 423.12L432.98 422.65L433.11 421.89L433.23 420.88L433.35 419.64L433.47 418.23L433.60 416.68L433.72 415.07L433.84 413.44L433.96 411.85L434.09 410.37L434.21 409.05L434.33 407.94L434.45 407.09L434.58 406.54L434.70 406.30L434.82 406.41L434.94 406.86L435.07 407.65L435.19 408.76L435.31 410.17L435.43 411.82L435.56 413.66L435.68 415.66L435.80 417.73L435.92 419.80L436.05 421.82L436.17 423.71L436.29 425.40L436.41 426.83L436.54 427.95L436.66 428.70L436.78 429.06L436.90 429.00L437.03 428.51L437.15 427.60L437.27 426.27L437.39 424.57L437.52 422.53L437.64 420.21L437.76 417.67L437.88 414.99L438.00 412.25L438.13 409.52L438.25 406.90L438.37 404.47L438.49 402.31L438.62 400.48L438.74 399.05L438.86 398.07L438.98 397.59L439.11 397.62L439.23 398.18L439.35 399.26L439.47 400.83L439.60 402.87L439.72 405.32L439.84 408.11L439.96 411.17L440.09 414.42L440.21 417.75L440.33 421.09L440.45 424.32L440.58 427.36L440.70 430.11L440.82 432.49L440.94 434.42L441.07 435.86L441.19 436.74L441.31 437.04L441.43 436.74L441.56 435.85L441.68 434.39L441.80 432.39L441.92 429.91L442.05 427.01L442.17 423.78L442.29 420.30L442.41 416.67L442.54 412.99L442.66 409.38L442.78 405.92L442.90 402.72L443.02 399.88L443.15 397.47L443.27 395.56L443.39 394.20L443.51 393.44L443.64 393.30L443.76 393.78L443.88 394.86L444.00 396.52L444.13 398.70L444.25 401.34L444.37 404.37L444.49 407.69L444.62 411.22L444.74 414.84L444.86 418.47L444.98 421.98L445.11 425.29L445.23 428.30L445.35 430.92L445.47 433.09L445.60 434.74L445.72 435.84L445.84 436.35L445.96 436.27L446.09 435.61L446.21 434.39L446.33 432.66L446.45 430.46L446.58 427.88L446.70 424.98L446.82 421.87L446.94 418.62L447.07 415.35L447.19 412.15L447.31 409.10L447.43 406.31L447.56 403.84L447.68 401.76L447.80 400.14L447.92 399.00L448.05 398.39L448.17 398.30L448.29 398.73L448.41 399.66L448.53 401.04L448.66 402.84L448.78 404.99L448.90 407.40L449.02 410.02L449.15 412.74L449.27 415.49L449.39 418.17L449.51 420.71L449.64 423.03L449.76 425.06L449.88 426.74L450.00 428.02L450.13 428.87L450.25 429.27L450.37 429.22L450.49 428.73L450.62 427.82L450.74 426.52L450.86 424.89L450.98 422.99L451.11 420.88L451.23 418.64L451.35 416.34L451.47 414.06L451.60 411.87L451.72 409.85L451.84 408.07L451.96 406.57L452.09 405.40L452.21 404.61L452.33 404.21L452.45 404.21L452.58 404.62L452.70 405.40L452.82 406.53L452.94 407.98L453.07 409.68L453.19 411.59L453.31 413.63L453.43 415.73L453.55 417.83L453.68 419.85L453.80 421.73L453.92 423.40L454.04 424.80L454.17 425.90L454.29 426.65L454.41 427.02L454.53 427.02L454.66 426.63L454.78 425.87L454.90 424.77L455.02 423.35L455.15 421.68L455.27 419.79L455.39 417.75L455.51 415.64L455.64 413.51L455.76 411.43L455.88 409.48L456.00 407.71L456.13 406.18L456.25 404.94L456.37 404.03L456.49 403.48L456.62 403.31L456.74 403.52L456.86 404.10L456.98 405.03L457.11 406.30L457.23 407.85L457.35 409.63L457.47 411.60L457.60 413.69L457.72 415.83L457.84 417.96L457.96 420.02L458.09 421.94L458.21 423.66L458.33 425.13L458.45 426.32L458.57 427.18L458.70 427.69L458.82 427.84L458.94 427.64L459.06 427.08L459.19 426.19L459.31 425.01L459.43 423.57L459.55 421.92L459.68 420.12L459.80 418.21L459.92 416.27L460.04 414.34L460.17 412.50L460.29 410.79L460.41 409.26L460.53 407.96L460.66 406.92L460.78 406.16L460.90 405.71L461.02 405.57L461.15 405.73L461.27 406.18L461.39 406.90L461.51 407.85L461.64 409.01L461.76 410.32L461.88 411.74L462.00 413.21L462.13 414.70L462.25 416.14L462.37 417.49L462.49 418.71L462.62 419.76L462.74 420.62L462.86 421.26L462.98 421.66L463.11 421.83L463.23 421.77L463.35 421.49L463.47 421.01L463.59 420.35L463.72 419.56L463.84 418.67L463.96 417.71L464.08 416.73L464.21 415.78L464.33 414.89L464.45 414.10L464.57 413.44L464.70 412.94L464.82 412.61L464.94 412.48L465.06 412.53L465.19 412.78L465.31 413.20L465.43 413.78L465.55 414.49L465.68 415.30L465.80 416.17L465.92 417.06L466.04 417.93L466.17 418.75L466.29 419.45L466.41 420.02L466.53 420.42L466.66 420.63L466.78 420.61L466.90 420.37L467.02 419.90L467.15 419.20L467.27 418.30L467.39 417.21L467.51 415.97L467.64 414.62L467.76 413.20L467.88 411.76L468.00 410.35L468.13 409.03L468.25 407.84L468.37 406.84L468.49 406.07L468.61 405.56L468.74 405.35L468.86 405.46L468.98 405.91L469.10 406.68L469.23 407.77L469.35 409.16L469.47 410.82L469.59 412.70L469.72 414.76L469.84 416.93L469.96 419.16L470.08 421.37L470.21 423.50L470.33 425.47L470.45 427.24L470.57 428.72L470.70 429.87L470.82 430.65L470.94 431.02L471.06 430.96L471.19 430.45L471.31 429.51L471.43 428.14L471.55 426.39L471.68 424.28L471.80 421.87L471.92 419.24L472.04 416.45L472.17 413.57L472.29 410.70L472.41 407.91L472.53 405.28L472.66 402.91L472.78 400.85L472.90 399.18L473.02 397.94L473.15 397.18L473.27 396.93L473.39 397.20L473.51 397.99L473.64 399.28L473.76 401.04L473.88 403.23L474.00 405.78L474.12 408.63L474.25 411.69L474.37 414.88L474.49 418.11L474.61 421.28L474.74 424.31L474.86 427.10L474.98 429.58L475.10 431.67L475.23 433.31L475.35 434.45L475.47 435.06L475.59 435.12L475.72 434.62L475.84 433.59L475.96 432.05L476.08 430.04L476.21 427.64L476.33 424.89L476.45 421.90L476.57 418.74L476.70 415.51L476.82 412.30L476.94 409.21L477.06 406.33L477.19 403.74L477.31 401.52L477.43 399.73L477.55 398.42L477.68 397.63L477.80 397.38L477.92 397.67L478.04 398.49L478.17 399.81L478.29 401.59L478.41 403.78L478.53 406.29L478.66 409.06L478.78 411.99L478.90 415.00L479.02 417.99L479.14 420.87L479.27 423.56L479.39 425.97L479.51 428.03L479.63 429.67L479.76 430.86L479.88 431.56L480.00 431.74L480.12 431.42L480.25 430.59L480.37 429.30L480.49 427.59L480.61 425.51L480.74 423.13L480.86 420.54L480.98 417.81L481.10 415.03L481.23 412.29L481.35 409.69L481.47 407.30L481.59 405.20L481.72 403.45L481.84 402.12L481.96 401.24L482.08 400.84L482.21 400.93L482.33 401.51L482.45 402.56L482.57 404.04L482.70 405.90L482.82 408.09L482.94 410.54L483.06 413.15L483.19 415.86L483.31 418.57L483.43 421.19L483.55 423.64L483.68 425.84L483.80 427.71L483.92 429.20L484.04 430.26L484.16 430.85L484.29 430.94L484.41 430.54L484.53 429.66L484.65 428.31L484.78 426.55L484.90 424.42L485.02 421.99L485.14 419.33L485.27 416.53L485.39 413.68L485.51 410.85L485.63 408.15L485.76 405.66L485.88 403.45L486.00 401.59L486.12 400.15L486.25 399.18L486.37 398.69L486.49 398.72L486.61 399.26L486.74 400.30L486.86 401.81L486.98 403.74L487.10 406.05L487.23 408.66L487.35 411.49L487.47 414.46L487.59 417.49L487.72 420.47L487.84 423.33L487.96 425.98L488.08 428.33L488.21 430.33L488.33 431.90L488.45 433.01L488.57 433.62L488.70 433.71L488.82 433.28L488.94 432.35L489.06 430.95L489.18 429.11L489.31 426.89L489.43 424.36L489.55 421.59L489.67 418.66L489.80 415.66L489.92 412.68L490.04 409.79L490.16 407.10L490.29 404.66L490.41 402.55L490.53 400.82L490.65 399.53L490.78 398.69L490.90 398.34L491.02 398.48L491.14 399.09L491.27 400.15L491.39 401.62L491.51 403.47L491.63 405.61L491.76 408.00L491.88 410.56L492.00 413.20L492.12 415.86L492.25 418.45L492.37 420.91L492.49 423.16L492.61 425.15L492.74 426.82L492.86 428.14L492.98 429.07L493.10 429.59L493.23 429.71L493.35 429.43L493.47 428.78L493.59 427.77L493.72 426.46L493.84 424.89L493.96 423.12L494.08 421.21L494.20 419.21L494.33 417.20L494.45 415.23L494.57 413.37L494.69 411.66L494.82 410.15L494.94 408.89L495.06 407.89L495.18 407.18L495.31 406.77L495.43 406.65L495.55 406.81L495.67 407.25L495.80 407.91L495.92 408.78L496.04 409.81L496.16 410.96L496.29 412.17L496.41 413.41L496.53 414.62L496.65 415.76L496.78 416.80L496.90 417.69L497.02 418.42L497.14 418.95L497.27 419.29L497.39 419.43L497.51 419.37L497.63 419.12L497.76 418.72L497.88 418.17L498.00 417.52L498.12 416.81L498.25 416.05L498.37 415.31L498.49 414.61L498.61 413.99L498.74 413.48L498.86 413.12L498.98 412.91L499.10 412.88L499.22 413.03L499.35 413.36L499.47 413.86L499.59 414.51L499.71 415.30L499.84 416.19L499.96 417.14L500.08 418.13L500.20 419.10L500.33 420.01L500.45 420.83L500.57 421.52L500.69 422.04L500.82 422.35L500.94 422.45L501.06 422.30L501.18 421.91L501.31 421.28L501.43 420.41L501.55 419.33L501.67 418.06L501.80 416.63L501.92 415.09L502.04 413.49L502.16 411.88L502.29 410.30L502.41 408.82L502.53 407.48L502.65 406.33L502.78 405.42L502.90 404.79L503.02 404.45L503.14 404.44L503.27 404.76L503.39 405.42L503.51 406.40L503.63 407.68L503.76 409.23L503.88 411.01L504.00 412.97L504.12 415.05L504.25 417.19L504.37 419.34L504.49 421.42L504.61 423.38L504.73 425.14L504.86 426.65L504.98 427.87L505.10 428.75L505.22 429.26L505.35 429.39L505.47 429.11L505.59 428.44L505.71 427.39L505.84 425.99L505.96 424.28L506.08 422.30L506.20 420.11L506.33 417.78L506.45 415.38L506.57 412.98L506.69 410.65L506.82 408.46L506.94 406.47L507.06 404.76L507.18 403.37L507.31 402.34L507.43 401.71L507.55 401.50L507.67 401.72L507.80 402.35L507.92 403.38L508.04 404.78L508.16 406.51L508.29 408.50L508.41 410.71L508.53 413.05L508.65 415.47L508.78 417.87L508.90 420.19L509.02 422.36L509.14 424.29L509.27 425.95L509.39 427.26L509.51 428.20L509.63 428.73L509.75 428.84L509.88 428.51L510.00 427.78L510.12 426.65L510.24 425.16L510.37 423.37L510.49 421.33L510.61 419.11L510.73 416.79L510.86 414.43L510.98 412.11L511.10 409.92L511.22 407.92L511.35 406.18L511.47 404.76L511.59 403.71L511.71 403.06L511.84 402.84L511.96 403.06L512.08 403.70L512.20 404.76L512.33 406.20L512.45 407.97L512.57 410.02L512.69 412.29L512.82 414.69L512.94 417.15L513.06 419.59L513.18 421.93L513.31 424.08L513.43 425.98L513.55 427.56L513.67 428.77L513.80 429.55L513.92 429.88L514.04 429.74L514.16 429.13L514.29 428.06L514.41 426.57L514.53 424.68L514.65 422.46L514.77 419.97L514.90 417.30L515.02 414.51L515.14 411.71L515.26 408.97L515.39 406.39L515.51 404.05L515.63 402.03L515.75 400.39L515.88 399.20L516.00 398.49L516.12 398.30L516.24 398.64L516.37 399.51L516.49 400.89L516.61 402.74L516.73 405.02L516.86 407.65L516.98 410.58L517.10 413.70L517.22 416.94L517.35 420.19L517.47 423.35L517.59 426.34L517.71 429.05L517.84 431.41L517.96 433.35L518.08 434.79L518.20 435.69L518.33 436.03L518.45 435.78L518.57 434.94L518.69 433.54L518.82 431.62L518.94 429.21L519.06 426.40L519.18 423.26L519.31 419.87L519.43 416.34L519.55 412.77L519.67 409.25L519.79 405.89L519.92 402.80L520.04 400.04L520.16 397.72L520.28 395.89L520.41 394.60L520.53 393.90L520.65 393.81L520.77 394.32L520.90 395.43L521.02 397.09L521.14 399.27L521.26 401.90L521.39 404.91L521.51 408.20L521.63 411.69L521.75 415.27L521.88 418.84L522.00 422.30L522.12 425.56L522.24 428.52L522.37 431.10L522.49 433.24L522.61 434.86L522.73 435.94L522.86 436.45L522.98 436.38L523.10 435.73L523.22 434.54L523.35 432.84L523.47 430.68L523.59 428.15L523.71 425.30L523.84 422.23L523.96 419.03L524.08 415.79L524.20 412.61L524.33 409.57L524.45 406.76L524.57 404.26L524.69 402.13L524.81 400.42L524.94 399.18L525.06 398.44L525.18 398.20L525.30 398.46L525.43 399.20L525.55 400.39L525.67 401.98L525.79 403.91L525.92 406.13L526.04 408.55L526.16 411.10L526.28 413.70L526.41 416.27L526.53 418.73L526.65 421.02L526.77 423.07L526.90 424.81L527.02 426.22L527.14 427.26L527.26 427.90L527.39 428.14L527.51 427.98L527.63 427.45L527.75 426.58L527.88 425.39L528.00 423.95L528.12 422.30L528.24 420.52L528.37 418.66L528.49 416.78L528.61 414.95L528.73 413.23L528.86 411.68L528.98 410.34L529.10 409.25L529.22 408.44L529.35 407.93L529.47 407.72L529.59 407.82L529.71 408.21L529.83 408.86L529.96 409.75L530.08 410.83L530.20 412.06L530.32 413.39L530.45 414.76L530.57 416.13L530.69 417.43L530.81 418.63L530.94 419.67L531.06 420.51L531.18 421.14L531.30 421.52L531.43 421.64L531.55 421.50L531.67 421.11L531.79 420.48L531.92 419.64L532.04 418.62L532.16 417.46L532.28 416.20L532.41 414.90L532.53 413.60L532.65 412.35L532.77 411.20L532.90 410.19L533.02 409.37L533.14 408.77L533.26 408.41L533.39 408.31L533.51 408.48L533.63 408.91L533.75 409.60L533.88 410.52L534.00 411.65L534.12 412.95L534.24 414.37L534.37 415.87L534.49 417.40L534.61 418.91L534.73 420.34L534.86 421.65L534.98 422.78L535.10 423.71L535.22 424.39L535.34 424.80L535.47 424.93L535.59 424.76L535.71 424.29L535.83 423.55L535.96 422.55L536.08 421.33L536.20 419.91L536.32 418.35L536.45 416.69L536.57 414.99L536.69 413.30L536.81 411.67L536.94 410.17L537.06 408.83L537.18 407.69L537.30 406.81L537.43 406.20L537.55 405.88L537.67 405.86L537.79 406.15L537.92 406.74L538.04 407.59L538.16 408.69L538.28 410.00L538.41 411.48L538.53 413.07L538.65 414.72L538.77 416.38L538.90 418.00L539.02 419.52L539.14 420.89L539.26 422.06L539.39 423.01L539.51 423.70L539.63 424.11L539.75 424.23L539.88 424.05L540.00 423.60L540.12 422.87L540.24 421.91L540.36 420.75L540.49 419.43L540.61 417.99L540.73 416.50L540.85 415.00L540.98 413.54L541.10 412.19L541.22 410.98L541.34 409.97L541.47 409.18L541.59 408.65L541.71 408.40L541.83 408.43L541.96 408.75L542.08 409.34L542.20 410.18L542.32 411.24L542.45 412.49L542.57 413.87L542.69 415.35L542.81 416.85L542.94 418.33L543.06 419.74L543.18 421.00L543.30 422.09L543.43 422.94L543.55 423.53L543.67 423.83L543.79 423.82L543.92 423.48L544.04 422.83L544.16 421.89L544.28 420.67L544.41 419.21L544.53 417.56L544.65 415.77L544.77 413.90L544.90 412.02L545.02 410.19L545.14 408.47L545.26 406.93L545.38 405.62L545.51 404.60L545.63 403.92L545.75 403.60L545.87 403.67L546.00 404.13L546.12 404.99L546.24 406.24L546.36 407.83L546.49 409.73L546.61 411.89L546.73 414.25L546.85 416.74L546.98 419.28L547.10 421.79L547.22 424.20L547.34 426.42L547.47 428.39L547.59 430.03L547.71 431.29L547.83 432.12L547.96 432.48L548.08 432.35L548.20 431.72L548.32 430.60L548.45 429.01L548.57 426.99L548.69 424.59L548.81 421.87L548.94 418.92L549.06 415.80L549.18 412.61L549.30 409.44L549.43 406.39L549.55 403.54L549.67 400.99L549.79 398.80L549.92 397.06L550.04 395.82L550.16 395.12L550.28 394.98L550.40 395.43L550.53 396.45L550.65 398.02L550.77 400.10L550.89 402.64L551.02 405.57L551.14 408.81L551.26 412.27L551.38 415.85L551.51 419.45L551.63 422.98L551.75 426.32L551.87 429.38L552.00 432.07L552.12 434.33L552.24 436.07L552.36 437.24L552.49 437.83L552.61 437.79L552.73 437.15L552.85 435.90L552.98 434.09L553.10 431.77L553.22 429.01L553.34 425.88L553.47 422.47L553.59 418.89L553.71 415.22L553.83 411.59L553.96 408.08L554.08 404.81L554.20 401.86L554.32 399.31L554.45 397.24L554.57 395.70L554.69 394.73L554.81 394.36L554.94 394.59L555.06 395.41L555.18 396.80L555.30 398.69L555.42 401.05L555.55 403.79L555.67 406.83L555.79 410.08L555.91 413.44L556.04 416.81L556.16 420.10L556.28 423.21L556.40 426.04L556.53 428.53L556.65 430.60L556.77 432.20L556.89 433.29L557.02 433.83L557.14 433.84L557.26 433.30L557.38 432.25L557.51 430.73L557.63 428.79L557.75 426.50L557.87 423.93L558.00 421.16L558.12 418.29L558.24 415.40L558.36 412.59L558.49 409.93L558.61 407.51L558.73 405.39L558.85 403.65L558.98 402.32L559.10 401.44L559.22 401.03L559.34 401.10L559.47 401.63L559.59 402.60L559.71 403.97L559.83 405.69L559.96 407.69L560.08 409.92L560.20 412.28L560.32 414.71L560.44 417.12L560.57 419.44L560.69 421.58L560.81 423.49L560.93 425.09L561.06 426.35L561.18 427.22L561.30 427.69L561.42 427.73L561.55 427.35L561.67 426.58L561.79 425.43L561.91 423.96L562.04 422.21L562.16 420.24L562.28 418.13L562.40 415.94L562.53 413.76L562.65 411.64L562.77 409.66L562.89 407.90L563.02 406.40L563.14 405.21L563.26 404.39L563.38 403.94L563.51 403.89L563.63 404.24L563.75 404.97L563.87 406.06L564.00 407.48L564.12 409.18L564.24 411.10L564.36 413.18L564.49 415.36L564.61 417.56L564.73 419.70L564.85 421.73L564.98 423.58L565.10 425.18L565.22 426.49L565.34 427.46L565.47 428.06L565.59 428.27L565.71 428.09L565.83 427.52L565.95 426.58L566.08 425.30L566.20 423.71L566.32 421.88L566.44 419.85L566.57 417.68L566.69 415.46L566.81 413.24L566.93 411.09L567.06 409.08L567.18 407.27L567.30 405.71L567.42 404.45L567.55 403.53L567.67 402.97L567.79 402.79L567.91 402.98L568.04 403.55L568.16 404.46L568.28 405.69L568.40 407.20L568.53 408.94L568.65 410.85L568.77 412.88L568.89 414.95L569.02 417.01L569.14 419.00L569.26 420.86L569.38 422.53L569.51 423.96L569.63 425.12L569.75 425.98L569.87 426.52L570.00 426.73L570.12 426.61L570.24 426.17L570.36 425.44L570.49 424.44L570.61 423.21L570.73 421.80L570.85 420.26L570.97 418.63L571.10 416.98L571.22 415.36L571.34 413.81L571.46 412.39L571.59 411.13L571.71 410.07L571.83 409.24L571.95 408.66L572.08 408.33L572.20 408.25L572.32 408.43L572.44 408.83L572.57 409.44L572.69 410.22L572.81 411.14L572.93 412.16L573.06 413.23L573.18 414.31L573.30 415.36L573.42 416.34L573.55 417.21L573.67 417.94L573.79 418.50L573.91 418.89L574.04 419.08L574.16 419.08L574.28 418.89L574.40 418.52L574.53 418.00L574.65 417.36L574.77 416.62L574.89 415.83L575.02 415.02L575.14 414.23L575.26 413.50L575.38 412.88L575.51 412.38L575.63 412.05L575.75 411.89L575.87 411.94L575.99 412.19L576.12 412.64L576.24 413.29L576.36 414.12L576.48 415.09L576.61 416.18L576.73 417.36L576.85 418.56L576.97 419.76L577.10 420.90L577.22 421.94L577.34 422.82L577.46 423.51L577.59 423.98L577.71 424.18L577.83 424.11L577.95 423.74L578.08 423.08L578.20 422.14L578.32 420.92L578.44 419.46L578.57 417.80L578.69 415.98L578.81 414.05L578.93 412.07L579.06 410.11L579.18 408.22L579.30 406.47L579.42 404.91L579.55 403.61L579.67 402.62L579.79 401.97L579.91 401.69L580.04 401.82L580.16 402.35L580.28 403.28L580.40 404.61L580.53 406.29L580.65 408.30L580.77 410.57L580.89 413.05L581.01 415.67L581.14 418.36L581.26 421.03L581.38 423.62L581.50 426.03L581.63 428.21L581.75 430.07L581.87 431.56L581.99 432.64L582.12 433.25L582.24 433.38L582.36 433.01L582.48 432.14L582.61 430.80L582.73 429.02L582.85 426.84L582.97 424.32L583.10 421.53L583.22 418.54L583.34 415.45L583.46 412.33L583.59 409.29L583.71 406.40L583.83 403.75L583.95 401.42L584.08 399.47L584.20 397.98L584.32 396.98L584.44 396.50L584.57 396.55L584.69 397.15L584.81 398.27L584.93 399.89L585.06 401.95L585.18 404.40L585.30 407.16L585.42 410.16L585.55 413.31L585.67 416.51L585.79 419.67L585.91 422.71L586.03 425.53L586.16 428.04L586.28 430.19L586.40 431.89L586.52 433.11L586.65 433.81L586.77 433.98L586.89 433.60L587.01 432.70L587.14 431.31L587.26 429.46L587.38 427.22L587.50 424.66L587.63 421.85L587.75 418.88L587.87 415.85L587.99 412.85L588.12 409.96L588.24 407.28L588.36 404.88L588.48 402.85L588.61 401.22L588.73 400.07L588.85 399.40L588.97 399.26L589.10 399.62L589.22 400.49L589.34 401.82L589.46 403.57L589.59 405.69L589.71 408.10L589.83 410.73L589.95 413.49L590.08 416.30L590.20 419.05L590.32 421.68L590.44 424.08L590.57 426.19L590.69 427.94L590.81 429.27L590.93 430.15L591.05 430.55L591.18 430.45L591.30 429.86L591.42 428.80L591.54 427.31L591.67 425.43L591.79 423.23L591.91 420.78L592.03 418.15L592.16 415.44L592.28 412.73L592.40 410.11L592.52 407.66L592.65 405.46L592.77 403.60L592.89 402.11L593.01 401.07L593.14 400.50L593.26 400.42L593.38 400.83L593.50 401.74L593.63 403.10L593.75 404.88L593.87 407.02L593.99 409.47L594.12 412.13L594.24 414.93L594.36 417.79L594.48 420.60L594.61 423.29L594.73 425.76L594.85 427.94L594.97 429.76L595.10 431.16L595.22 432.09L595.34 432.52L595.46 432.44L595.59 431.84L595.71 430.74L595.83 429.17L595.95 427.17L596.08 424.81L596.20 422.15L596.32 419.27L596.44 416.26L596.56 413.21L596.69 410.20L596.81 407.34L596.93 404.70L597.05 402.37L597.18 400.41L597.30 398.89L597.42 397.85L597.54 397.32L597.67 397.31L597.79 397.84L597.91 398.88L598.03 400.40L598.16 402.37L598.28 404.71L598.40 407.36L598.52 410.25L598.65 413.29L598.77 416.39L598.89 419.46L599.01 422.41L599.14 425.16L599.26 427.63L599.38 429.75L599.50 431.46L599.63 432.72L599.75 433.49L599.87 433.76L599.99 433.51L600.12 432.77L600.24 431.57L600.36 429.93L600.48 427.91L600.61 425.58L600.73 423.01L600.85 420.27L600.97 417.44L601.10 414.61L601.22 411.85L601.34 409.25L601.46 406.87L601.58 404.79L601.71 403.05L601.83 401.69L601.95 400.76L602.07 400.26L602.20 400.20L602.32 400.57L602.44 401.35L602.56 402.50L602.69 403.99L602.81 405.76L602.93 407.75L603.05 409.89L603.18 412.12L603.30 414.37L603.42 416.58L603.54 418.67L603.67 420.59L603.79 422.29L603.91 423.73L604.03 424.87L604.16 425.69L604.28 426.17L604.40 426.32L604.52 426.15L604.65 425.68L604.77 424.92L604.89 423.93L605.01 422.75L605.14 421.42L605.26 419.99L605.38 418.52L605.50 417.05L605.63 415.65L605.75 414.35L605.87 413.19L605.99 412.20L606.12 411.42L606.24 410.86L606.36 410.52L606.48 410.42L606.60 410.53L606.73 410.84L606.85 411.32L606.97 411.96L607.09 412.70L607.22 413.52L607.34 414.37L607.46 415.21L607.58 416.00L607.71 416.71L607.83 417.31L607.95 417.76L608.07 418.05L608.20 418.16L608.32 418.10L608.44 417.85L608.56 417.44L608.69 416.88L608.81 416.19L608.93 415.40L609.05 414.56L609.18 413.70L609.30 412.85L609.42 412.06L609.54 411.36L609.67 410.80L609.79 410.40L609.91 410.18L610.03 410.18L610.16 410.40L610.28 410.84L610.40 411.49L610.52 412.36L610.65 413.40L610.77 414.60L610.89 415.92L611.01 417.31L611.14 418.73L611.26 420.13L611.38 421.47L611.50 422.68L611.62 423.74L611.75 424.59L611.87 425.20L611.99 425.53L612.11 425.58L612.24 425.32L612.36 424.75L612.48 423.89L612.60 422.74L612.73 421.34L612.85 419.72L612.97 417.93L613.09 416.02L613.22 414.04L613.34 412.05L613.46 410.12L613.58 408.31L613.71 406.67L613.83 405.25L613.95 404.12L614.07 403.29L614.20 402.81L614.32 402.70L614.44 402.97L614.56 403.61L614.69 404.61L614.81 405.94L614.93 407.57L615.05 409.45L615.18 411.54L615.30 413.76L615.42 416.05L615.54 418.35L615.67 420.58L615.79 422.68L615.91 424.58L616.03 426.22L616.16 427.56L616.28 428.54L616.40 429.15L616.52 429.35L616.64 429.14L616.77 428.53L616.89 427.53L617.01 426.17L617.13 424.50L617.26 422.57L617.38 420.43L617.50 418.15L617.62 415.80L617.75 413.46L617.87 411.20L617.99 409.08L618.11 407.18L618.24 405.56L618.36 404.26L618.48 403.33L618.60 402.79L618.73 402.67L618.85 402.96L618.97 403.65L619.09 404.73L619.22 406.16L619.34 407.88L619.46 409.85L619.58 412.00L619.71 414.27L619.83 416.56L619.95 418.82L620.07 420.96L620.20 422.92L620.32 424.63L620.44 426.03L620.56 427.08L620.69 427.74L620.81 427.99L620.93 427.81L621.05 427.22L621.18 426.23L621.30 424.86L621.42 423.18L621.54 421.22L621.66 419.05L621.79 416.75L621.91 414.38L622.03 412.04L622.15 409.79L622.28 407.71L622.40 405.88L622.52 404.36L622.64 403.20L622.77 402.44L622.89 402.12L623.01 402.26L623.13 402.84L623.26 403.87L623.38 405.31L623.50 407.13L623.62 409.26L623.75 411.65L623.87 414.22L623.99 416.89L624.11 419.57L624.24 422.18L624.36 424.64L624.48 426.86L624.60 428.77L624.73 430.29L624.85 431.39L624.97 432.01L625.09 432.13L625.22 431.74L625.34 430.83L625.46 429.44L625.58 427.59L625.71 425.33L625.83 422.73L625.95 419.87L626.07 416.82L626.20 413.67L626.32 410.53L626.44 407.48L626.56 404.63L626.69 402.05L626.81 399.83L626.93 398.04L627.05 396.74L627.17 395.97L627.30 395.77L627.42 396.15L627.54 397.10L627.66 398.59L627.79 400.60L627.91 403.07L628.03 405.93L628.15 409.10L628.28 412.49L628.40 416.00L628.52 419.54L628.64 423.00L628.77 426.27L628.89 429.27L629.01 431.91L629.13 434.11L629.26 435.79L629.38 436.92L629.50 437.46L629.62 437.39L629.75 436.71L629.87 435.44L629.99 433.61L630.11 431.28L630.24 428.51L630.36 425.38L630.48 421.98L630.60 418.41L630.73 414.77L630.85 411.15L630.97 407.67L631.09 404.43L631.22 401.50L631.34 398.98L631.46 396.94L631.58 395.42L631.71 394.47L631.83 394.11L631.95 394.35L632.07 395.18L632.19 396.56L632.32 398.46L632.44 400.81L632.56 403.54L632.68 406.58L632.81 409.83L632.93 413.19L633.05 416.57L633.17 419.88L633.30 423.02L633.42 425.90L633.54 428.45L633.66 430.59L633.79 432.28L633.91 433.47L634.03 434.13L634.15 434.26L634.28 433.87L634.40 432.97L634.52 431.60L634.64 429.82L634.77 427.67L634.89 425.24L635.01 422.60L635.13 419.83L635.26 417.01L635.38 414.24L635.50 411.59L635.62 409.14L635.75 406.95L635.87 405.09L635.99 403.59L636.11 402.50L636.24 401.84L636.36 401.62L636.48 401.82L636.60 402.43L636.73 403.42L636.85 404.74L636.97 406.35L637.09 408.18L637.21 410.17L637.34 412.25L637.46 414.35L637.58 416.40L637.70 418.34L637.83 420.10L637.95 421.64L638.07 422.91L638.19 423.88L638.32 424.53L638.44 424.84L638.56 424.81L638.68 424.47L638.81 423.82L638.93 422.90L639.05 421.76L639.17 420.44L639.30 419.00L639.42 417.48L639.54 415.95L639.66 414.47L639.79 413.08L639.91 411.84L640.03 410.79L640.15 409.97L640.28 409.40L640.40 409.10L640.52 409.07L640.64 409.32L640.77 409.84L640.89 410.58L641.01 411.54L641.13 412.67L641.26 413.92L641.38 415.25L641.50 416.60L641.62 417.92L641.75 419.17L641.87 420.30L641.99 421.25L642.11 422.00L642.23 422.52L642.36 422.78L642.48 422.77L642.60 422.49L642.72 421.94L642.85 421.15L642.97 420.14L643.09 418.93L643.21 417.58L643.34 416.13L643.46 414.63L643.58 413.13L643.70 411.67L643.83 410.33L643.95 409.13L644.07 408.12L644.19 407.35L644.32 406.84L644.44 406.60L644.56 406.65L644.68 407.00L644.81 407.63L644.93 408.53L645.05 409.66L645.17 411.00L645.30 412.50L645.42 414.11L645.54 415.78L645.66 417.47L645.79 419.10L645.91 420.64L646.03 422.03L646.15 423.23L646.28 424.19L646.40 424.89L646.52 425.30L646.64 425.42L646.77 425.23L646.89 424.74L647.01 423.98L647.13 422.96L647.25 421.71L647.38 420.29L647.50 418.74L647.62 417.10L647.74 415.44L647.87 413.79L647.99 412.23L648.11 410.80L648.23 409.54L648.36 408.49L648.48 407.70L648.60 407.17L648.72 406.93L648.85 406.97L648.97 407.31L649.09 407.91L649.21 408.76L649.34 409.83L649.46 411.07L649.58 412.44L649.70 413.90L649.83 415.38L649.95 416.84L650.07 418.23L650.19 419.49L650.32 420.59L650.44 421.48L650.56 422.13L650.68 422.53L650.81 422.65L650.93 422.50L651.05 422.08L651.17 421.41L651.30 420.51L651.42 419.42L651.54 418.19L651.66 416.84L651.79 415.45L651.91 414.05L652.03 412.71L652.15 411.48L652.27 410.39L652.40 409.51L652.52 408.87L652.64 408.48L652.76 408.38L652.89 408.58L653.01 409.07L653.13 409.84L653.25 410.87L653.38 412.12L653.50 413.57L653.62 415.15L653.74 416.82L653.87 418.52L653.99 420.18L654.11 421.74L654.23 423.15L654.36 424.35L654.48 425.29L654.60 425.93L654.72 426.24L654.85 426.19L654.97 425.77L655.09 425.00L655.21 423.87L655.34 422.41L655.46 420.67L655.58 418.69L655.70 416.53L655.83 414.26L655.95 411.93L656.07 409.64L656.19 407.44L656.32 405.42L656.44 403.65L656.56 402.18L656.68 401.07L656.81 400.37L656.93 400.12L657.05 400.32L657.17 400.99L657.29 402.13L657.42 403.69L657.54 405.66L657.66 407.98L657.78 410.59L657.91 413.41L658.03 416.37L658.15 419.39L658.27 422.37L658.40 425.22L658.52 427.86L658.64 430.21L658.76 432.19L658.89 433.74L659.01 434.80L659.13 435.33L659.25 435.32L659.38 434.74L659.50 433.62L659.62 431.97L659.74 429.83L659.87 427.26L659.99 424.34L660.11 421.13L660.23 417.72L660.36 414.22L660.48 410.72L660.60 407.33L660.72 404.13L660.85 401.23L660.97 398.70L661.09 396.62L661.21 395.07L661.34 394.07L661.46 393.67L661.58 393.87L661.70 394.68L661.83 396.08L661.95 398.02L662.07 400.45L662.19 403.31L662.32 406.52L662.44 409.97L662.56 413.59L662.68 417.25L662.80 420.87L662.93 424.33L663.05 427.54L663.17 430.41L663.29 432.85L663.42 434.80L663.54 436.20L663.66 437.03L663.78 437.24L663.91 436.85L664.03 435.87L664.15 434.33L664.27 432.27L664.40 429.77L664.52 426.89L664.64 423.73L664.76 420.37L664.89 416.91L665.01 413.46L665.13 410.12L665.25 406.98L665.38 404.13L665.50 401.65L665.62 399.61L665.74 398.06L665.87 397.05L665.99 396.59L666.11 396.70L666.23 397.35L666.36 398.53L666.48 400.19L666.60 402.27L666.72 404.71L666.85 407.43L666.97 410.34L667.09 413.34L667.21 416.36L667.34 419.29L667.46 422.05L667.58 424.56L667.70 426.74L667.82 428.53L667.95 429.88L668.07 430.77L668.19 431.16L668.31 431.06L668.44 430.47L668.56 429.43L668.68 427.98L668.80 426.16L668.93 424.04L669.05 421.70L669.17 419.21L669.29 416.65L669.42 414.11L669.54 411.67L669.66 409.41L669.78 407.40L669.91 405.70L670.03 404.36L670.15 403.42L670.27 402.91L670.40 402.83L670.52 403.19L670.64 403.97L670.76 405.14L670.89 406.65L671.01 408.45L671.13 410.48L671.25 412.67L671.38 414.95L671.50 417.23L671.62 419.44L671.74 421.52L671.87 423.38L671.99 424.97L672.11 426.23L672.23 427.14L672.30 427.65L672.30 427.75L672.30 427.43" fill="none" stroke="#ff00ff" stroke-width="1.2" stroke-linejoin="round"/>
<path class="ax" d="M264.2 438.4v-6.4M264.2 341.4v6.4M468.2 438.4v-6.4M468.2 341.4v6.4M60.1 373.6h6.4M672.3 373.6h-6.4M60.1 405.8h6.4M672.3 405.8h-6.4M60.1 437.9h6.4M672.3 437.9h-6.4"/>
<text class="tk" style="font-size:17.6px" x="59.9" y="459.1" text-anchor="middle">0</text>
<text class="tk" style="font-size:17.6px" x="264.0" y="459.1" text-anchor="middle">50</text>
<text class="tk" style="font-size:17.6px" x="468.0" y="459.1" text-anchor="middle">100</text>
<text class="tk" style="font-size:17.6px" x="672.4" y="459.1" text-anchor="middle">150</text>
<text class="tk" x="55.8" y="380.6" text-anchor="end">-5</text>
<text class="tk" x="55.8" y="412.8" text-anchor="end">-10</text>
<text class="tk" x="55.8" y="444.9" text-anchor="end">-15</text>
<text class="lb" x="366.5" y="481.5" text-anchor="middle">Time (sec)</text>
<g transform="translate(26.4 0) rotate(-90)"><text transform="translate(-422.5 0) scale(1.13 1)" font-weight="normal" font-size="20.5" x="0" y="0">Δ</text><text font-size="18.4" x="-404.3" y="0">P MT</text></g>
<text class="tk" y="337.4"><tspan x="61.2" dy="2.4" font-weight="normal" font-size="21.5">×</tspan><tspan x="75.3" dy="-2.4">10</tspan><tspan x="94.0" dy="-8.3" font-size="12.8" letter-spacing="0.5">-3</tspan></text>
<rect x="447.5" y="350.9" width="208.1" height="24.1" fill="#fff" stroke="#262626" stroke-width="1.1"/>
<path d="M454.4 362.9H519.2" stroke="#ff00ff" stroke-width="1.2" fill="none"/>
<text class="lg" x="523.9" y="368.6">Output Power MT</text>
</g>
</svg>
</body></html>
